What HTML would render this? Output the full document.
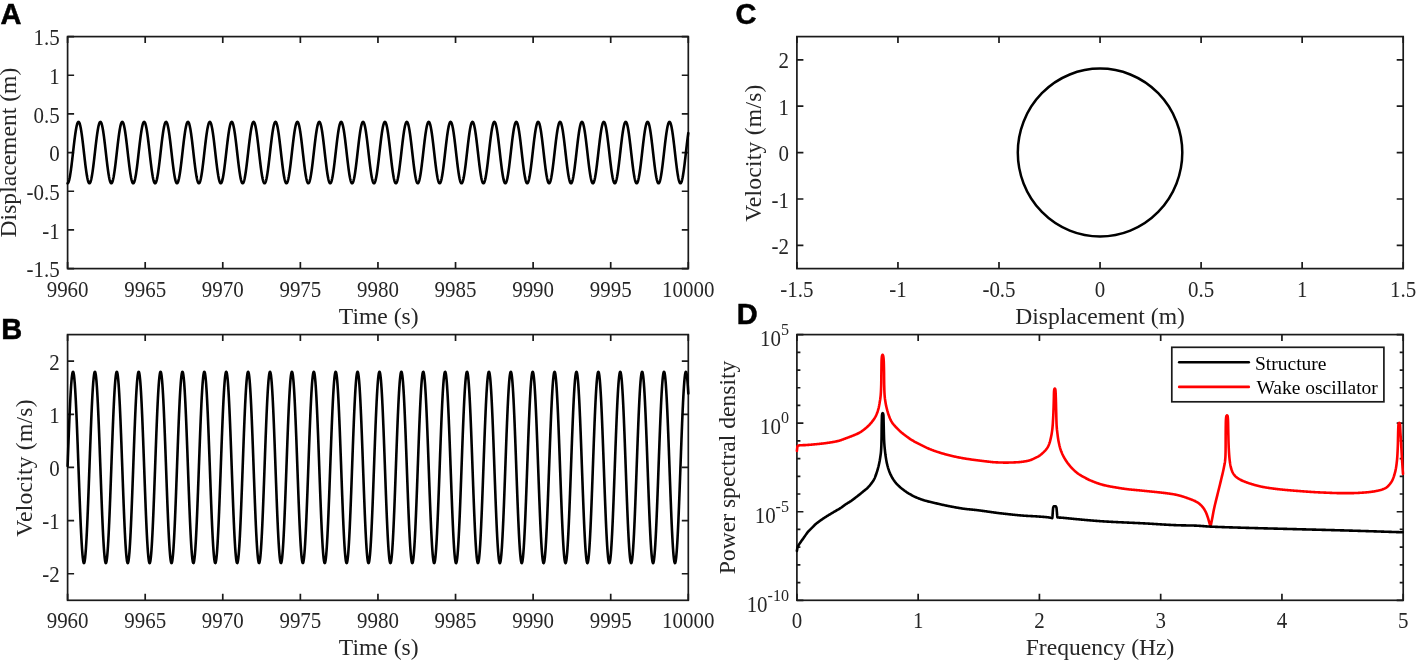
<!DOCTYPE html>
<html><head><meta charset="utf-8"><style>html,body{margin:0;padding:0;background:#fff;}svg{display:block;will-change:transform}text{font-kerning:normal;text-rendering:optimizeLegibility}</style></head>
<body><svg width="1417" height="662" viewBox="0 0 1417 662">
<style>.t{font-family:"Liberation Serif", serif;font-size:21.5px;fill:#262626} .l{font-family:"Liberation Serif", serif;font-size:23.6px;fill:#262626} .p{font-family:"Liberation Sans", sans-serif;font-size:29px;font-weight:bold;fill:#000;stroke:#000;stroke-width:0.5px} .g{font-family:"Liberation Serif", serif;font-size:19.5px;fill:#000} .s{font-family:"Liberation Serif", serif;font-size:16.5px;fill:#262626}</style>
<rect width="1417" height="662" fill="#fff"/>
<rect x="67.6" y="36.6" width="620.7" height="232" fill="none" stroke="#1a1a1a" stroke-width="1.7"/>
<path d="M67.6 268.6v-6.5M67.6 36.6v6.5M145.19 268.6v-6.5M145.19 36.6v6.5M222.77 268.6v-6.5M222.77 36.6v6.5M300.36 268.6v-6.5M300.36 36.6v6.5M377.95 268.6v-6.5M377.95 36.6v6.5M455.54 268.6v-6.5M455.54 36.6v6.5M533.12 268.6v-6.5M533.12 36.6v6.5M610.71 268.6v-6.5M610.71 36.6v6.5M688.3 268.6v-6.5M688.3 36.6v6.5M67.6 268.6h6.5M688.3 268.6h-6.5M67.6 229.93h6.5M688.3 229.93h-6.5M67.6 191.27h6.5M688.3 191.27h-6.5M67.6 152.6h6.5M688.3 152.6h-6.5M67.6 113.93h6.5M688.3 113.93h-6.5M67.6 75.27h6.5M688.3 75.27h-6.5M67.6 36.6h6.5M688.3 36.6h-6.5" stroke="#1a1a1a" stroke-width="1.7" fill="none"/>
<text transform="translate(67.6 296.6) scale(0.975 1.05)" text-anchor="middle" class="t">9960</text>
<text transform="translate(145.19 296.6) scale(0.975 1.05)" text-anchor="middle" class="t">9965</text>
<text transform="translate(222.77 296.6) scale(0.975 1.05)" text-anchor="middle" class="t">9970</text>
<text transform="translate(300.36 296.6) scale(0.975 1.05)" text-anchor="middle" class="t">9975</text>
<text transform="translate(377.95 296.6) scale(0.975 1.05)" text-anchor="middle" class="t">9980</text>
<text transform="translate(455.54 296.6) scale(0.975 1.05)" text-anchor="middle" class="t">9985</text>
<text transform="translate(533.12 296.6) scale(0.975 1.05)" text-anchor="middle" class="t">9990</text>
<text transform="translate(610.71 296.6) scale(0.975 1.05)" text-anchor="middle" class="t">9995</text>
<text transform="translate(688.3 296.6) scale(0.975 1.05)" text-anchor="middle" class="t">10000</text>
<text transform="translate(59.7 277.2) scale(0.975 1.05)" text-anchor="end" class="t">-1.5</text>
<text transform="translate(59.7 238.53) scale(0.975 1.05)" text-anchor="end" class="t">-1</text>
<text transform="translate(59.7 199.87) scale(0.975 1.05)" text-anchor="end" class="t">-0.5</text>
<text transform="translate(59.7 161.2) scale(0.975 1.05)" text-anchor="end" class="t">0</text>
<text transform="translate(59.7 122.53) scale(0.975 1.05)" text-anchor="end" class="t">0.5</text>
<text transform="translate(59.7 83.87) scale(0.975 1.05)" text-anchor="end" class="t">1</text>
<text transform="translate(59.7 45.2) scale(0.975 1.05)" text-anchor="end" class="t">1.5</text>
<text transform="translate(16.1 152.6) rotate(-90)" text-anchor="middle" class="l">Displacement (m)</text>
<text x="378.75" y="323.6" text-anchor="middle" class="l">Time (s)</text>
<rect x="67.6" y="334.6" width="620.7" height="265.7" fill="none" stroke="#1a1a1a" stroke-width="1.7"/>
<path d="M67.6 600.3v-6.5M67.6 334.6v6.5M145.19 600.3v-6.5M145.19 334.6v6.5M222.77 600.3v-6.5M222.77 334.6v6.5M300.36 600.3v-6.5M300.36 334.6v6.5M377.95 600.3v-6.5M377.95 334.6v6.5M455.54 600.3v-6.5M455.54 334.6v6.5M533.12 600.3v-6.5M533.12 334.6v6.5M610.71 600.3v-6.5M610.71 334.6v6.5M688.3 600.3v-6.5M688.3 334.6v6.5M67.6 573.73h6.5M688.3 573.73h-6.5M67.6 520.59h6.5M688.3 520.59h-6.5M67.6 467.45h6.5M688.3 467.45h-6.5M67.6 414.31h6.5M688.3 414.31h-6.5M67.6 361.17h6.5M688.3 361.17h-6.5" stroke="#1a1a1a" stroke-width="1.7" fill="none"/>
<text transform="translate(67.6 628.3) scale(0.975 1.05)" text-anchor="middle" class="t">9960</text>
<text transform="translate(145.19 628.3) scale(0.975 1.05)" text-anchor="middle" class="t">9965</text>
<text transform="translate(222.77 628.3) scale(0.975 1.05)" text-anchor="middle" class="t">9970</text>
<text transform="translate(300.36 628.3) scale(0.975 1.05)" text-anchor="middle" class="t">9975</text>
<text transform="translate(377.95 628.3) scale(0.975 1.05)" text-anchor="middle" class="t">9980</text>
<text transform="translate(455.54 628.3) scale(0.975 1.05)" text-anchor="middle" class="t">9985</text>
<text transform="translate(533.12 628.3) scale(0.975 1.05)" text-anchor="middle" class="t">9990</text>
<text transform="translate(610.71 628.3) scale(0.975 1.05)" text-anchor="middle" class="t">9995</text>
<text transform="translate(688.3 628.3) scale(0.975 1.05)" text-anchor="middle" class="t">10000</text>
<text transform="translate(59.7 582.33) scale(0.975 1.05)" text-anchor="end" class="t">-2</text>
<text transform="translate(59.7 529.19) scale(0.975 1.05)" text-anchor="end" class="t">-1</text>
<text transform="translate(59.7 476.05) scale(0.975 1.05)" text-anchor="end" class="t">0</text>
<text transform="translate(59.7 422.91) scale(0.975 1.05)" text-anchor="end" class="t">1</text>
<text transform="translate(59.7 369.77) scale(0.975 1.05)" text-anchor="end" class="t">2</text>
<text transform="translate(31.9 468.05) rotate(-90)" text-anchor="middle" class="l" textLength="137.3" lengthAdjust="spacing">Velocity (m/s)</text>
<text x="378.75" y="655.3" text-anchor="middle" class="l">Time (s)</text>
<rect x="796.9" y="36.6" width="606.3" height="232" fill="none" stroke="#1a1a1a" stroke-width="1.7"/>
<path d="M796.9 268.6v-6.5M796.9 36.6v6.5M897.95 268.6v-6.5M897.95 36.6v6.5M999 268.6v-6.5M999 36.6v6.5M1100.05 268.6v-6.5M1100.05 36.6v6.5M1201.1 268.6v-6.5M1201.1 36.6v6.5M1302.15 268.6v-6.5M1302.15 36.6v6.5M1403.2 268.6v-6.5M1403.2 36.6v6.5M796.9 245.4h6.5M1403.2 245.4h-6.5M796.9 199h6.5M1403.2 199h-6.5M796.9 152.6h6.5M1403.2 152.6h-6.5M796.9 106.2h6.5M1403.2 106.2h-6.5M796.9 59.8h6.5M1403.2 59.8h-6.5" stroke="#1a1a1a" stroke-width="1.7" fill="none"/>
<text transform="translate(796.9 296.6) scale(0.975 1.05)" text-anchor="middle" class="t">-1.5</text>
<text transform="translate(897.95 296.6) scale(0.975 1.05)" text-anchor="middle" class="t">-1</text>
<text transform="translate(999 296.6) scale(0.975 1.05)" text-anchor="middle" class="t">-0.5</text>
<text transform="translate(1100.05 296.6) scale(0.975 1.05)" text-anchor="middle" class="t">0</text>
<text transform="translate(1201.1 296.6) scale(0.975 1.05)" text-anchor="middle" class="t">0.5</text>
<text transform="translate(1302.15 296.6) scale(0.975 1.05)" text-anchor="middle" class="t">1</text>
<text transform="translate(1403.2 296.6) scale(0.975 1.05)" text-anchor="middle" class="t">1.5</text>
<text transform="translate(789 254) scale(0.975 1.05)" text-anchor="end" class="t">-2</text>
<text transform="translate(789 207.6) scale(0.975 1.05)" text-anchor="end" class="t">-1</text>
<text transform="translate(789 161.2) scale(0.975 1.05)" text-anchor="end" class="t">0</text>
<text transform="translate(789 114.8) scale(0.975 1.05)" text-anchor="end" class="t">1</text>
<text transform="translate(789 68.4) scale(0.975 1.05)" text-anchor="end" class="t">2</text>
<text transform="translate(761.2 153.2) rotate(-90)" text-anchor="middle" class="l" textLength="137.3" lengthAdjust="spacing">Velocity (m/s)</text>
<text x="1100.05" y="323.6" text-anchor="middle" class="l">Displacement (m)</text>
<rect x="796.9" y="334.6" width="606.3" height="265.7" fill="none" stroke="#1a1a1a" stroke-width="1.7"/>
<path d="M796.9 600.3v-6.5M796.9 334.6v6.5M918.16 600.3v-6.5M918.16 334.6v6.5M1039.42 600.3v-6.5M1039.42 334.6v6.5M1160.68 600.3v-6.5M1160.68 334.6v6.5M1281.94 600.3v-6.5M1281.94 334.6v6.5M1403.2 600.3v-6.5M1403.2 334.6v6.5M796.9 600.3h6.5M1403.2 600.3h-6.5M796.9 511.73h6.5M1403.2 511.73h-6.5M796.9 423.17h6.5M1403.2 423.17h-6.5M796.9 334.6h6.5M1403.2 334.6h-6.5M796.9 582.59h3.5M1403.2 582.59h-3.5M796.9 564.87h3.5M1403.2 564.87h-3.5M796.9 547.16h3.5M1403.2 547.16h-3.5M796.9 529.45h3.5M1403.2 529.45h-3.5M796.9 494.02h3.5M1403.2 494.02h-3.5M796.9 476.31h3.5M1403.2 476.31h-3.5M796.9 458.59h3.5M1403.2 458.59h-3.5M796.9 440.88h3.5M1403.2 440.88h-3.5M796.9 405.45h3.5M1403.2 405.45h-3.5M796.9 387.74h3.5M1403.2 387.74h-3.5M796.9 370.03h3.5M1403.2 370.03h-3.5M796.9 352.31h3.5M1403.2 352.31h-3.5" stroke="#1a1a1a" stroke-width="1.7" fill="none"/>
<text transform="translate(796.9 628.3) scale(0.975 1.05)" text-anchor="middle" class="t">0</text>
<text transform="translate(918.16 628.3) scale(0.975 1.05)" text-anchor="middle" class="t">1</text>
<text transform="translate(1039.42 628.3) scale(0.975 1.05)" text-anchor="middle" class="t">2</text>
<text transform="translate(1160.68 628.3) scale(0.975 1.05)" text-anchor="middle" class="t">3</text>
<text transform="translate(1281.94 628.3) scale(0.975 1.05)" text-anchor="middle" class="t">4</text>
<text transform="translate(1403.2 628.3) scale(0.975 1.05)" text-anchor="middle" class="t">5</text>
<text transform="translate(789 611.6) scale(0.975 1.05)" text-anchor="end" class="t">10<tspan class="s" dy="-10.5">-10</tspan></text>
<text transform="translate(789 523.03) scale(0.975 1.05)" text-anchor="end" class="t">10<tspan class="s" dy="-10.5">-5</tspan></text>
<text transform="translate(789 434.47) scale(0.975 1.05)" text-anchor="end" class="t">10<tspan class="s" dy="-10.5">0</tspan></text>
<text transform="translate(789 345.9) scale(0.975 1.05)" text-anchor="end" class="t">10<tspan class="s" dy="-10.5">5</tspan></text>
<text transform="translate(735.1 467.45) rotate(-90)" text-anchor="middle" class="l">Power spectral density</text>
<text x="1100.05" y="655.3" text-anchor="middle" class="l">Frequency (Hz)</text>
<polyline points="67.60,183.30 67.76,183.25 67.91,183.14 68.07,182.96 68.22,182.73 68.38,182.44 68.53,182.09 68.69,181.68 68.84,181.21 69.00,180.69 69.15,180.11 69.31,179.47 69.46,178.78 69.62,178.04 69.77,177.25 69.93,176.41 70.08,175.53 70.24,174.60 70.39,173.62 70.55,172.60 70.70,171.55 70.86,170.45 71.01,169.32 71.17,168.16 71.33,166.96 71.48,165.74 71.64,164.49 71.79,163.22 71.95,161.92 72.10,160.61 72.26,159.28 72.41,157.94 72.57,156.59 72.72,155.23 72.88,153.87 73.03,152.50 73.19,151.13 73.34,149.77 73.50,148.41 73.65,147.06 73.81,145.72 73.96,144.39 74.12,143.08 74.27,141.79 74.43,140.52 74.58,139.28 74.74,138.06 74.90,136.87 75.05,135.71 75.21,134.59 75.36,133.50 75.52,132.45 75.67,131.43 75.83,130.46 75.98,129.54 76.14,128.66 76.29,127.83 76.45,127.04 76.60,126.31 76.76,125.63 76.91,125.00 77.07,124.43 77.22,123.92 77.38,123.46 77.53,123.06 77.69,122.71 77.84,122.43 78.00,122.21 78.15,122.04 78.31,121.94 78.46,121.90 78.62,121.92 78.78,122.00 78.93,122.14 79.09,122.34 79.24,122.60 79.40,122.92 79.55,123.30 79.71,123.74 79.86,124.24 80.02,124.79 80.17,125.40 80.33,126.06 80.48,126.77 80.64,127.54 80.79,128.35 80.95,129.21 81.10,130.12 81.26,131.07 81.41,132.07 81.57,133.11 81.72,134.18 81.88,135.30 82.03,136.44 82.19,137.62 82.35,138.83 82.50,140.07 82.66,141.33 82.81,142.61 82.97,143.91 83.12,145.23 83.28,146.57 83.43,147.91 83.59,149.27 83.74,150.63 83.90,152.00 84.05,153.37 84.21,154.73 84.36,156.10 84.52,157.45 84.67,158.80 84.83,160.13 84.98,161.45 85.14,162.75 85.29,164.03 85.45,165.29 85.60,166.52 85.76,167.72 85.92,168.90 86.07,170.04 86.23,171.15 86.38,172.22 86.54,173.25 86.69,174.24 86.85,175.19 87.00,176.10 87.16,176.95 87.31,177.76 87.47,178.52 87.62,179.23 87.78,179.88 87.93,180.48 88.09,181.03 88.24,181.51 88.40,181.95 88.55,182.32 88.71,182.63 88.86,182.89 89.02,183.08 89.17,183.21 89.33,183.29 89.49,183.30 89.64,183.25 89.80,183.14 89.95,182.97 90.11,182.74 90.26,182.45 90.42,182.10 90.57,181.69 90.73,181.22 90.88,180.70 91.04,180.12 91.19,179.49 91.35,178.80 91.50,178.06 91.66,177.27 91.81,176.44 91.97,175.55 92.12,174.62 92.28,173.64 92.43,172.63 92.59,171.57 92.74,170.48 92.90,169.35 93.06,168.19 93.21,166.99 93.37,165.77 93.52,164.52 93.68,163.25 93.83,161.96 93.99,160.65 94.14,159.32 94.30,157.98 94.45,156.62 94.61,155.27 94.76,153.90 94.92,152.53 95.07,151.17 95.23,149.80 95.38,148.44 95.54,147.09 95.69,145.75 95.85,144.43 96.00,143.12 96.16,141.82 96.31,140.55 96.47,139.31 96.62,138.09 96.78,136.90 96.94,135.74 97.09,134.61 97.25,133.52 97.40,132.47 97.56,131.46 97.71,130.49 97.87,129.56 98.02,128.68 98.18,127.85 98.33,127.06 98.49,126.33 98.64,125.65 98.80,125.02 98.95,124.45 99.11,123.93 99.26,123.47 99.42,123.07 99.57,122.72 99.73,122.44 99.88,122.21 100.04,122.05 100.19,121.94 100.35,121.90 100.51,121.92 100.66,122.00 100.82,122.14 100.97,122.34 101.13,122.60 101.28,122.92 101.44,123.29 101.59,123.73 101.75,124.22 101.90,124.77 102.06,125.38 102.21,126.04 102.37,126.75 102.52,127.52 102.68,128.33 102.83,129.19 102.99,130.10 103.14,131.05 103.30,132.05 103.45,133.08 103.61,134.16 103.76,135.27 103.92,136.41 104.08,137.59 104.23,138.80 104.39,140.04 104.54,141.30 104.70,142.58 104.85,143.88 105.01,145.20 105.16,146.53 105.32,147.88 105.47,149.24 105.63,150.60 105.78,151.97 105.94,153.33 106.09,154.70 106.25,156.06 106.40,157.42 106.56,158.76 106.71,160.10 106.87,161.42 107.02,162.72 107.18,164.00 107.33,165.26 107.49,166.49 107.65,167.69 107.80,168.87 107.96,170.01 108.11,171.12 108.27,172.19 108.42,173.23 108.58,174.22 108.73,175.17 108.89,176.07 109.04,176.93 109.20,177.74 109.35,178.50 109.51,179.21 109.66,179.87 109.82,180.47 109.97,181.01 110.13,181.50 110.28,181.94 110.44,182.31 110.59,182.63 110.75,182.88 110.90,183.08 111.06,183.21 111.22,183.29 111.37,183.30 111.53,183.25 111.68,183.14 111.84,182.97 111.99,182.74 112.15,182.46 112.30,182.11 112.46,181.70 112.61,181.24 112.77,180.71 112.92,180.14 113.08,179.50 113.23,178.82 113.39,178.08 113.54,177.29 113.70,176.46 113.85,175.57 114.01,174.64 114.16,173.67 114.32,172.65 114.47,171.60 114.63,170.51 114.78,169.38 114.94,168.21 115.10,167.02 115.25,165.80 115.41,164.55 115.56,163.28 115.72,161.99 115.87,160.68 116.03,159.35 116.18,158.01 116.34,156.66 116.49,155.30 116.65,153.93 116.80,152.57 116.96,151.20 117.11,149.83 117.27,148.48 117.42,147.12 117.58,145.78 117.73,144.46 117.89,143.15 118.04,141.86 118.20,140.59 118.35,139.34 118.51,138.12 118.67,136.93 118.82,135.77 118.98,134.64 119.13,133.55 119.29,132.50 119.44,131.48 119.60,130.51 119.75,129.58 119.91,128.70 120.06,127.87 120.22,127.08 120.37,126.35 120.53,125.66 120.68,125.03 120.84,124.46 120.99,123.94 121.15,123.48 121.30,123.07 121.46,122.73 121.61,122.44 121.77,122.22 121.92,122.05 122.08,121.94 122.24,121.90 122.39,121.92 122.55,121.99 122.70,122.13 122.86,122.33 123.01,122.59 123.17,122.91 123.32,123.28 123.48,123.72 123.63,124.21 123.79,124.76 123.94,125.36 124.10,126.02 124.25,126.73 124.41,127.50 124.56,128.31 124.72,129.17 124.87,130.08 125.03,131.03 125.18,132.02 125.34,133.06 125.49,134.13 125.65,135.24 125.81,136.39 125.96,137.56 126.12,138.77 126.27,140.00 126.43,141.26 126.58,142.55 126.74,143.85 126.89,145.17 127.05,146.50 127.20,147.85 127.36,149.20 127.51,150.57 127.67,151.93 127.82,153.30 127.98,154.67 128.13,156.03 128.29,157.38 128.44,158.73 128.60,160.06 128.75,161.38 128.91,162.68 129.06,163.97 129.22,165.22 129.38,166.46 129.53,167.67 129.69,168.84 129.84,169.99 130.00,171.10 130.15,172.17 130.31,173.20 130.46,174.20 130.62,175.15 130.77,176.05 130.93,176.91 131.08,177.72 131.24,178.48 131.39,179.19 131.55,179.85 131.70,180.45 131.86,181.00 132.01,181.49 132.17,181.93 132.32,182.30 132.48,182.62 132.63,182.88 132.79,183.07 132.95,183.21 133.10,183.28 133.26,183.30 133.41,183.25 133.57,183.15 133.72,182.98 133.88,182.75 134.03,182.46 134.19,182.12 134.34,181.71 134.50,181.25 134.65,180.73 134.81,180.15 134.96,179.52 135.12,178.84 135.27,178.10 135.43,177.31 135.58,176.48 135.74,175.60 135.89,174.67 136.05,173.69 136.20,172.68 136.36,171.62 136.51,170.53 136.67,169.41 136.83,168.24 136.98,167.05 137.14,165.83 137.29,164.58 137.45,163.31 137.60,162.02 137.76,160.71 137.91,159.38 138.07,158.04 138.22,156.69 138.38,155.33 138.53,153.97 138.69,152.60 138.84,151.23 139.00,149.87 139.15,148.51 139.31,147.16 139.46,145.82 139.62,144.49 139.77,143.18 139.93,141.89 140.08,140.62 140.24,139.37 140.40,138.15 140.55,136.96 140.71,135.80 140.86,134.67 141.02,133.58 141.17,132.52 141.33,131.51 141.48,130.53 141.64,129.61 141.79,128.72 141.95,127.89 142.10,127.10 142.26,126.36 142.41,125.68 142.57,125.05 142.72,124.47 142.88,123.95 143.03,123.49 143.19,123.08 143.34,122.74 143.50,122.45 143.65,122.22 143.81,122.05 143.97,121.95 144.12,121.90 144.28,121.92 144.43,121.99 144.59,122.13 144.74,122.32 144.90,122.58 145.05,122.90 145.21,123.27 145.36,123.71 145.52,124.20 145.67,124.75 145.83,125.35 145.98,126.01 146.14,126.72 146.29,127.48 146.45,128.29 146.60,129.15 146.76,130.05 146.91,131.00 147.07,132.00 147.22,133.03 147.38,134.10 147.54,135.21 147.69,136.36 147.85,137.53 148.00,138.74 148.16,139.97 148.31,141.23 148.47,142.51 148.62,143.82 148.78,145.13 148.93,146.47 149.09,147.81 149.24,149.17 149.40,150.53 149.55,151.90 149.71,153.27 149.86,154.63 150.02,156.00 150.17,157.35 150.33,158.70 150.48,160.03 150.64,161.35 150.79,162.65 150.95,163.93 151.11,165.19 151.26,166.43 151.42,167.64 151.57,168.81 151.73,169.96 151.88,171.07 152.04,172.14 152.19,173.18 152.35,174.17 152.50,175.12 152.66,176.03 152.81,176.89 152.97,177.70 153.12,178.47 153.28,179.18 153.43,179.83 153.59,180.44 153.74,180.99 153.90,181.48 154.05,181.92 154.21,182.29 154.36,182.61 154.52,182.87 154.67,183.07 154.83,183.21 154.99,183.28 155.14,183.30 155.30,183.26 155.45,183.15 155.61,182.98 155.76,182.76 155.92,182.47 156.07,182.13 156.23,181.72 156.38,181.26 156.54,180.74 156.69,180.17 156.85,179.54 157.00,178.85 157.16,178.12 157.31,177.33 157.47,176.50 157.62,175.62 157.78,174.69 157.93,173.72 158.09,172.70 158.24,171.65 158.40,170.56 158.56,169.43 158.71,168.27 158.87,167.08 159.02,165.86 159.18,164.62 159.33,163.34 159.49,162.05 159.64,160.74 159.80,159.42 159.95,158.08 160.11,156.73 160.26,155.37 160.42,154.00 160.57,152.63 160.73,151.27 160.88,149.90 161.04,148.54 161.19,147.19 161.35,145.85 161.50,144.52 161.66,143.21 161.81,141.92 161.97,140.65 162.13,139.40 162.28,138.18 162.44,136.99 162.59,135.82 162.75,134.70 162.90,133.60 163.06,132.55 163.21,131.53 163.37,130.56 163.52,129.63 163.68,128.74 163.83,127.91 163.99,127.12 164.14,126.38 164.30,125.70 164.45,125.06 164.61,124.49 164.76,123.96 164.92,123.50 165.07,123.09 165.23,122.74 165.38,122.46 165.54,122.23 165.70,122.06 165.85,121.95 166.01,121.90 166.16,121.91 166.32,121.99 166.47,122.12 166.63,122.32 166.78,122.57 166.94,122.89 167.09,123.26 167.25,123.70 167.40,124.19 167.56,124.73 167.71,125.33 167.87,125.99 168.02,126.70 168.18,127.46 168.33,128.27 168.49,129.12 168.64,130.03 168.80,130.98 168.95,131.97 169.11,133.00 169.27,134.08 169.42,135.18 169.58,136.33 169.73,137.50 169.89,138.71 170.04,139.94 170.20,141.20 170.35,142.48 170.51,143.78 170.66,145.10 170.82,146.44 170.97,147.78 171.13,149.14 171.28,150.50 171.44,151.86 171.59,153.23 171.75,154.60 171.90,155.96 172.06,157.32 172.21,158.66 172.37,160.00 172.52,161.32 172.68,162.62 172.83,163.90 172.99,165.16 173.15,166.40 173.30,167.61 173.46,168.78 173.61,169.93 173.77,171.04 173.92,172.12 174.08,173.15 174.23,174.15 174.39,175.10 174.54,176.01 174.70,176.87 174.85,177.68 175.01,178.45 175.16,179.16 175.32,179.82 175.47,180.42 175.63,180.97 175.78,181.47 175.94,181.91 176.09,182.28 176.25,182.60 176.40,182.86 176.56,183.06 176.72,183.20 176.87,183.28 177.03,183.30 177.18,183.26 177.34,183.15 177.49,182.99 177.65,182.76 177.80,182.48 177.96,182.14 178.11,181.73 178.27,181.27 178.42,180.75 178.58,180.18 178.73,179.55 178.89,178.87 179.04,178.14 179.20,177.35 179.35,176.52 179.51,175.64 179.66,174.71 179.82,173.74 179.97,172.73 180.13,171.68 180.29,170.59 180.44,169.46 180.60,168.30 180.75,167.11 180.91,165.89 181.06,164.65 181.22,163.38 181.37,162.09 181.53,160.78 181.68,159.45 181.84,158.11 181.99,156.76 182.15,155.40 182.30,154.04 182.46,152.67 182.61,151.30 182.77,149.94 182.92,148.58 183.08,147.22 183.23,145.88 183.39,144.56 183.54,143.24 183.70,141.95 183.86,140.68 184.01,139.43 184.17,138.21 184.32,137.02 184.48,135.85 184.63,134.72 184.79,133.63 184.94,132.57 185.10,131.56 185.25,130.58 185.41,129.65 185.56,128.77 185.72,127.93 185.87,127.14 186.03,126.40 186.18,125.71 186.34,125.08 186.49,124.50 186.65,123.98 186.80,123.51 186.96,123.10 187.11,122.75 187.27,122.46 187.43,122.23 187.58,122.06 187.74,121.95 187.89,121.90 188.05,121.91 188.20,121.99 188.36,122.12 188.51,122.31 188.67,122.57 188.82,122.88 188.98,123.25 189.13,123.68 189.29,124.17 189.44,124.72 189.60,125.32 189.75,125.97 189.91,126.68 190.06,127.44 190.22,128.25 190.37,129.10 190.53,130.01 190.68,130.95 190.84,131.95 190.99,132.98 191.15,134.05 191.31,135.16 191.46,136.30 191.62,137.47 191.77,138.68 191.93,139.91 192.08,141.17 192.24,142.45 192.39,143.75 192.55,145.07 192.70,146.40 192.86,147.75 193.01,149.10 193.17,150.46 193.32,151.83 193.48,153.20 193.63,154.57 193.79,155.93 193.94,157.28 194.10,158.63 194.25,159.97 194.41,161.29 194.56,162.59 194.72,163.87 194.88,165.13 195.03,166.37 195.19,167.58 195.34,168.76 195.50,169.90 195.65,171.01 195.81,172.09 195.96,173.13 196.12,174.12 196.27,175.08 196.43,175.99 196.58,176.85 196.74,177.66 196.89,178.43 197.05,179.14 197.20,179.80 197.36,180.41 197.51,180.96 197.67,181.46 197.82,181.90 197.98,182.28 198.13,182.60 198.29,182.86 198.45,183.06 198.60,183.20 198.76,183.28 198.91,183.30 199.07,183.26 199.22,183.16 199.38,182.99 199.53,182.77 199.69,182.49 199.84,182.14 200.00,181.74 200.15,181.28 200.31,180.77 200.46,180.20 200.62,179.57 200.77,178.89 200.93,178.16 201.08,177.37 201.24,176.54 201.39,175.66 201.55,174.74 201.70,173.77 201.86,172.76 202.02,171.70 202.17,170.62 202.33,169.49 202.48,168.33 202.64,167.14 202.79,165.92 202.95,164.68 203.10,163.41 203.26,162.12 203.41,160.81 203.57,159.48 203.72,158.14 203.88,156.79 204.03,155.43 204.19,154.07 204.34,152.70 204.50,151.33 204.65,149.97 204.81,148.61 204.96,147.26 205.12,145.92 205.27,144.59 205.43,143.28 205.59,141.98 205.74,140.71 205.90,139.46 206.05,138.24 206.21,137.04 206.36,135.88 206.52,134.75 206.67,133.66 206.83,132.60 206.98,131.58 207.14,130.61 207.29,129.67 207.45,128.79 207.60,127.95 207.76,127.16 207.91,126.42 208.07,125.73 208.22,125.09 208.38,124.51 208.53,123.99 208.69,123.52 208.84,123.11 209.00,122.76 209.15,122.47 209.31,122.24 209.47,122.06 209.62,121.95 209.78,121.90 209.93,121.91 210.09,121.98 210.24,122.12 210.40,122.31 210.55,122.56 210.71,122.87 210.86,123.24 211.02,123.67 211.17,124.16 211.33,124.70 211.48,125.30 211.64,125.96 211.79,126.66 211.95,127.42 212.10,128.23 212.26,129.08 212.41,129.98 212.57,130.93 212.72,131.92 212.88,132.95 213.04,134.02 213.19,135.13 213.35,136.27 213.50,137.45 213.66,138.65 213.81,139.88 213.97,141.14 214.12,142.42 214.28,143.72 214.43,145.04 214.59,146.37 214.74,147.71 214.90,149.07 215.05,150.43 215.21,151.80 215.36,153.16 215.52,154.53 215.67,155.89 215.83,157.25 215.98,158.60 216.14,159.93 216.29,161.25 216.45,162.56 216.61,163.84 216.76,165.10 216.92,166.34 217.07,167.55 217.23,168.73 217.38,169.87 217.54,170.99 217.69,172.06 217.85,173.10 218.00,174.10 218.16,175.05 218.31,175.97 218.47,176.83 218.62,177.64 218.78,178.41 218.93,179.13 219.09,179.79 219.24,180.40 219.40,180.95 219.55,181.45 219.71,181.89 219.86,182.27 220.02,182.59 220.18,182.85 220.33,183.06 220.49,183.20 220.64,183.28 220.80,183.30 220.95,183.26 221.11,183.16 221.26,183.00 221.42,182.78 221.57,182.49 221.73,182.15 221.88,181.75 222.04,181.30 222.19,180.78 222.35,180.21 222.50,179.59 222.66,178.91 222.81,178.18 222.97,177.39 223.12,176.56 223.28,175.68 223.43,174.76 223.59,173.79 223.75,172.78 223.90,171.73 224.06,170.64 224.21,169.52 224.37,168.36 224.52,167.17 224.68,165.95 224.83,164.71 224.99,163.44 225.14,162.15 225.30,160.84 225.45,159.52 225.61,158.18 225.76,156.83 225.92,155.47 226.07,154.10 226.23,152.74 226.38,151.37 226.54,150.00 226.69,148.64 226.85,147.29 227.00,145.95 227.16,144.62 227.32,143.31 227.47,142.01 227.63,140.74 227.78,139.49 227.94,138.27 228.09,137.07 228.25,135.91 228.40,134.78 228.56,133.68 228.71,132.62 228.87,131.61 229.02,130.63 229.18,129.70 229.33,128.81 229.49,127.97 229.64,127.18 229.80,126.43 229.95,125.74 230.11,125.11 230.26,124.53 230.42,124.00 230.57,123.53 230.73,123.12 230.88,122.77 231.04,122.47 231.20,122.24 231.35,122.07 231.51,121.95 231.66,121.90 231.82,121.91 231.97,121.98 232.13,122.11 232.28,122.30 232.44,122.55 232.59,122.86 232.75,123.23 232.90,123.66 233.06,124.15 233.21,124.69 233.37,125.29 233.52,125.94 233.68,126.64 233.83,127.40 233.99,128.21 234.14,129.06 234.30,129.96 234.45,130.91 234.61,131.90 234.77,132.93 234.92,134.00 235.08,135.10 235.23,136.24 235.39,137.42 235.54,138.62 235.70,139.85 235.85,141.11 236.01,142.39 236.16,143.69 236.32,145.00 236.47,146.34 236.63,147.68 236.78,149.04 236.94,150.40 237.09,151.76 237.25,153.13 237.40,154.50 237.56,155.86 237.71,157.22 237.87,158.56 238.02,159.90 238.18,161.22 238.34,162.52 238.49,163.81 238.65,165.07 238.80,166.31 238.96,167.52 239.11,168.70 239.27,169.85 239.42,170.96 239.58,172.04 239.73,173.08 239.89,174.08 240.04,175.03 240.20,175.94 240.35,176.81 240.51,177.63 240.66,178.39 240.82,179.11 240.97,179.77 241.13,180.38 241.28,180.94 241.44,181.43 241.59,181.88 241.75,182.26 241.91,182.58 242.06,182.85 242.22,183.05 242.37,183.20 242.53,183.28 242.68,183.30 242.84,183.26 242.99,183.16 243.15,183.00 243.30,182.78 243.46,182.50 243.61,182.16 243.77,181.76 243.92,181.31 244.08,180.80 244.23,180.23 244.39,179.60 244.54,178.92 244.70,178.19 244.85,177.41 245.01,176.58 245.16,175.71 245.32,174.78 245.48,173.82 245.63,172.81 245.79,171.76 245.94,170.67 246.10,169.55 246.25,168.39 246.41,167.20 246.56,165.98 246.72,164.74 246.87,163.47 247.03,162.18 247.18,160.87 247.34,159.55 247.49,158.21 247.65,156.86 247.80,155.50 247.96,154.14 248.11,152.77 248.27,151.40 248.42,150.04 248.58,148.68 248.73,147.32 248.89,145.98 249.04,144.65 249.20,143.34 249.36,142.05 249.51,140.77 249.67,139.52 249.82,138.30 249.98,137.10 250.13,135.94 250.29,134.81 250.44,133.71 250.60,132.65 250.75,131.63 250.91,130.65 251.06,129.72 251.22,128.83 251.37,127.99 251.53,127.19 251.68,126.45 251.84,125.76 251.99,125.12 252.15,124.54 252.30,124.01 252.46,123.54 252.61,123.13 252.77,122.78 252.93,122.48 253.08,122.25 253.24,122.07 253.39,121.96 253.55,121.90 253.70,121.91 253.86,121.98 254.01,122.11 254.17,122.30 254.32,122.55 254.48,122.86 254.63,123.22 254.79,123.65 254.94,124.13 255.10,124.68 255.25,125.27 255.41,125.92 255.56,126.62 255.72,127.38 255.87,128.18 256.03,129.04 256.18,129.94 256.34,130.88 256.50,131.87 256.65,132.90 256.81,133.97 256.96,135.07 257.12,136.21 257.27,137.39 257.43,138.59 257.58,139.82 257.74,141.08 257.89,142.35 258.05,143.65 258.20,144.97 258.36,146.30 258.51,147.65 258.67,149.00 258.82,150.36 258.98,151.73 259.13,153.10 259.29,154.46 259.44,155.83 259.60,157.18 259.75,158.53 259.91,159.87 260.07,161.19 260.22,162.49 260.38,163.78 260.53,165.04 260.69,166.28 260.84,167.49 261.00,168.67 261.15,169.82 261.31,170.93 261.46,172.01 261.62,173.05 261.77,174.05 261.93,175.01 262.08,175.92 262.24,176.79 262.39,177.61 262.55,178.37 262.70,179.09 262.86,179.76 263.01,180.37 263.17,180.92 263.32,181.42 263.48,181.86 263.64,182.25 263.79,182.57 263.95,182.84 264.10,183.05 264.26,183.19 264.41,183.28 264.57,183.30 264.72,183.26 264.88,183.17 265.03,183.01 265.19,182.79 265.34,182.51 265.50,182.17 265.65,181.77 265.81,181.32 265.96,180.81 266.12,180.24 266.27,179.62 266.43,178.94 266.58,178.21 266.74,177.43 266.89,176.61 267.05,175.73 267.20,174.81 267.36,173.84 267.52,172.83 267.67,171.78 267.83,170.70 267.98,169.57 268.14,168.42 268.29,167.23 268.45,166.01 268.60,164.77 268.76,163.50 268.91,162.21 269.07,160.91 269.22,159.58 269.38,158.24 269.53,156.89 269.69,155.53 269.84,154.17 270.00,152.80 270.15,151.44 270.31,150.07 270.46,148.71 270.62,147.36 270.77,146.02 270.93,144.69 271.09,143.37 271.24,142.08 271.40,140.80 271.55,139.55 271.71,138.33 271.86,137.13 272.02,135.97 272.17,134.83 272.33,133.74 272.48,132.68 272.64,131.66 272.79,130.68 272.95,129.74 273.10,128.85 273.26,128.01 273.41,127.21 273.57,126.47 273.72,125.78 273.88,125.14 274.03,124.55 274.19,124.03 274.34,123.55 274.50,123.14 274.66,122.78 274.81,122.49 274.97,122.25 275.12,122.07 275.28,121.96 275.43,121.90 275.59,121.91 275.74,121.98 275.90,122.10 276.05,122.29 276.21,122.54 276.36,122.85 276.52,123.21 276.67,123.64 276.83,124.12 276.98,124.66 277.14,125.26 277.29,125.91 277.45,126.61 277.60,127.36 277.76,128.16 277.91,129.02 278.07,129.91 278.23,130.86 278.38,131.85 278.54,132.87 278.69,133.94 278.85,135.05 279.00,136.19 279.16,137.36 279.31,138.56 279.47,139.79 279.62,141.04 279.78,142.32 279.93,143.62 280.09,144.94 280.24,146.27 280.40,147.61 280.55,148.97 280.71,150.33 280.86,151.70 281.02,153.06 281.17,154.43 281.33,155.79 281.48,157.15 281.64,158.50 281.80,159.83 281.95,161.16 282.11,162.46 282.26,163.75 282.42,165.01 282.57,166.25 282.73,167.46 282.88,168.64 283.04,169.79 283.19,170.91 283.35,171.99 283.50,173.03 283.66,174.03 283.81,174.99 283.97,175.90 284.12,176.77 284.28,177.59 284.43,178.36 284.59,179.07 284.74,179.74 284.90,180.35 285.05,180.91 285.21,181.41 285.36,181.85 285.52,182.24 285.68,182.57 285.83,182.83 285.99,183.04 286.14,183.19 286.30,183.28 286.45,183.30 286.61,183.27 286.76,183.17 286.92,183.01 287.07,182.79 287.23,182.52 287.38,182.18 287.54,181.79 287.69,181.33 287.85,180.82 288.00,180.26 288.16,179.63 288.31,178.96 288.47,178.23 288.62,177.45 288.78,176.63 288.93,175.75 289.09,174.83 289.25,173.87 289.40,172.86 289.56,171.81 289.71,170.72 289.87,169.60 290.02,168.45 290.18,167.26 290.33,166.04 290.49,164.80 290.64,163.53 290.80,162.25 290.95,160.94 291.11,159.61 291.26,158.28 291.42,156.93 291.57,155.57 291.73,154.20 291.88,152.84 292.04,151.47 292.19,150.10 292.35,148.74 292.50,147.39 292.66,146.05 292.82,144.72 292.97,143.41 293.13,142.11 293.28,140.84 293.44,139.58 293.59,138.36 293.75,137.16 293.90,135.99 294.06,134.86 294.21,133.76 294.37,132.70 294.52,131.68 294.68,130.70 294.83,129.76 294.99,128.87 295.14,128.03 295.30,127.23 295.45,126.49 295.61,125.79 295.76,125.15 295.92,124.57 296.07,124.04 296.23,123.57 296.39,123.15 296.54,122.79 296.70,122.49 296.85,122.26 297.01,122.08 297.16,121.96 297.32,121.90 297.47,121.91 297.63,121.97 297.78,122.10 297.94,122.29 298.09,122.53 298.25,122.84 298.40,123.20 298.56,123.63 298.71,124.11 298.87,124.65 299.02,125.24 299.18,125.89 299.33,126.59 299.49,127.34 299.64,128.14 299.80,128.99 299.96,129.89 300.11,130.83 300.27,131.82 300.42,132.85 300.58,133.91 300.73,135.02 300.89,136.16 301.04,137.33 301.20,138.53 301.35,139.76 301.51,141.01 301.66,142.29 301.82,143.59 301.97,144.91 302.13,146.24 302.28,147.58 302.44,148.93 302.59,150.30 302.75,151.66 302.90,153.03 303.06,154.40 303.21,155.76 303.37,157.12 303.52,158.46 303.68,159.80 303.84,161.12 303.99,162.43 304.15,163.71 304.30,164.98 304.46,166.22 304.61,167.43 304.77,168.61 304.92,169.76 305.08,170.88 305.23,171.96 305.39,173.00 305.54,174.00 305.70,174.96 305.85,175.88 306.01,176.75 306.16,177.57 306.32,178.34 306.47,179.06 306.63,179.72 306.78,180.34 306.94,180.90 307.09,181.40 307.25,181.84 307.41,182.23 307.56,182.56 307.72,182.83 307.87,183.04 308.03,183.19 308.18,183.27 308.34,183.30 308.49,183.27 308.65,183.17 308.80,183.02 308.96,182.80 309.11,182.53 309.27,182.19 309.42,181.80 309.58,181.34 309.73,180.84 309.89,180.27 310.04,179.65 310.20,178.98 310.35,178.25 310.51,177.47 310.66,176.65 310.82,175.77 310.98,174.85 311.13,173.89 311.29,172.88 311.44,171.84 311.60,170.75 311.75,169.63 311.91,168.48 312.06,167.29 312.22,166.07 312.37,164.83 312.53,163.57 312.68,162.28 312.84,160.97 312.99,159.65 313.15,158.31 313.30,156.96 313.46,155.60 313.61,154.24 313.77,152.87 313.92,151.50 314.08,150.14 314.23,148.78 314.39,147.42 314.55,146.08 314.70,144.75 314.86,143.44 315.01,142.14 315.17,140.87 315.32,139.61 315.48,138.39 315.63,137.19 315.79,136.02 315.94,134.89 316.10,133.79 316.25,132.73 316.41,131.70 316.56,130.72 316.72,129.79 316.87,128.89 317.03,128.05 317.18,127.25 317.34,126.51 317.49,125.81 317.65,125.17 317.80,124.58 317.96,124.05 318.12,123.58 318.27,123.16 318.43,122.80 318.58,122.50 318.74,122.26 318.89,122.08 319.05,121.96 319.20,121.90 319.36,121.91 319.51,121.97 319.67,122.10 319.82,122.28 319.98,122.53 320.13,122.83 320.29,123.19 320.44,123.62 320.60,124.10 320.75,124.63 320.91,125.23 321.06,125.87 321.22,126.57 321.37,127.32 321.53,128.12 321.68,128.97 321.84,129.87 322.00,130.81 322.15,131.80 322.31,132.82 322.46,133.89 322.62,134.99 322.77,136.13 322.93,137.30 323.08,138.50 323.24,139.73 323.39,140.98 323.55,142.26 323.70,143.56 323.86,144.87 324.01,146.20 324.17,147.55 324.32,148.90 324.48,150.26 324.63,151.63 324.79,153.00 324.94,154.36 325.10,155.73 325.25,157.08 325.41,158.43 325.57,159.77 325.72,161.09 325.88,162.40 326.03,163.68 326.19,164.95 326.34,166.19 326.50,167.40 326.65,168.58 326.81,169.73 326.96,170.85 327.12,171.93 327.27,172.98 327.43,173.98 327.58,174.94 327.74,175.85 327.89,176.72 328.05,177.55 328.20,178.32 328.36,179.04 328.51,179.71 328.67,180.32 328.82,180.88 328.98,181.39 329.14,181.83 329.29,182.22 329.45,182.55 329.60,182.82 329.76,183.03 329.91,183.18 330.07,183.27 330.22,183.30 330.38,183.27 330.53,183.18 330.69,183.02 330.84,182.81 331.00,182.53 331.15,182.20 331.31,181.81 331.46,181.36 331.62,180.85 331.77,180.28 331.93,179.67 332.08,178.99 332.24,178.27 332.39,177.49 332.55,176.67 332.71,175.80 332.86,174.88 333.02,173.91 333.17,172.91 333.33,171.86 333.48,170.78 333.64,169.66 333.79,168.51 333.95,167.32 334.10,166.11 334.26,164.86 334.41,163.60 334.57,162.31 334.72,161.00 334.88,159.68 335.03,158.34 335.19,156.99 335.34,155.64 335.50,154.27 335.65,152.91 335.81,151.54 335.96,150.17 336.12,148.81 336.28,147.46 336.43,146.12 336.59,144.78 336.74,143.47 336.90,142.17 337.05,140.90 337.21,139.65 337.36,138.42 337.52,137.22 337.67,136.05 337.83,134.92 337.98,133.82 338.14,132.75 338.29,131.73 338.45,130.75 338.60,129.81 338.76,128.92 338.91,128.07 339.07,127.27 339.22,126.52 339.38,125.83 339.53,125.18 339.69,124.60 339.85,124.06 340.00,123.59 340.16,123.17 340.31,122.81 340.47,122.51 340.62,122.27 340.78,122.09 340.93,121.97 341.09,121.91 341.24,121.91 341.40,121.97 341.55,122.09 341.71,122.28 341.86,122.52 342.02,122.82 342.17,123.19 342.33,123.61 342.48,124.08 342.64,124.62 342.79,125.21 342.95,125.86 343.10,126.55 343.26,127.30 343.41,128.10 343.57,128.95 343.73,129.85 343.88,130.79 344.04,131.77 344.19,132.80 344.35,133.86 344.50,134.96 344.66,136.10 344.81,137.27 344.97,138.47 345.12,139.70 345.28,140.95 345.43,142.23 345.59,143.52 345.74,144.84 345.90,146.17 346.05,147.51 346.21,148.87 346.36,150.23 346.52,151.59 346.67,152.96 346.83,154.33 346.98,155.69 347.14,157.05 347.30,158.40 347.45,159.74 347.61,161.06 347.76,162.36 347.92,163.65 348.07,164.92 348.23,166.16 348.38,167.37 348.54,168.55 348.69,169.71 348.85,170.82 349.00,171.91 349.16,172.95 349.31,173.95 349.47,174.92 349.62,175.83 349.78,176.70 349.93,177.53 350.09,178.30 350.24,179.02 350.40,179.69 350.55,180.31 350.71,180.87 350.87,181.38 351.02,181.82 351.18,182.21 351.33,182.55 351.49,182.82 351.64,183.03 351.80,183.18 351.95,183.27 352.11,183.30 352.26,183.27 352.42,183.18 352.57,183.03 352.73,182.81 352.88,182.54 353.04,182.21 353.19,181.82 353.35,181.37 353.50,180.86 353.66,180.30 353.81,179.68 353.97,179.01 354.12,178.29 354.28,177.51 354.44,176.69 354.59,175.82 354.75,174.90 354.90,173.94 355.06,172.93 355.21,171.89 355.37,170.81 355.52,169.69 355.68,168.53 355.83,167.35 355.99,166.14 356.14,164.89 356.30,163.63 356.45,162.34 356.61,161.04 356.76,159.71 356.92,158.38 357.07,157.03 357.23,155.67 357.38,154.31 357.54,152.94 357.69,151.57 357.85,150.21 358.01,148.84 358.16,147.49 358.32,146.15 358.47,144.82 358.63,143.50 358.78,142.21 358.94,140.93 359.09,139.68 359.25,138.45 359.40,137.25 359.56,136.08 359.71,134.94 359.87,133.84 360.02,132.78 360.18,131.75 360.33,130.77 360.49,129.83 360.64,128.94 360.80,128.09 360.95,127.29 361.11,126.54 361.26,125.84 361.42,125.20 361.57,124.61 361.73,124.08 361.89,123.60 362.04,123.18 362.20,122.82 362.35,122.51 362.51,122.27 362.66,122.09 362.82,121.97 362.97,121.91 363.13,121.91 363.28,121.97 363.44,122.09 363.59,122.27 363.75,122.51 363.90,122.81 364.06,123.18 364.21,123.60 364.37,124.07 364.52,124.61 364.68,125.19 364.83,125.84 364.99,126.54 365.14,127.28 365.30,128.08 365.46,128.93 365.61,129.82 365.77,130.76 365.92,131.75 366.08,132.77 366.23,133.83 366.39,134.94 366.54,136.07 366.70,137.24 366.85,138.44 367.01,139.67 367.16,140.92 367.32,142.20 367.47,143.49 367.63,144.81 367.78,146.14 367.94,147.48 368.09,148.83 368.25,150.19 368.40,151.56 368.56,152.93 368.71,154.30 368.87,155.66 369.03,157.02 369.18,158.37 369.34,159.70 369.49,161.03 369.65,162.33 369.80,163.62 369.96,164.88 370.11,166.13 370.27,167.34 370.42,168.52 370.58,169.68 370.73,170.80 370.89,171.88 371.04,172.93 371.20,173.93 371.35,174.89 371.51,175.81 371.66,176.68 371.82,177.51 371.97,178.28 372.13,179.01 372.28,179.68 372.44,180.29 372.60,180.86 372.75,181.36 372.91,181.81 373.06,182.20 373.22,182.54 373.37,182.81 373.53,183.02 373.68,183.18 373.84,183.27 373.99,183.30 374.15,183.27 374.30,183.18 374.46,183.03 374.61,182.82 374.77,182.55 374.92,182.22 375.08,181.83 375.23,181.38 375.39,180.87 375.54,180.31 375.70,179.70 375.85,179.03 376.01,178.31 376.17,177.53 376.32,176.71 376.48,175.84 376.63,174.92 376.79,173.96 376.94,172.96 377.10,171.92 377.25,170.83 377.41,169.72 377.56,168.56 377.72,167.38 377.87,166.17 378.03,164.93 378.18,163.66 378.34,162.37 378.49,161.07 378.65,159.75 378.80,158.41 378.96,157.06 379.11,155.70 379.27,154.34 379.42,152.97 379.58,151.61 379.73,150.24 379.89,148.88 380.05,147.52 380.20,146.18 380.36,144.85 380.51,143.53 380.67,142.24 380.82,140.96 380.98,139.71 381.13,138.48 381.29,137.28 381.44,136.11 381.60,134.97 381.75,133.87 381.91,132.80 382.06,131.78 382.22,130.79 382.37,129.85 382.53,128.96 382.68,128.11 382.84,127.31 382.99,126.56 383.15,125.86 383.30,125.22 383.46,124.62 383.62,124.09 383.77,123.61 383.93,123.19 384.08,122.83 384.24,122.52 384.39,122.28 384.55,122.09 384.70,121.97 384.86,121.91 385.01,121.91 385.17,121.96 385.32,122.08 385.48,122.27 385.63,122.51 385.79,122.81 385.94,123.17 386.10,123.58 386.25,124.06 386.41,124.59 386.56,125.18 386.72,125.82 386.87,126.52 387.03,127.26 387.19,128.06 387.34,128.91 387.50,129.80 387.65,130.74 387.81,131.72 387.96,132.74 388.12,133.81 388.27,134.91 388.43,136.04 388.58,137.21 388.74,138.41 388.89,139.64 389.05,140.89 389.20,142.16 389.36,143.46 389.51,144.77 389.67,146.10 389.82,147.45 389.98,148.80 390.13,150.16 390.29,151.53 390.44,152.89 390.60,154.26 390.76,155.62 390.91,156.98 391.07,158.33 391.22,159.67 391.38,160.99 391.53,162.30 391.69,163.59 391.84,164.85 392.00,166.10 392.15,167.31 392.31,168.50 392.46,169.65 392.62,170.77 392.77,171.85 392.93,172.90 393.08,173.91 393.24,174.87 393.39,175.79 393.55,176.66 393.70,177.49 393.86,178.26 394.01,178.99 394.17,179.66 394.33,180.28 394.48,180.84 394.64,181.35 394.79,181.80 394.95,182.20 395.10,182.53 395.26,182.81 395.41,183.02 395.57,183.17 395.72,183.27 395.88,183.30 396.03,183.27 396.19,183.18 396.34,183.03 396.50,182.82 396.65,182.56 396.81,182.23 396.96,181.84 397.12,181.39 397.27,180.89 397.43,180.33 397.58,179.71 397.74,179.05 397.89,178.32 398.05,177.55 398.21,176.73 398.36,175.86 398.52,174.95 398.67,173.99 398.83,172.98 398.98,171.94 399.14,170.86 399.29,169.74 399.45,168.59 399.60,167.41 399.76,166.20 399.91,164.96 400.07,163.69 400.22,162.41 400.38,161.10 400.53,159.78 400.69,158.44 400.84,157.09 401.00,155.74 401.15,154.37 401.31,153.01 401.46,151.64 401.62,150.27 401.78,148.91 401.93,147.56 402.09,146.21 402.24,144.88 402.40,143.57 402.55,142.27 402.71,140.99 402.86,139.74 403.02,138.51 403.17,137.31 403.33,136.14 403.48,135.00 403.64,133.90 403.79,132.83 403.95,131.80 404.10,130.82 404.26,129.88 404.41,128.98 404.57,128.13 404.72,127.33 404.88,126.58 405.03,125.88 405.19,125.23 405.35,124.64 405.50,124.10 405.66,123.62 405.81,123.20 405.97,122.83 406.12,122.53 406.28,122.28 406.43,122.10 406.59,121.97 406.74,121.91 406.90,121.90 407.05,121.96 407.21,122.08 407.36,122.26 407.52,122.50 407.67,122.80 407.83,123.16 407.98,123.57 408.14,124.05 408.29,124.58 408.45,125.16 408.60,125.81 408.76,126.50 408.92,127.25 409.07,128.04 409.23,128.89 409.38,129.78 409.54,130.72 409.69,131.70 409.85,132.72 410.00,133.78 410.16,134.88 410.31,136.01 410.47,137.18 410.62,138.38 410.78,139.60 410.93,140.86 411.09,142.13 411.24,143.43 411.40,144.74 411.55,146.07 411.71,147.41 411.86,148.77 412.02,150.13 412.17,151.49 412.33,152.86 412.49,154.23 412.64,155.59 412.80,156.95 412.95,158.30 413.11,159.64 413.26,160.96 413.42,162.27 413.57,163.56 413.73,164.82 413.88,166.06 414.04,167.28 414.19,168.47 414.35,169.62 414.50,170.74 414.66,171.83 414.81,172.87 414.97,173.88 415.12,174.85 415.28,175.77 415.43,176.64 415.59,177.47 415.74,178.24 415.90,178.97 416.05,179.64 416.21,180.27 416.37,180.83 416.52,181.34 416.68,181.79 416.83,182.19 416.99,182.52 417.14,182.80 417.30,183.02 417.45,183.17 417.61,183.27 417.76,183.30 417.92,183.27 418.07,183.19 418.23,183.04 418.38,182.83 418.54,182.56 418.69,182.23 418.85,181.85 419.00,181.40 419.16,180.90 419.31,180.34 419.47,179.73 419.62,179.06 419.78,178.34 419.94,177.57 420.09,176.75 420.25,175.88 420.40,174.97 420.56,174.01 420.71,173.01 420.87,171.97 421.02,170.89 421.18,169.77 421.33,168.62 421.49,167.44 421.64,166.23 421.80,164.99 421.95,163.72 422.11,162.44 422.26,161.13 422.42,159.81 422.57,158.48 422.73,157.13 422.88,155.77 423.04,154.41 423.19,153.04 423.35,151.67 423.51,150.31 423.66,148.95 423.82,147.59 423.97,146.25 424.13,144.92 424.28,143.60 424.44,142.30 424.59,141.02 424.75,139.77 424.90,138.54 425.06,137.34 425.21,136.17 425.37,135.03 425.52,133.92 425.68,132.86 425.83,131.83 425.99,130.84 426.14,129.90 426.30,129.00 426.45,128.15 426.61,127.35 426.76,126.59 426.92,125.89 427.08,125.25 427.23,124.65 427.39,124.11 427.54,123.63 427.70,123.21 427.85,122.84 428.01,122.54 428.16,122.29 428.32,122.10 428.47,121.97 428.63,121.91 428.78,121.90 428.94,121.96 429.09,122.08 429.25,122.25 429.40,122.49 429.56,122.79 429.71,123.15 429.87,123.56 430.02,124.03 430.18,124.56 430.33,125.15 430.49,125.79 430.65,126.48 430.80,127.23 430.96,128.02 431.11,128.87 431.27,129.76 431.42,130.69 431.58,131.67 431.73,132.69 431.89,133.75 432.04,134.85 432.20,135.99 432.35,137.15 432.51,138.35 432.66,139.57 432.82,140.83 432.97,142.10 433.13,143.40 433.28,144.71 433.44,146.04 433.59,147.38 433.75,148.73 433.90,150.09 434.06,151.46 434.22,152.83 434.37,154.19 434.53,155.56 434.68,156.92 434.84,158.27 434.99,159.60 435.15,160.93 435.30,162.24 435.46,163.52 435.61,164.79 435.77,166.03 435.92,167.25 436.08,168.44 436.23,169.59 436.39,170.72 436.54,171.80 436.70,172.85 436.85,173.86 437.01,174.82 437.16,175.74 437.32,176.62 437.47,177.45 437.63,178.23 437.78,178.95 437.94,179.63 438.10,180.25 438.25,180.82 438.41,181.33 438.56,181.78 438.72,182.18 438.87,182.52 439.03,182.79 439.18,183.01 439.34,183.17 439.49,183.27 439.65,183.30 439.80,183.28 439.96,183.19 440.11,183.04 440.27,182.84 440.42,182.57 440.58,182.24 440.73,181.86 440.89,181.41 441.04,180.91 441.20,180.36 441.35,179.75 441.51,179.08 441.67,178.36 441.82,177.59 441.98,176.77 442.13,175.91 442.29,174.99 442.44,174.04 442.60,173.04 442.75,171.99 442.91,170.92 443.06,169.80 443.22,168.65 443.37,167.47 443.53,166.26 443.68,165.02 443.84,163.76 443.99,162.47 444.15,161.17 444.30,159.84 444.46,158.51 444.61,157.16 444.77,155.80 444.92,154.44 445.08,153.07 445.24,151.71 445.39,150.34 445.55,148.98 445.70,147.62 445.86,146.28 446.01,144.95 446.17,143.63 446.32,142.33 446.48,141.05 446.63,139.80 446.79,138.57 446.94,137.37 447.10,136.19 447.25,135.05 447.41,133.95 447.56,132.88 447.72,131.85 447.87,130.87 448.03,129.92 448.18,129.02 448.34,128.17 448.49,127.37 448.65,126.61 448.81,125.91 448.96,125.26 449.12,124.67 449.27,124.13 449.43,123.64 449.58,123.22 449.74,122.85 449.89,122.54 450.05,122.29 450.20,122.10 450.36,121.98 450.51,121.91 450.67,121.90 450.82,121.96 450.98,122.07 451.13,122.25 451.29,122.49 451.44,122.78 451.60,123.14 451.75,123.55 451.91,124.02 452.06,124.55 452.22,125.13 452.38,125.77 452.53,126.46 452.69,127.21 452.84,128.00 453.00,128.84 453.15,129.73 453.31,130.67 453.46,131.65 453.62,132.67 453.77,133.73 453.93,134.82 454.08,135.96 454.24,137.12 454.39,138.32 454.55,139.54 454.70,140.79 454.86,142.07 455.01,143.36 455.17,144.68 455.32,146.01 455.48,147.35 455.63,148.70 455.79,150.06 455.94,151.43 456.10,152.79 456.26,154.16 456.41,155.52 456.57,156.88 456.72,158.23 456.88,159.57 457.03,160.90 457.19,162.20 457.34,163.49 457.50,164.76 457.65,166.00 457.81,167.22 457.96,168.41 458.12,169.57 458.27,170.69 458.43,171.78 458.58,172.82 458.74,173.83 458.89,174.80 459.05,175.72 459.20,176.60 459.36,177.43 459.51,178.21 459.67,178.94 459.83,179.61 459.98,180.24 460.14,180.80 460.29,181.32 460.45,181.77 460.60,182.17 460.76,182.51 460.91,182.79 461.07,183.01 461.22,183.17 461.38,183.26 461.53,183.30 461.69,183.28 461.84,183.19 462.00,183.05 462.15,182.84 462.31,182.58 462.46,182.25 462.62,181.87 462.77,181.43 462.93,180.93 463.08,180.37 463.24,179.76 463.40,179.10 463.55,178.38 463.71,177.61 463.86,176.79 464.02,175.93 464.17,175.02 464.33,174.06 464.48,173.06 464.64,172.02 464.79,170.94 464.95,169.83 465.10,168.68 465.26,167.50 465.41,166.29 465.57,165.05 465.72,163.79 465.88,162.50 466.03,161.20 466.19,159.88 466.34,158.54 466.50,157.19 466.65,155.84 466.81,154.47 466.97,153.11 467.12,151.74 467.28,150.37 467.43,149.01 467.59,147.66 467.74,146.31 467.90,144.98 468.05,143.66 468.21,142.37 468.36,141.09 468.52,139.83 468.67,138.60 468.83,137.40 468.98,136.22 469.14,135.08 469.29,133.98 469.45,132.91 469.60,131.88 469.76,130.89 469.91,129.95 470.07,129.04 470.22,128.19 470.38,127.39 470.54,126.63 470.69,125.93 470.85,125.28 471.00,124.68 471.16,124.14 471.31,123.65 471.47,123.23 471.62,122.86 471.78,122.55 471.93,122.30 472.09,122.11 472.24,121.98 472.40,121.91 472.55,121.90 472.71,121.96 472.86,122.07 473.02,122.24 473.17,122.48 473.33,122.77 473.48,123.13 473.64,123.54 473.79,124.01 473.95,124.54 474.10,125.12 474.26,125.76 474.42,126.45 474.57,127.19 474.73,127.98 474.88,128.82 475.04,129.71 475.19,130.64 475.35,131.62 475.50,132.64 475.66,133.70 475.81,134.80 475.97,135.93 476.12,137.09 476.28,138.29 476.43,139.51 476.59,140.76 476.74,142.04 476.90,143.33 477.05,144.64 477.21,145.97 477.36,147.31 477.52,148.67 477.67,150.03 477.83,151.39 477.99,152.76 478.14,154.13 478.30,155.49 478.45,156.85 478.61,158.20 478.76,159.54 478.92,160.86 479.07,162.17 479.23,163.46 479.38,164.73 479.54,165.97 479.69,167.19 479.85,168.38 480.00,169.54 480.16,170.66 480.31,171.75 480.47,172.80 480.62,173.81 480.78,174.78 480.93,175.70 481.09,176.58 481.24,177.41 481.40,178.19 481.56,178.92 481.71,179.60 481.87,180.22 482.02,180.79 482.18,181.30 482.33,181.76 482.49,182.16 482.64,182.50 482.80,182.78 482.95,183.00 483.11,183.16 483.26,183.26 483.42,183.30 483.57,183.28 483.73,183.20 483.88,183.05 484.04,182.85 484.19,182.58 484.35,182.26 484.50,181.88 484.66,181.44 484.81,180.94 484.97,180.39 485.13,179.78 485.28,179.11 485.44,178.40 485.59,177.63 485.75,176.81 485.90,175.95 486.06,175.04 486.21,174.08 486.37,173.09 486.52,172.05 486.68,170.97 486.83,169.86 486.99,168.71 487.14,167.53 487.30,166.32 487.45,165.08 487.61,163.82 487.76,162.53 487.92,161.23 488.07,159.91 488.23,158.58 488.38,157.23 488.54,155.87 488.70,154.51 488.85,153.14 489.01,151.77 489.16,150.41 489.32,149.05 489.47,147.69 489.63,146.35 489.78,145.01 489.94,143.70 490.09,142.40 490.25,141.12 490.40,139.86 490.56,138.63 490.71,137.43 490.87,136.25 491.02,135.11 491.18,134.00 491.33,132.93 491.49,131.90 491.64,130.91 491.80,129.97 491.95,129.07 492.11,128.21 492.26,127.41 492.42,126.65 492.58,125.94 492.73,125.29 492.89,124.69 493.04,124.15 493.20,123.67 493.35,123.24 493.51,122.87 493.66,122.56 493.82,122.30 493.97,122.11 494.13,121.98 494.28,121.91 494.44,121.90 494.59,121.95 494.75,122.07 494.90,122.24 495.06,122.47 495.21,122.77 495.37,123.12 495.52,123.53 495.68,124.00 495.83,124.52 495.99,125.10 496.15,125.74 496.30,126.43 496.46,127.17 496.61,127.96 496.77,128.80 496.92,129.69 497.08,130.62 497.23,131.60 497.39,132.62 497.54,133.67 497.70,134.77 497.85,135.90 498.01,137.06 498.16,138.26 498.32,139.48 498.47,140.73 498.63,142.00 498.78,143.30 498.94,144.61 499.09,145.94 499.25,147.28 499.40,148.63 499.56,149.99 499.72,151.36 499.87,152.73 500.03,154.09 500.18,155.46 500.34,156.82 500.49,158.17 500.65,159.50 500.80,160.83 500.96,162.14 501.11,163.43 501.27,164.70 501.42,165.94 501.58,167.16 501.73,168.35 501.89,169.51 502.04,170.63 502.20,171.72 502.35,172.77 502.51,173.78 502.66,174.75 502.82,175.68 502.97,176.56 503.13,177.39 503.29,178.17 503.44,178.90 503.60,179.58 503.75,180.21 503.91,180.78 504.06,181.29 504.22,181.75 504.37,182.15 504.53,182.49 504.68,182.77 504.84,183.00 504.99,183.16 505.15,183.26 505.30,183.30 505.46,183.28 505.61,183.20 505.77,183.06 505.92,182.85 506.08,182.59 506.23,182.27 506.39,181.89 506.54,181.45 506.70,180.95 506.86,180.40 507.01,179.79 507.17,179.13 507.32,178.42 507.48,177.65 507.63,176.84 507.79,175.97 507.94,175.06 508.10,174.11 508.25,173.11 508.41,172.07 508.56,171.00 508.72,169.88 508.87,168.74 509.03,167.56 509.18,166.35 509.34,165.11 509.49,163.85 509.65,162.57 509.80,161.26 509.96,159.94 510.11,158.61 510.27,157.26 510.42,155.91 510.58,154.54 510.74,153.18 510.89,151.81 511.05,150.44 511.20,149.08 511.36,147.73 511.51,146.38 511.67,145.05 511.82,143.73 511.98,142.43 512.13,141.15 512.29,139.89 512.44,138.66 512.60,137.45 512.75,136.28 512.91,135.14 513.06,134.03 513.22,132.96 513.37,131.93 513.53,130.94 513.68,129.99 513.84,129.09 513.99,128.23 514.15,127.42 514.31,126.67 514.46,125.96 514.62,125.31 514.77,124.71 514.93,124.16 515.08,123.68 515.24,123.25 515.39,122.88 515.55,122.56 515.70,122.31 515.86,122.12 516.01,121.98 516.17,121.91 516.32,121.90 516.48,121.95 516.63,122.06 516.79,122.23 516.94,122.47 517.10,122.76 517.25,123.11 517.41,123.52 517.56,123.99 517.72,124.51 517.88,125.09 518.03,125.72 518.19,126.41 518.34,127.15 518.50,127.94 518.65,128.78 518.81,129.67 518.96,130.60 519.12,131.57 519.27,132.59 519.43,133.65 519.58,134.74 519.74,135.87 519.89,137.04 520.05,138.23 520.20,139.45 520.36,140.70 520.51,141.97 520.67,143.27 520.82,144.58 520.98,145.91 521.13,147.25 521.29,148.60 521.45,149.96 521.60,151.32 521.76,152.69 521.91,154.06 522.07,155.42 522.22,156.78 522.38,158.13 522.53,159.47 522.69,160.80 522.84,162.11 523.00,163.40 523.15,164.67 523.31,165.91 523.46,167.13 523.62,168.32 523.77,169.48 523.93,170.61 524.08,171.70 524.24,172.75 524.39,173.76 524.55,174.73 524.70,175.66 524.86,176.54 525.02,177.37 525.17,178.15 525.33,178.88 525.48,179.56 525.64,180.19 525.79,180.76 525.95,181.28 526.10,181.74 526.26,182.14 526.41,182.48 526.57,182.77 526.72,182.99 526.88,183.16 527.03,183.26 527.19,183.30 527.34,183.28 527.50,183.20 527.65,183.06 527.81,182.86 527.96,182.60 528.12,182.28 528.27,181.90 528.43,181.46 528.58,180.97 528.74,180.41 528.90,179.81 529.05,179.15 529.21,178.43 529.36,177.67 529.52,176.86 529.67,175.99 529.83,175.09 529.98,174.13 530.14,173.14 530.29,172.10 530.45,171.02 530.60,169.91 530.76,168.76 530.91,167.59 531.07,166.38 531.22,165.14 531.38,163.88 531.53,162.60 531.69,161.30 531.84,159.98 532.00,158.64 532.15,157.29 532.31,155.94 532.47,154.58 532.62,153.21 532.78,151.84 532.93,150.48 533.09,149.11 533.24,147.76 533.40,146.41 533.55,145.08 533.71,143.76 533.86,142.46 534.02,141.18 534.17,139.92 534.33,138.69 534.48,137.48 534.64,136.31 534.79,135.17 534.95,134.06 535.10,132.99 535.26,131.95 535.41,130.96 535.57,130.01 535.72,129.11 535.88,128.25 536.04,127.44 536.19,126.69 536.35,125.98 536.50,125.32 536.66,124.72 536.81,124.18 536.97,123.69 537.12,123.26 537.28,122.88 537.43,122.57 537.59,122.32 537.74,122.12 537.90,121.99 538.05,121.91 538.21,121.90 538.36,121.95 538.52,122.06 538.67,122.23 538.83,122.46 538.98,122.75 539.14,123.10 539.29,123.51 539.45,123.97 539.61,124.50 539.76,125.07 539.92,125.71 540.07,126.39 540.23,127.13 540.38,127.92 540.54,128.76 540.69,129.64 540.85,130.57 541.00,131.55 541.16,132.56 541.31,133.62 541.47,134.71 541.62,135.84 541.78,137.01 541.93,138.20 542.09,139.42 542.24,140.67 542.40,141.94 542.55,143.23 542.71,144.55 542.86,145.87 543.02,147.21 543.18,148.57 543.33,149.93 543.49,151.29 543.64,152.66 543.80,154.02 543.95,155.39 544.11,156.75 544.26,158.10 544.42,159.44 544.57,160.77 544.73,162.08 544.88,163.37 545.04,164.64 545.19,165.88 545.35,167.10 545.50,168.29 545.66,169.45 545.81,170.58 545.97,171.67 546.12,172.72 546.28,173.73 546.43,174.71 546.59,175.63 546.75,176.51 546.90,177.35 547.06,178.13 547.21,178.87 547.37,179.55 547.52,180.18 547.68,180.75 547.83,181.27 547.99,181.73 548.14,182.13 548.30,182.48 548.45,182.76 548.61,182.99 548.76,183.15 548.92,183.26 549.07,183.30 549.23,183.28 549.38,183.20 549.54,183.07 549.69,182.87 549.85,182.61 550.00,182.29 550.16,181.91 550.31,181.47 550.47,180.98 550.63,180.43 550.78,179.82 550.94,179.17 551.09,178.45 551.25,177.69 551.40,176.88 551.56,176.02 551.71,175.11 551.87,174.16 552.02,173.16 552.18,172.13 552.33,171.05 552.49,169.94 552.64,168.79 552.80,167.62 552.95,166.41 553.11,165.17 553.26,163.91 553.42,162.63 553.57,161.33 553.73,160.01 553.88,158.67 554.04,157.33 554.20,155.97 554.35,154.61 554.51,153.24 554.66,151.88 554.82,150.51 554.97,149.15 555.13,147.79 555.28,146.45 555.44,145.11 555.59,143.79 555.75,142.49 555.90,141.21 556.06,139.95 556.21,138.72 556.37,137.51 556.52,136.34 556.68,135.19 556.83,134.08 556.99,133.01 557.14,131.98 557.30,130.99 557.45,130.04 557.61,129.13 557.77,128.27 557.92,127.46 558.08,126.70 558.23,125.99 558.39,125.34 558.54,124.74 558.70,124.19 558.85,123.70 559.01,123.27 559.16,122.89 559.32,122.58 559.47,122.32 559.63,122.12 559.78,121.99 559.94,121.91 560.09,121.90 560.25,121.95 560.40,122.06 560.56,122.22 560.71,122.45 560.87,122.74 561.02,123.09 561.18,123.50 561.34,123.96 561.49,124.48 561.65,125.06 561.80,125.69 561.96,126.38 562.11,127.11 562.27,127.90 562.42,128.74 562.58,129.62 562.73,130.55 562.89,131.52 563.04,132.54 563.20,133.59 563.35,134.69 563.51,135.82 563.66,136.98 563.82,138.17 563.97,139.39 564.13,140.64 564.28,141.91 564.44,143.20 564.59,144.51 564.75,145.84 564.91,147.18 565.06,148.53 565.22,149.89 565.37,151.26 565.53,152.62 565.68,153.99 565.84,155.36 565.99,156.71 566.15,158.07 566.30,159.41 566.46,160.73 566.61,162.04 566.77,163.33 566.92,164.61 567.08,165.85 567.23,167.07 567.39,168.26 567.54,169.42 567.70,170.55 567.85,171.64 568.01,172.70 568.16,173.71 568.32,174.68 568.47,175.61 568.63,176.49 568.79,177.33 568.94,178.11 569.10,178.85 569.25,179.53 569.41,180.16 569.56,180.74 569.72,181.26 569.87,181.72 570.03,182.12 570.18,182.47 570.34,182.76 570.49,182.98 570.65,183.15 570.80,183.25 570.96,183.30 571.11,183.28 571.27,183.21 571.42,183.07 571.58,182.87 571.73,182.61 571.89,182.30 572.04,181.92 572.20,181.48 572.36,180.99 572.51,180.44 572.67,179.84 572.82,179.18 572.98,178.47 573.13,177.71 573.29,176.90 573.44,176.04 573.60,175.13 573.75,174.18 573.91,173.19 574.06,172.15 574.22,171.08 574.37,169.97 574.53,168.82 574.68,167.65 574.84,166.44 574.99,165.20 575.15,163.94 575.30,162.66 575.46,161.36 575.61,160.04 575.77,158.71 575.93,157.36 576.08,156.01 576.24,154.64 576.39,153.28 576.55,151.91 576.70,150.54 576.86,149.18 577.01,147.83 577.17,146.48 577.32,145.15 577.48,143.83 577.63,142.52 577.79,141.24 577.94,139.98 578.10,138.75 578.25,137.54 578.41,136.37 578.56,135.22 578.72,134.11 578.87,133.04 579.03,132.00 579.18,131.01 579.34,130.06 579.50,129.15 579.65,128.29 579.81,127.48 579.96,126.72 580.12,126.01 580.27,125.35 580.43,124.75 580.58,124.20 580.74,123.71 580.89,123.28 581.05,122.90 581.20,122.58 581.36,122.33 581.51,122.13 581.67,121.99 581.82,121.92 581.98,121.90 582.13,121.95 582.29,122.05 582.44,122.22 582.60,122.45 582.75,122.73 582.91,123.08 583.07,123.49 583.22,123.95 583.38,124.47 583.53,125.04 583.69,125.67 583.84,126.36 584.00,127.09 584.15,127.88 584.31,128.72 584.46,129.60 584.62,130.53 584.77,131.50 584.93,132.51 585.08,133.57 585.24,134.66 585.39,135.79 585.55,136.95 585.70,138.14 585.86,139.36 586.01,140.61 586.17,141.88 586.32,143.17 586.48,144.48 586.63,145.81 586.79,147.15 586.95,148.50 587.10,149.86 587.26,151.22 587.41,152.59 587.57,153.96 587.72,155.32 587.88,156.68 588.03,158.03 588.19,159.37 588.34,160.70 588.50,162.01 588.65,163.30 588.81,164.57 588.96,165.82 589.12,167.04 589.27,168.23 589.43,169.40 589.58,170.52 589.74,171.62 589.89,172.67 590.05,173.69 590.20,174.66 590.36,175.59 590.52,176.47 590.67,177.31 590.83,178.09 590.98,178.83 591.14,179.52 591.29,180.15 591.45,180.72 591.60,181.24 591.76,181.71 591.91,182.11 592.07,182.46 592.22,182.75 592.38,182.98 592.53,183.15 592.69,183.25 592.84,183.30 593.00,183.28 593.15,183.21 593.31,183.07 593.46,182.88 593.62,182.62 593.77,182.30 593.93,181.93 594.09,181.50 594.24,181.00 594.40,180.46 594.55,179.86 594.71,179.20 594.86,178.49 595.02,177.73 595.17,176.92 595.33,176.06 595.48,175.15 595.64,174.20 595.79,173.21 595.95,172.18 596.10,171.10 596.26,170.00 596.41,168.85 596.57,167.67 596.72,166.47 596.88,165.23 597.03,163.98 597.19,162.69 597.34,161.39 597.50,160.07 597.66,158.74 597.81,157.40 597.97,156.04 598.12,154.68 598.28,153.31 598.43,151.94 598.59,150.58 598.74,149.21 598.90,147.86 599.05,146.51 599.21,145.18 599.36,143.86 599.52,142.56 599.67,141.27 599.83,140.01 599.98,138.78 600.14,137.57 600.29,136.40 600.45,135.25 600.60,134.14 600.76,133.06 600.91,132.03 601.07,131.03 601.23,130.08 601.38,129.18 601.54,128.31 601.69,127.50 601.85,126.74 602.00,126.03 602.16,125.37 602.31,124.77 602.47,124.22 602.62,123.72 602.78,123.29 602.93,122.91 603.09,122.59 603.24,122.33 603.40,122.13 603.55,121.99 603.71,121.92 603.86,121.90 604.02,121.94 604.17,122.05 604.33,122.21 604.48,122.44 604.64,122.73 604.79,123.07 604.95,123.48 605.11,123.94 605.26,124.45 605.42,125.03 605.57,125.66 605.73,126.34 605.88,127.07 606.04,127.86 606.19,128.69 606.35,129.58 606.50,130.50 606.66,131.47 606.81,132.49 606.97,133.54 607.12,134.63 607.28,135.76 607.43,136.92 607.59,138.11 607.74,139.33 607.90,140.58 608.05,141.85 608.21,143.14 608.36,144.45 608.52,145.77 608.68,147.11 608.83,148.46 608.99,149.82 609.14,151.19 609.30,152.56 609.45,153.92 609.61,155.29 609.76,156.65 609.92,158.00 610.07,159.34 610.23,160.67 610.38,161.98 610.54,163.27 610.69,164.54 610.85,165.79 611.00,167.01 611.16,168.21 611.31,169.37 611.47,170.50 611.62,171.59 611.78,172.65 611.93,173.66 612.09,174.64 612.25,175.57 612.40,176.45 612.56,177.29 612.71,178.08 612.87,178.81 613.02,179.50 613.18,180.13 613.33,180.71 613.49,181.23 613.64,181.70 613.80,182.10 613.95,182.45 614.11,182.74 614.26,182.97 614.42,183.14 614.57,183.25 614.73,183.30 614.88,183.29 615.04,183.21 615.19,183.08 615.35,182.88 615.50,182.63 615.66,182.31 615.82,181.94 615.97,181.51 616.13,181.02 616.28,180.47 616.44,179.87 616.59,179.22 616.75,178.51 616.90,177.75 617.06,176.94 617.21,176.08 617.37,175.18 617.52,174.23 617.68,173.24 617.83,172.20 617.99,171.13 618.14,170.02 618.30,168.88 618.45,167.70 618.61,166.50 618.76,165.27 618.92,164.01 619.07,162.73 619.23,161.43 619.39,160.11 619.54,158.77 619.70,157.43 619.85,156.07 620.01,154.71 620.16,153.34 620.32,151.98 620.47,150.61 620.63,149.25 620.78,147.89 620.94,146.55 621.09,145.21 621.25,143.89 621.40,142.59 621.56,141.31 621.71,140.05 621.87,138.81 622.02,137.60 622.18,136.42 622.33,135.28 622.49,134.17 622.64,133.09 622.80,132.05 622.95,131.06 623.11,130.11 623.27,129.20 623.42,128.34 623.58,127.52 623.73,126.76 623.89,126.05 624.04,125.39 624.20,124.78 624.35,124.23 624.51,123.73 624.66,123.30 624.82,122.92 624.97,122.60 625.13,122.34 625.28,122.14 625.44,122.00 625.59,121.92 625.75,121.90 625.90,121.94 626.06,122.05 626.21,122.21 626.37,122.43 626.52,122.72 626.68,123.06 626.84,123.46 626.99,123.92 627.15,124.44 627.30,125.01 627.46,125.64 627.61,126.32 627.77,127.06 627.92,127.84 628.08,128.67 628.23,129.55 628.39,130.48 628.54,131.45 628.70,132.46 628.85,133.51 629.01,134.60 629.16,135.73 629.32,136.89 629.47,138.08 629.63,139.30 629.78,140.54 629.94,141.81 630.09,143.11 630.25,144.42 630.41,145.74 630.56,147.08 630.72,148.43 630.87,149.79 631.03,151.15 631.18,152.52 631.34,153.89 631.49,155.25 631.65,156.61 631.80,157.97 631.96,159.31 632.11,160.63 632.27,161.95 632.42,163.24 632.58,164.51 632.73,165.76 632.89,166.98 633.04,168.18 633.20,169.34 633.35,170.47 633.51,171.56 633.66,172.62 633.82,173.64 633.98,174.61 634.13,175.54 634.29,176.43 634.44,177.27 634.60,178.06 634.75,178.80 634.91,179.48 635.06,180.12 635.22,180.70 635.37,181.22 635.53,181.69 635.68,182.09 635.84,182.45 635.99,182.74 636.15,182.97 636.30,183.14 636.46,183.25 636.61,183.30 636.77,183.29 636.92,183.21 637.08,183.08 637.23,182.89 637.39,182.63 637.55,182.32 637.70,181.95 637.86,181.52 638.01,181.03 638.17,180.49 638.32,179.89 638.48,179.23 638.63,178.53 638.79,177.77 638.94,176.96 639.10,176.10 639.25,175.20 639.41,174.25 639.56,173.26 639.72,172.23 639.87,171.16 640.03,170.05 640.18,168.91 640.34,167.73 640.49,166.53 640.65,165.30 640.80,164.04 640.96,162.76 641.12,161.46 641.27,160.14 641.43,158.81 641.58,157.46 641.74,156.11 641.89,154.74 642.05,153.38 642.20,152.01 642.36,150.64 642.51,149.28 642.67,147.93 642.82,146.58 642.98,145.24 643.13,143.92 643.29,142.62 643.44,141.34 643.60,140.08 643.75,138.84 643.91,137.63 644.06,136.45 644.22,135.31 644.37,134.19 644.53,133.12 644.68,132.08 644.84,131.08 645.00,130.13 645.15,129.22 645.31,128.36 645.46,127.54 645.62,126.78 645.77,126.06 645.93,125.40 646.08,124.79 646.24,124.24 646.39,123.75 646.55,123.31 646.70,122.93 646.86,122.61 647.01,122.34 647.17,122.14 647.32,122.00 647.48,121.92 647.63,121.90 647.79,121.94 647.94,122.04 648.10,122.21 648.25,122.43 648.41,122.71 648.57,123.05 648.72,123.45 648.88,123.91 649.03,124.43 649.19,125.00 649.34,125.63 649.50,126.31 649.65,127.04 649.81,127.82 649.96,128.65 650.12,129.53 650.27,130.46 650.43,131.43 650.58,132.44 650.74,133.49 650.89,134.58 651.05,135.70 651.20,136.86 651.36,138.05 651.51,139.27 651.67,140.51 651.82,141.78 651.98,143.07 652.14,144.38 652.29,145.71 652.45,147.05 652.60,148.40 652.76,149.76 652.91,151.12 653.07,152.49 653.22,153.86 653.38,155.22 653.53,156.58 653.69,157.93 653.84,159.27 654.00,160.60 654.15,161.91 654.31,163.21 654.46,164.48 654.62,165.73 654.77,166.95 654.93,168.15 655.08,169.31 655.24,170.44 655.39,171.54 655.55,172.59 655.71,173.61 655.86,174.59 656.02,175.52 656.17,176.41 656.33,177.25 656.48,178.04 656.64,178.78 656.79,179.47 656.95,180.10 657.10,180.68 657.26,181.21 657.41,181.68 657.57,182.09 657.72,182.44 657.88,182.73 658.03,182.96 658.19,183.13 658.34,183.25 658.50,183.30 658.65,183.29 658.81,183.22 658.96,183.09 659.12,182.89 659.28,182.64 659.43,182.33 659.59,181.96 659.74,181.53 659.90,181.04 660.05,180.50 660.21,179.90 660.36,179.25 660.52,178.54 660.67,177.79 660.83,176.98 660.98,176.13 661.14,175.22 661.29,174.28 661.45,173.29 661.60,172.26 661.76,171.19 661.91,170.08 662.07,168.94 662.22,167.76 662.38,166.56 662.53,165.33 662.69,164.07 662.84,162.79 663.00,161.49 663.16,160.17 663.31,158.84 663.47,157.50 663.62,156.14 663.78,154.78 663.93,153.41 664.09,152.04 664.24,150.68 664.40,149.32 664.55,147.96 664.71,146.61 664.86,145.28 665.02,143.96 665.17,142.65 665.33,141.37 665.48,140.11 665.64,138.87 665.79,137.66 665.95,136.48 666.10,135.33 666.26,134.22 666.41,133.14 666.57,132.10 666.73,131.11 666.88,130.15 667.04,129.24 667.19,128.38 667.35,127.56 667.50,126.79 667.66,126.08 667.81,125.42 667.97,124.81 668.12,124.25 668.28,123.76 668.43,123.32 668.59,122.94 668.74,122.61 668.90,122.35 669.05,122.15 669.21,122.00 669.36,121.92 669.52,121.90 669.67,121.94 669.83,122.04 669.98,122.20 670.14,122.42 670.30,122.70 670.45,123.04 670.61,123.44 670.76,123.90 670.92,124.41 671.07,124.98 671.23,125.61 671.38,126.29 671.54,127.02 671.69,127.80 671.85,128.63 672.00,129.51 672.16,130.43 672.31,131.40 672.47,132.41 672.62,133.46 672.78,134.55 672.93,135.67 673.09,136.83 673.24,138.02 673.40,139.24 673.55,140.48 673.71,141.75 673.87,143.04 674.02,144.35 674.18,145.68 674.33,147.01 674.49,148.36 674.64,149.72 674.80,151.09 674.95,152.45 675.11,153.82 675.26,155.19 675.42,156.55 675.57,157.90 675.73,159.24 675.88,160.57 676.04,161.88 676.19,163.18 676.35,164.45 676.50,165.70 676.66,166.92 676.81,168.12 676.97,169.28 677.12,170.41 677.28,171.51 677.44,172.57 677.59,173.59 677.75,174.56 677.90,175.50 678.06,176.39 678.21,177.23 678.37,178.02 678.52,178.76 678.68,179.45 678.83,180.09 678.99,180.67 679.14,181.19 679.30,181.66 679.45,182.08 679.61,182.43 679.76,182.72 679.92,182.96 680.07,183.13 680.23,183.24 680.38,183.30 680.54,183.29 680.69,183.22 680.85,183.09 681.00,182.90 681.16,182.65 681.32,182.34 681.47,181.97 681.63,181.54 681.78,181.06 681.94,180.51 682.09,179.92 682.25,179.27 682.40,178.56 682.56,177.81 682.71,177.00 682.87,176.15 683.02,175.25 683.18,174.30 683.33,173.31 683.49,172.28 683.64,171.21 683.80,170.11 683.95,168.97 684.11,167.79 684.26,166.59 684.42,165.36 684.57,164.10 684.73,162.82 684.89,161.52 685.04,160.21 685.20,158.87 685.35,157.53 685.51,156.17 685.66,154.81 685.82,153.45 685.97,152.08 686.13,150.71 686.28,149.35 686.44,147.99 686.59,146.65 686.75,145.31 686.90,143.99 687.06,142.68 687.21,141.40 687.37,140.14 687.52,138.90 687.68,137.69 687.83,136.51 687.99,135.36 688.14,134.25 688.30,133.17" fill="none" stroke="#000" stroke-width="2.6" stroke-linejoin="round" stroke-linecap="round"/>
<polyline points="67.60,466.04 67.76,461.79 67.91,457.54 68.07,453.31 68.22,449.11 68.38,444.95 68.53,440.83 68.69,436.76 68.84,432.76 69.00,428.82 69.15,424.97 69.31,421.19 69.46,417.51 69.62,413.92 69.77,410.45 69.93,407.08 70.08,403.84 70.24,400.72 70.39,397.73 70.55,394.88 70.70,392.18 70.86,389.63 71.01,387.23 71.17,384.99 71.33,382.91 71.48,381.00 71.64,379.26 71.79,377.70 71.95,376.32 72.10,375.11 72.26,374.09 72.41,373.26 72.57,372.61 72.72,372.15 72.88,371.88 73.03,371.80 73.19,371.91 73.34,372.21 73.50,372.69 73.65,373.37 73.81,374.23 73.96,375.28 74.12,376.51 74.27,377.92 74.43,379.51 74.58,381.27 74.74,383.21 74.90,385.31 75.05,387.57 75.21,389.99 75.36,392.57 75.52,395.30 75.67,398.16 75.83,401.17 75.98,404.31 76.14,407.57 76.29,410.95 76.45,414.45 76.60,418.04 76.76,421.74 76.91,425.53 77.07,429.40 77.22,433.35 77.38,437.36 77.53,441.43 77.69,445.56 77.84,449.73 78.00,453.93 78.15,458.16 78.31,462.41 78.46,466.67 78.62,470.93 78.78,475.19 78.93,479.43 79.09,483.64 79.24,487.82 79.40,491.97 79.55,496.06 79.71,500.10 79.86,504.07 80.02,507.97 80.17,511.79 80.33,515.52 80.48,519.15 80.64,522.69 80.79,526.11 80.95,529.42 81.10,532.60 81.26,535.65 81.41,538.57 81.57,541.35 81.72,543.98 81.88,546.46 82.03,548.79 82.19,550.95 82.35,552.94 82.50,554.77 82.66,556.42 82.81,557.90 82.97,559.19 83.12,560.31 83.28,561.24 83.43,561.98 83.59,562.54 83.74,562.91 83.90,563.08 84.05,563.07 84.21,562.87 84.36,562.48 84.52,561.90 84.67,561.13 84.83,560.18 84.98,559.04 85.14,557.73 85.29,556.23 85.45,554.55 85.60,552.71 85.76,550.69 85.92,548.51 86.07,546.17 86.23,543.67 86.38,541.02 86.54,538.22 86.69,535.29 86.85,532.22 87.00,529.02 87.16,525.70 87.31,522.26 87.47,518.71 87.62,515.06 87.78,511.32 87.93,507.49 88.09,503.58 88.24,499.60 88.40,495.56 88.55,491.46 88.71,487.31 88.86,483.13 89.02,478.91 89.17,474.67 89.33,470.41 89.49,466.15 89.64,461.89 89.80,457.64 89.95,453.42 90.11,449.22 90.26,445.05 90.42,440.93 90.57,436.86 90.73,432.86 90.88,428.92 91.04,425.06 91.19,421.28 91.35,417.60 91.50,414.01 91.66,410.53 91.81,407.16 91.97,403.92 92.12,400.79 92.28,397.80 92.43,394.95 92.59,392.25 92.74,389.69 92.90,387.28 93.06,385.04 93.21,382.96 93.37,381.05 93.52,379.30 93.68,377.74 93.83,376.35 93.99,375.14 94.14,374.12 94.30,373.28 94.45,372.62 94.61,372.16 94.76,371.88 94.92,371.80 95.07,371.90 95.23,372.20 95.38,372.68 95.54,373.35 95.69,374.21 95.85,375.25 96.00,376.48 96.16,377.88 96.31,379.47 96.47,381.23 96.62,383.16 96.78,385.25 96.94,387.51 97.09,389.93 97.25,392.50 97.40,395.23 97.56,398.09 97.71,401.09 97.87,404.23 98.02,407.49 98.18,410.87 98.33,414.36 98.49,417.95 98.64,421.65 98.80,425.43 98.95,429.30 99.11,433.25 99.26,437.26 99.42,441.33 99.57,445.46 99.73,449.63 99.88,453.83 100.04,458.06 100.19,462.31 100.35,466.57 100.51,470.83 100.66,475.08 100.82,479.32 100.97,483.54 101.13,487.72 101.28,491.86 101.44,495.96 101.59,500.00 101.75,503.97 101.90,507.87 102.06,511.69 102.21,515.43 102.37,519.06 102.52,522.60 102.68,526.03 102.83,529.34 102.99,532.52 103.14,535.58 103.30,538.50 103.45,541.29 103.61,543.92 103.76,546.40 103.92,548.73 104.08,550.90 104.23,552.90 104.39,554.73 104.54,556.38 104.70,557.86 104.85,559.16 105.01,560.28 105.16,561.22 105.32,561.97 105.47,562.53 105.63,562.90 105.78,563.08 105.94,563.07 106.09,562.88 106.25,562.49 106.40,561.92 106.56,561.15 106.71,560.21 106.87,559.07 107.02,557.76 107.18,556.27 107.33,554.60 107.49,552.75 107.65,550.74 107.80,548.57 107.96,546.23 108.11,543.73 108.27,541.09 108.42,538.29 108.58,535.36 108.73,532.29 108.89,529.10 109.04,525.78 109.20,522.34 109.35,518.80 109.51,515.16 109.66,511.42 109.82,507.59 109.97,503.68 110.13,499.70 110.28,495.66 110.44,491.56 110.59,487.42 110.75,483.23 110.90,479.01 111.06,474.77 111.22,470.52 111.37,466.25 111.53,462.00 111.68,457.75 111.84,453.52 111.99,449.32 112.15,445.15 112.30,441.03 112.46,436.96 112.61,432.96 112.77,429.02 112.92,425.15 113.08,421.38 113.23,417.69 113.39,414.10 113.54,410.62 113.70,407.25 113.85,403.99 114.01,400.87 114.16,397.88 114.32,395.02 114.47,392.31 114.63,389.75 114.78,387.34 114.94,385.09 115.10,383.01 115.25,381.09 115.41,379.35 115.56,377.77 115.72,376.38 115.87,375.17 116.03,374.14 116.18,373.29 116.34,372.64 116.49,372.17 116.65,371.89 116.80,371.80 116.96,371.90 117.11,372.19 117.27,372.66 117.42,373.33 117.58,374.18 117.73,375.22 117.89,376.44 118.04,377.85 118.20,379.43 118.35,381.18 118.51,383.11 118.67,385.20 118.82,387.46 118.98,389.87 119.13,392.44 119.29,395.16 119.44,398.02 119.60,401.02 119.75,404.15 119.91,407.41 120.06,410.78 120.22,414.27 120.37,417.86 120.53,421.56 120.68,425.34 120.84,429.21 120.99,433.15 121.15,437.16 121.30,441.23 121.46,445.35 121.61,449.52 121.77,453.72 121.92,457.95 122.08,462.20 122.24,466.46 122.39,470.72 122.55,474.98 122.70,479.22 122.86,483.43 123.01,487.62 123.17,491.76 123.32,495.86 123.48,499.90 123.63,503.87 123.79,507.78 123.94,511.60 124.10,515.34 124.25,518.98 124.41,522.51 124.56,525.94 124.72,529.26 124.87,532.45 125.03,535.51 125.18,538.43 125.34,541.22 125.49,543.86 125.65,546.34 125.81,548.67 125.96,550.84 126.12,552.85 126.27,554.68 126.43,556.34 126.58,557.83 126.74,559.13 126.89,560.26 127.05,561.20 127.20,561.95 127.36,562.51 127.51,562.89 127.67,563.08 127.82,563.08 127.98,562.89 128.13,562.50 128.29,561.93 128.44,561.18 128.60,560.23 128.75,559.10 128.91,557.79 129.06,556.31 129.22,554.64 129.38,552.80 129.53,550.79 129.69,548.62 129.84,546.29 130.00,543.80 130.15,541.15 130.31,538.36 130.46,535.44 130.62,532.37 130.77,529.18 130.93,525.86 131.08,522.43 131.24,518.89 131.39,515.25 131.55,511.51 131.70,507.68 131.86,503.78 132.01,499.80 132.17,495.76 132.32,491.66 132.48,487.52 132.63,483.33 132.79,479.12 132.95,474.88 133.10,470.62 133.26,466.36 133.41,462.10 133.57,457.85 133.72,453.62 133.88,449.42 134.03,445.26 134.19,441.13 134.34,437.06 134.50,433.05 134.65,429.11 134.81,425.25 134.96,421.47 135.12,417.78 135.27,414.19 135.43,410.70 135.58,407.33 135.74,404.07 135.89,400.95 136.05,397.95 136.20,395.09 136.36,392.38 136.51,389.81 136.67,387.40 136.83,385.15 136.98,383.06 137.14,381.14 137.29,379.39 137.45,377.81 137.60,376.41 137.76,375.20 137.91,374.16 138.07,373.31 138.22,372.65 138.38,372.18 138.53,371.89 138.69,371.80 138.84,371.89 139.00,372.18 139.15,372.65 139.31,373.31 139.46,374.16 139.62,375.19 139.77,376.41 139.93,377.81 140.08,379.38 140.24,381.13 140.40,383.06 140.55,385.15 140.71,387.40 140.86,389.81 141.02,392.37 141.17,395.09 141.33,397.95 141.48,400.94 141.64,404.07 141.79,407.32 141.95,410.70 142.10,414.18 142.26,417.77 142.41,421.46 142.57,425.25 142.72,429.11 142.88,433.05 143.03,437.06 143.19,441.13 143.34,445.25 143.50,449.42 143.65,453.62 143.81,457.85 143.97,462.10 144.12,466.36 144.28,470.62 144.43,474.87 144.59,479.11 144.74,483.33 144.90,487.51 145.05,491.66 145.21,495.76 145.36,499.80 145.52,503.78 145.67,507.68 145.83,511.51 145.98,515.24 146.14,518.89 146.29,522.43 146.45,525.86 146.60,529.17 146.76,532.37 146.91,535.43 147.07,538.36 147.22,541.15 147.38,543.79 147.54,546.28 147.69,548.62 147.85,550.79 148.00,552.80 148.16,554.64 148.31,556.30 148.47,557.79 148.62,559.10 148.78,560.23 148.93,561.18 149.09,561.93 149.24,562.50 149.40,562.88 149.55,563.08 149.71,563.08 149.86,562.89 150.02,562.52 150.17,561.95 150.33,561.20 150.48,560.26 150.64,559.13 150.79,557.83 150.95,556.34 151.11,554.68 151.26,552.85 151.42,550.85 151.57,548.68 151.73,546.35 151.88,543.86 152.04,541.22 152.19,538.44 152.35,535.51 152.50,532.45 152.66,529.26 152.81,525.95 152.97,522.52 153.12,518.98 153.28,515.34 153.43,511.60 153.59,507.78 153.74,503.88 153.90,499.90 154.05,495.86 154.21,491.77 154.36,487.62 154.52,483.44 154.67,479.22 154.83,474.98 154.99,470.73 155.14,466.47 155.30,462.21 155.45,457.96 155.61,453.73 155.76,449.53 155.92,445.36 156.07,441.24 156.23,437.16 156.38,433.15 156.54,429.21 156.69,425.34 156.85,421.56 157.00,417.87 157.16,414.27 157.31,410.79 157.47,407.41 157.62,404.15 157.78,401.02 157.93,398.02 158.09,395.16 158.24,392.44 158.40,389.87 158.56,387.46 158.71,385.20 158.87,383.11 159.02,381.18 159.18,379.43 159.33,377.85 159.49,376.45 159.64,375.22 159.80,374.19 159.95,373.33 160.11,372.67 160.26,372.19 160.42,371.90 160.57,371.80 160.73,371.89 160.88,372.17 161.04,372.64 161.19,373.29 161.35,374.14 161.50,375.17 161.66,376.38 161.81,377.77 161.97,379.34 162.13,381.09 162.28,383.01 162.44,385.09 162.59,387.34 162.75,389.75 162.90,392.31 163.06,395.02 163.21,397.87 163.37,400.87 163.52,403.99 163.68,407.24 163.83,410.61 163.99,414.10 164.14,417.68 164.30,421.37 164.45,425.15 164.61,429.01 164.76,432.95 164.92,436.96 165.07,441.03 165.23,445.15 165.38,449.31 165.54,453.52 165.70,457.74 165.85,461.99 166.01,466.25 166.16,470.51 166.32,474.77 166.47,479.01 166.63,483.23 166.78,487.41 166.94,491.56 167.09,495.66 167.25,499.70 167.40,503.68 167.56,507.59 167.71,511.41 167.87,515.15 168.02,518.80 168.18,522.34 168.33,525.78 168.49,529.09 168.64,532.29 168.80,535.36 168.95,538.29 169.11,541.08 169.27,543.73 169.42,546.22 169.58,548.56 169.73,550.74 169.89,552.75 170.04,554.60 170.20,556.27 170.35,557.76 170.51,559.07 170.66,560.21 170.82,561.15 170.97,561.92 171.13,562.49 171.28,562.88 171.44,563.07 171.59,563.08 171.75,562.90 171.90,562.53 172.06,561.97 172.21,561.22 172.37,560.28 172.52,559.16 172.68,557.86 172.83,556.38 172.99,554.73 173.15,552.90 173.30,550.90 173.46,548.73 173.61,546.41 173.77,543.92 173.92,541.29 174.08,538.51 174.23,535.58 174.39,532.53 174.54,529.34 174.70,526.03 174.85,522.60 175.01,519.07 175.16,515.43 175.32,511.70 175.47,507.88 175.63,503.97 175.78,500.00 175.94,495.96 176.09,491.87 176.25,487.72 176.40,483.54 176.56,479.33 176.72,475.09 176.87,470.83 177.03,466.57 177.18,462.31 177.34,458.06 177.49,453.83 177.65,449.63 177.80,445.46 177.96,441.34 178.11,437.26 178.27,433.25 178.42,429.31 178.58,425.44 178.73,421.65 178.89,417.96 179.04,414.36 179.20,410.87 179.35,407.49 179.51,404.23 179.66,401.10 179.82,398.09 179.97,395.23 180.13,392.51 180.29,389.93 180.44,387.52 180.60,385.25 180.75,383.16 180.91,381.23 181.06,379.47 181.22,377.88 181.37,376.48 181.53,375.25 181.68,374.21 181.84,373.35 181.99,372.68 182.15,372.20 182.30,371.90 182.46,371.80 182.61,371.88 182.77,372.16 182.92,372.62 183.08,373.28 183.23,374.11 183.39,375.14 183.54,376.35 183.70,377.74 183.86,379.30 184.01,381.04 184.17,382.96 184.32,385.04 184.48,387.28 184.63,389.69 184.79,392.24 184.94,394.95 185.10,397.80 185.25,400.79 185.41,403.91 185.56,407.16 185.72,410.53 185.87,414.01 186.03,417.59 186.18,421.28 186.34,425.06 186.49,428.92 186.65,432.85 186.80,436.86 186.96,440.93 187.11,445.05 187.27,449.21 187.43,453.41 187.58,457.64 187.74,461.89 187.89,466.15 188.05,470.41 188.20,474.66 188.36,478.90 188.51,483.12 188.67,487.31 188.82,491.46 188.98,495.56 189.13,499.60 189.29,503.58 189.44,507.49 189.60,511.32 189.75,515.06 189.91,518.71 190.06,522.25 190.22,525.69 190.37,529.01 190.53,532.21 190.68,535.28 190.84,538.22 190.99,541.02 191.15,543.67 191.31,546.16 191.46,548.51 191.62,550.69 191.77,552.70 191.93,554.55 192.08,556.23 192.24,557.72 192.39,559.04 192.55,560.18 192.70,561.13 192.86,561.90 193.01,562.48 193.17,562.87 193.32,563.07 193.48,563.08 193.63,562.91 193.79,562.54 193.94,561.98 194.10,561.24 194.25,560.31 194.41,559.19 194.56,557.90 194.72,556.42 194.88,554.77 195.03,552.94 195.19,550.95 195.34,548.79 195.50,546.47 195.65,543.99 195.81,541.35 195.96,538.58 196.12,535.66 196.27,532.60 196.43,529.42 196.58,526.11 196.74,522.69 196.89,519.16 197.05,515.52 197.20,511.79 197.36,507.97 197.51,504.07 197.67,500.10 197.82,496.06 197.98,491.97 198.13,487.83 198.29,483.64 198.45,479.43 198.60,475.19 198.76,470.94 198.91,466.68 199.07,462.42 199.22,458.17 199.38,453.94 199.53,449.73 199.69,445.56 199.84,441.44 200.00,437.36 200.15,433.35 200.31,429.40 200.46,425.53 200.62,421.74 200.77,418.05 200.93,414.45 201.08,410.96 201.24,407.57 201.39,404.31 201.55,401.17 201.70,398.17 201.86,395.30 202.02,392.57 202.17,390.00 202.33,387.57 202.48,385.31 202.64,383.21 202.79,381.27 202.95,379.51 203.10,377.92 203.26,376.51 203.41,375.28 203.57,374.23 203.72,373.37 203.88,372.69 204.03,372.21 204.19,371.91 204.34,371.80 204.50,371.88 204.65,372.15 204.81,372.61 204.96,373.26 205.12,374.09 205.27,375.11 205.43,376.32 205.59,377.70 205.74,379.26 205.90,381.00 206.05,382.91 206.21,384.98 206.36,387.22 206.52,389.62 206.67,392.18 206.83,394.88 206.98,397.73 207.14,400.72 207.29,403.83 207.45,407.08 207.60,410.44 207.76,413.92 207.91,417.50 208.07,421.19 208.22,424.96 208.38,428.82 208.53,432.76 208.69,436.76 208.84,440.83 209.00,444.94 209.15,449.11 209.31,453.31 209.47,457.53 209.62,461.78 209.78,466.04 209.93,470.30 210.09,474.56 210.24,478.80 210.40,483.02 210.55,487.21 210.71,491.35 210.86,495.46 211.02,499.50 211.17,503.48 211.33,507.39 211.48,511.23 211.64,514.97 211.79,518.62 211.95,522.17 212.10,525.61 212.26,528.93 212.41,532.14 212.57,535.21 212.72,538.15 212.88,540.95 213.04,543.60 213.19,546.10 213.35,548.45 213.50,550.64 213.66,552.66 213.81,554.51 213.97,556.19 214.12,557.69 214.28,559.01 214.43,560.15 214.59,561.11 214.74,561.88 214.90,562.47 215.05,562.86 215.21,563.07 215.36,563.09 215.52,562.91 215.67,562.55 215.83,562.00 215.98,561.26 216.14,560.33 216.29,559.22 216.45,557.93 216.61,556.46 216.76,554.81 216.92,552.99 217.07,551.00 217.23,548.84 217.38,546.52 217.54,544.05 217.69,541.42 217.85,538.65 218.00,535.73 218.16,532.68 218.31,529.50 218.47,526.20 218.62,522.78 218.78,519.25 218.93,515.61 219.09,511.88 219.24,508.07 219.40,504.17 219.55,500.20 219.71,496.16 219.86,492.07 220.02,487.93 220.18,483.75 220.33,479.53 220.49,475.30 220.64,471.04 220.80,466.78 220.95,462.52 221.11,458.27 221.26,454.04 221.42,449.84 221.57,445.67 221.73,441.54 221.88,437.46 222.04,433.45 222.19,429.50 222.35,425.63 222.50,421.84 222.66,418.14 222.81,414.54 222.97,411.04 223.12,407.66 223.28,404.39 223.43,401.25 223.59,398.24 223.75,395.37 223.90,392.64 224.06,390.06 224.21,387.63 224.37,385.36 224.52,383.26 224.68,381.32 224.83,379.55 224.99,377.96 225.14,376.54 225.30,375.31 225.45,374.26 225.61,373.39 225.76,372.71 225.92,372.22 226.07,371.91 226.23,371.80 226.38,371.87 226.54,372.14 226.69,372.60 226.85,373.24 227.00,374.07 227.16,375.08 227.32,376.28 227.47,377.66 227.63,379.22 227.78,380.95 227.94,382.86 228.09,384.93 228.25,387.17 228.40,389.56 228.56,392.11 228.71,394.81 228.87,397.66 229.02,400.64 229.18,403.76 229.33,407.00 229.49,410.36 229.64,413.83 229.80,417.41 229.95,421.09 230.11,424.87 230.26,428.72 230.42,432.66 230.57,436.66 230.73,440.73 230.88,444.84 231.04,449.00 231.20,453.20 231.35,457.43 231.51,461.68 231.66,465.93 231.82,470.20 231.97,474.45 232.13,478.69 232.28,482.91 232.44,487.10 232.59,491.25 232.75,495.35 232.90,499.40 233.06,503.39 233.21,507.30 233.37,511.13 233.52,514.88 233.68,518.53 233.83,522.08 233.99,525.52 234.14,528.85 234.30,532.06 234.45,535.14 234.61,538.08 234.77,540.88 234.92,543.54 235.08,546.04 235.23,548.39 235.39,550.58 235.54,552.61 235.70,554.46 235.85,556.15 236.01,557.65 236.16,558.98 236.32,560.13 236.47,561.09 236.63,561.87 236.78,562.46 236.94,562.86 237.09,563.07 237.25,563.09 237.40,562.92 237.56,562.56 237.71,562.01 237.87,561.28 238.02,560.36 238.18,559.25 238.34,557.97 238.49,556.50 238.65,554.86 238.80,553.04 238.96,551.05 239.11,548.90 239.27,546.58 239.42,544.11 239.58,541.49 239.73,538.72 239.89,535.81 240.04,532.76 240.20,529.58 240.35,526.28 240.51,522.86 240.66,519.33 240.82,515.70 240.97,511.98 241.13,508.16 241.28,504.27 241.44,500.30 241.59,496.26 241.75,492.17 241.91,488.03 242.06,483.85 242.22,479.64 242.37,475.40 242.53,471.15 242.68,466.89 242.84,462.63 242.99,458.38 243.15,454.15 243.30,449.94 243.46,445.77 243.61,441.64 243.77,437.56 243.92,433.55 244.08,429.60 244.23,425.72 244.39,421.93 244.54,418.23 244.70,414.62 244.85,411.13 245.01,407.74 245.16,404.47 245.32,401.33 245.48,398.31 245.63,395.44 245.79,392.70 245.94,390.12 246.10,387.69 246.25,385.42 246.41,383.31 246.56,381.36 246.72,379.59 246.87,378.00 247.03,376.58 247.18,375.34 247.34,374.28 247.49,373.41 247.65,372.72 247.80,372.23 247.96,371.92 248.11,371.80 248.27,371.87 248.42,372.13 248.58,372.58 248.73,373.22 248.89,374.05 249.04,375.06 249.20,376.25 249.36,377.63 249.51,379.18 249.67,380.91 249.82,382.81 249.98,384.88 250.13,387.11 250.29,389.50 250.44,392.05 250.60,394.74 250.75,397.59 250.91,400.56 251.06,403.68 251.22,406.91 251.37,410.27 251.53,413.75 251.68,417.32 251.84,421.00 251.99,424.77 252.15,428.63 252.30,432.56 252.46,436.56 252.61,440.62 252.77,444.74 252.93,448.90 253.08,453.10 253.24,457.32 253.39,461.57 253.55,465.83 253.70,470.09 253.86,474.35 254.01,478.59 254.17,482.81 254.32,487.00 254.48,491.15 254.63,495.25 254.79,499.30 254.94,503.29 255.10,507.20 255.25,511.04 255.41,514.79 255.56,518.44 255.72,522.00 255.87,525.44 256.03,528.77 256.18,531.98 256.34,535.06 256.50,538.01 256.65,540.81 256.81,543.47 256.96,545.98 257.12,548.34 257.27,550.53 257.43,552.56 257.58,554.42 257.74,556.11 257.89,557.62 258.05,558.95 258.20,560.10 258.36,561.07 258.51,561.85 258.67,562.44 258.82,562.85 258.98,563.06 259.13,563.09 259.29,562.93 259.44,562.57 259.60,562.03 259.75,561.30 259.91,560.38 260.07,559.28 260.22,558.00 260.38,556.54 260.53,554.90 260.69,553.09 260.84,551.10 261.00,548.95 261.15,546.64 261.31,544.18 261.46,541.55 261.62,538.79 261.77,535.88 261.93,532.83 262.08,529.66 262.24,526.36 262.39,522.95 262.55,519.42 262.70,515.79 262.86,512.07 263.01,508.26 263.17,504.36 263.32,500.40 263.48,496.36 263.64,492.28 263.79,488.14 263.95,483.96 264.10,479.74 264.26,475.51 264.41,471.25 264.57,466.99 264.72,462.73 264.88,458.48 265.03,454.25 265.19,450.04 265.34,445.87 265.50,441.74 265.65,437.66 265.81,433.65 265.96,429.69 266.12,425.82 266.27,422.02 266.43,418.32 266.58,414.71 266.74,411.21 266.89,407.82 267.05,404.55 267.20,401.40 267.36,398.39 267.52,395.51 267.67,392.77 267.83,390.18 267.98,387.75 268.14,385.47 268.29,383.36 268.45,381.41 268.60,379.63 268.76,378.03 268.91,376.61 269.07,375.37 269.22,374.30 269.38,373.43 269.53,372.74 269.69,372.24 269.84,371.92 270.00,371.80 270.15,371.87 270.31,372.12 270.46,372.57 270.62,373.20 270.77,374.02 270.93,375.03 271.09,376.22 271.24,377.59 271.40,379.14 271.55,380.86 271.71,382.76 271.86,384.82 272.02,387.05 272.17,389.44 272.33,391.98 272.48,394.68 272.64,397.51 272.79,400.49 272.95,403.60 273.10,406.83 273.26,410.19 273.41,413.66 273.57,417.23 273.72,420.91 273.88,424.68 274.03,428.53 274.19,432.46 274.34,436.46 274.50,440.52 274.66,444.64 274.81,448.80 274.97,452.99 275.12,457.22 275.28,461.47 275.43,465.72 275.59,469.99 275.74,474.24 275.90,478.48 276.05,482.70 276.21,486.90 276.36,491.05 276.52,495.15 276.67,499.20 276.83,503.19 276.98,507.11 277.14,510.94 277.29,514.69 277.45,518.35 277.60,521.91 277.76,525.36 277.91,528.69 278.07,531.90 278.23,534.99 278.38,537.94 278.54,540.75 278.69,543.41 278.85,545.92 279.00,548.28 279.16,550.48 279.31,552.51 279.47,554.38 279.62,556.07 279.78,557.58 279.93,558.92 280.09,560.08 280.24,561.05 280.40,561.83 280.55,562.43 280.71,562.84 280.86,563.06 281.02,563.09 281.17,562.93 281.33,562.58 281.48,562.05 281.64,561.32 281.80,560.41 281.95,559.31 282.11,558.03 282.26,556.58 282.42,554.94 282.57,553.13 282.73,551.15 282.88,549.01 283.04,546.70 283.19,544.24 283.35,541.62 283.50,538.86 283.66,535.95 283.81,532.91 283.97,529.74 284.12,526.44 284.28,523.03 284.43,519.51 284.59,515.89 284.74,512.16 284.90,508.35 285.05,504.46 285.21,500.50 285.36,496.47 285.52,492.38 285.68,488.24 285.83,484.06 285.99,479.85 286.14,475.61 286.30,471.36 286.45,467.10 286.61,462.84 286.76,458.59 286.92,454.35 287.07,450.15 287.23,445.97 287.38,441.84 287.54,437.76 287.69,433.74 287.85,429.79 288.00,425.91 288.16,422.12 288.31,418.41 288.47,414.80 288.62,411.30 288.78,407.90 288.93,404.63 289.09,401.48 289.25,398.46 289.40,395.58 289.56,392.84 289.71,390.24 289.87,387.81 290.02,385.53 290.18,383.41 290.33,381.46 290.49,379.68 290.64,378.07 290.80,376.64 290.95,375.39 291.11,374.33 291.26,373.45 291.42,372.75 291.57,372.25 291.73,371.93 291.88,371.80 292.04,371.86 292.19,372.11 292.35,372.56 292.50,373.18 292.66,374.00 292.82,375.00 292.97,376.19 293.13,377.55 293.28,379.10 293.44,380.82 293.59,382.71 293.75,384.77 293.90,387.00 294.06,389.38 294.21,391.92 294.37,394.61 294.52,397.44 294.68,400.41 294.83,403.52 294.99,406.75 295.14,410.10 295.30,413.57 295.45,417.14 295.61,420.82 295.76,424.58 295.92,428.44 296.07,432.36 296.23,436.36 296.39,440.42 296.54,444.54 296.70,448.69 296.85,452.89 297.01,457.12 297.16,461.36 297.32,465.62 297.47,469.88 297.63,474.14 297.78,478.38 297.94,482.60 298.09,486.79 298.25,490.95 298.40,495.05 298.56,499.10 298.71,503.09 298.87,507.01 299.02,510.85 299.18,514.60 299.33,518.26 299.49,521.82 299.64,525.27 299.80,528.61 299.96,531.82 300.11,534.91 300.27,537.86 300.42,540.68 300.58,543.35 300.73,545.86 300.89,548.23 301.04,550.43 301.20,552.46 301.35,554.33 301.51,556.03 301.66,557.55 301.82,558.89 301.97,560.05 302.13,561.02 302.28,561.82 302.44,562.42 302.59,562.83 302.75,563.06 302.90,563.09 303.06,562.94 303.21,562.59 303.37,562.06 303.52,561.34 303.68,560.43 303.84,559.34 303.99,558.07 304.15,556.61 304.30,554.98 304.46,553.18 304.61,551.20 304.77,549.06 304.92,546.76 305.08,544.30 305.23,541.69 305.39,538.93 305.54,536.03 305.70,532.99 305.85,529.82 306.01,526.53 306.16,523.12 306.32,519.60 306.47,515.98 306.63,512.26 306.78,508.45 306.94,504.56 307.09,500.59 307.25,496.57 307.41,492.48 307.56,488.34 307.72,484.16 307.87,479.95 308.03,475.72 308.18,471.46 308.34,467.20 308.49,462.94 308.65,458.69 308.80,454.46 308.96,450.25 309.11,446.08 309.27,441.95 309.42,437.87 309.58,433.84 309.73,429.89 309.89,426.01 310.04,422.21 310.20,418.50 310.35,414.89 310.51,411.38 310.66,407.99 310.82,404.71 310.98,401.55 311.13,398.53 311.29,395.65 311.44,392.90 311.60,390.31 311.75,387.86 311.91,385.58 312.06,383.46 312.22,381.50 312.37,379.72 312.53,378.11 312.68,376.68 312.84,375.42 312.99,374.35 313.15,373.47 313.30,372.77 313.46,372.26 313.61,371.93 313.77,371.80 313.92,371.86 314.08,372.11 314.23,372.54 314.39,373.17 314.55,373.98 314.70,374.98 314.86,376.16 315.01,377.52 315.17,379.06 315.32,380.77 315.48,382.66 315.63,384.72 315.79,386.94 315.94,389.32 316.10,391.85 316.25,394.54 316.41,397.37 316.56,400.34 316.72,403.44 316.87,406.67 317.03,410.02 317.18,413.48 317.34,417.06 317.49,420.73 317.65,424.49 317.80,428.34 317.96,432.27 318.12,436.26 318.27,440.32 318.43,444.43 318.58,448.59 318.74,452.79 318.89,457.01 319.05,461.26 319.20,465.51 319.36,469.77 319.51,474.03 319.67,478.27 319.82,482.50 319.98,486.69 320.13,490.84 320.29,494.95 320.44,499.00 320.60,502.99 320.75,506.91 320.91,510.76 321.06,514.51 321.22,518.17 321.37,521.74 321.53,525.19 321.68,528.53 321.84,531.75 322.00,534.84 322.15,537.79 322.31,540.61 322.46,543.28 322.62,545.80 322.77,548.17 322.93,550.38 323.08,552.42 323.24,554.29 323.39,555.99 323.55,557.51 323.70,558.86 323.86,560.02 324.01,561.00 324.17,561.80 324.32,562.41 324.48,562.82 324.63,563.05 324.79,563.09 324.94,562.94 325.10,562.60 325.25,562.08 325.41,561.36 325.57,560.46 325.72,559.37 325.88,558.10 326.03,556.65 326.19,555.03 326.34,553.23 326.50,551.26 326.65,549.12 326.81,546.82 326.96,544.36 327.12,541.75 327.27,539.00 327.43,536.10 327.58,533.06 327.74,529.90 327.89,526.61 328.05,523.20 328.20,519.69 328.36,516.07 328.51,512.35 328.67,508.54 328.82,504.66 328.98,500.69 329.14,496.67 329.29,492.58 329.45,488.44 329.60,484.27 329.76,480.06 329.91,475.82 330.07,471.57 330.22,467.31 330.38,463.05 330.53,458.80 330.69,454.56 330.84,450.35 331.00,446.18 331.15,442.05 331.31,437.97 331.46,433.94 331.62,429.98 331.77,426.10 331.93,422.30 332.08,418.59 332.24,414.98 332.39,411.47 332.55,408.07 332.71,404.79 332.86,401.63 333.02,398.60 333.17,395.72 333.33,392.97 333.48,390.37 333.64,387.92 333.79,385.63 333.95,383.51 334.10,381.55 334.26,379.76 334.41,378.15 334.57,376.71 334.72,375.45 334.88,374.38 335.03,373.49 335.19,372.78 335.34,372.27 335.50,371.94 335.65,371.80 335.81,371.86 335.96,372.10 336.12,372.53 336.28,373.15 336.43,373.96 336.59,374.95 336.74,376.13 336.90,377.48 337.05,379.02 337.21,380.73 337.36,382.61 337.52,384.67 337.67,386.88 337.83,389.26 337.98,391.79 338.14,394.47 338.29,397.30 338.45,400.26 338.60,403.36 338.76,406.59 338.91,409.94 339.07,413.40 339.22,416.97 339.38,420.63 339.53,424.40 339.69,428.24 339.85,432.17 340.00,436.16 340.16,440.22 340.31,444.33 340.47,448.49 340.62,452.68 340.78,456.91 340.93,461.15 341.09,465.41 341.24,469.67 341.40,473.93 341.55,478.17 341.71,482.39 341.86,486.59 342.02,490.74 342.17,494.85 342.33,498.90 342.48,502.90 342.64,506.82 342.79,510.66 342.95,514.42 343.10,518.08 343.26,521.65 343.41,525.11 343.57,528.45 343.73,531.67 343.88,534.76 344.04,537.72 344.19,540.54 344.35,543.22 344.50,545.74 344.66,548.11 344.81,550.32 344.97,552.37 345.12,554.24 345.28,555.95 345.43,557.48 345.59,558.83 345.74,560.00 345.90,560.98 346.05,561.78 346.21,562.39 346.36,562.82 346.52,563.05 346.67,563.10 346.83,562.95 346.98,562.62 347.14,562.09 347.30,561.38 347.45,560.48 347.61,559.40 347.76,558.14 347.92,556.69 348.07,555.07 348.23,553.27 348.38,551.31 348.54,549.17 348.69,546.88 348.85,544.43 349.00,541.82 349.16,539.07 349.31,536.17 349.47,533.14 349.62,529.98 349.78,526.69 349.93,523.29 350.09,519.78 350.24,516.16 350.40,512.44 350.55,508.64 350.71,504.75 350.87,500.79 351.02,496.77 351.18,492.68 351.33,488.55 351.49,484.37 351.64,480.16 351.80,475.93 351.95,471.67 352.11,467.41 352.26,463.15 352.42,458.90 352.57,454.67 352.73,450.46 352.88,446.28 353.04,442.15 353.19,438.07 353.35,434.04 353.50,430.08 353.66,426.20 353.81,422.39 353.97,418.68 354.12,415.06 354.28,411.55 354.44,408.15 354.59,404.87 354.75,401.71 354.90,398.68 355.06,395.78 355.21,393.03 355.37,390.43 355.52,387.98 355.68,385.69 355.83,383.56 355.99,381.60 356.14,379.80 356.30,378.18 356.45,376.74 356.61,375.48 356.76,374.40 356.92,373.51 357.07,372.80 357.23,372.28 357.38,371.95 357.54,371.80 357.69,371.85 357.85,372.09 358.01,372.52 358.16,373.13 358.32,373.93 358.47,374.92 358.63,376.09 358.78,377.45 358.94,378.98 359.09,380.69 359.25,382.57 359.40,384.61 359.56,386.83 359.71,389.20 359.87,391.73 360.02,394.40 360.18,397.23 360.33,400.19 360.49,403.28 360.64,406.51 360.80,409.85 360.95,413.31 361.11,416.88 361.26,420.54 361.42,424.30 361.57,428.15 361.73,432.07 361.89,436.06 362.04,440.12 362.20,444.23 362.35,448.38 362.51,452.58 362.66,456.80 362.82,461.05 362.97,465.30 363.13,469.56 363.28,473.82 363.44,478.07 363.59,482.29 363.75,486.48 363.90,490.64 364.06,494.75 364.21,498.80 364.37,502.80 364.52,506.72 364.68,510.57 364.83,514.33 364.99,517.99 365.14,521.56 365.30,525.02 365.46,528.37 365.61,531.59 365.77,534.69 365.92,537.65 366.08,540.47 366.23,543.15 366.39,545.68 366.54,548.06 366.70,550.27 366.85,552.32 367.01,554.20 367.16,555.91 367.32,557.44 367.47,558.80 367.63,559.97 367.78,560.96 367.94,561.76 368.09,562.38 368.25,562.81 368.40,563.05 368.56,563.10 368.71,562.96 368.87,562.63 369.03,562.11 369.18,561.40 369.34,560.51 369.49,559.43 369.65,558.17 369.80,556.73 369.96,555.11 370.11,553.32 370.27,551.36 370.42,549.23 370.58,546.94 370.73,544.49 370.89,541.89 371.04,539.14 371.20,536.25 371.35,533.22 371.51,530.06 371.66,526.78 371.82,523.38 371.97,519.86 372.13,516.25 372.28,512.54 372.44,508.73 372.60,504.85 372.75,500.89 372.91,496.87 373.06,492.78 373.22,488.65 373.37,484.48 373.53,480.27 373.68,476.03 373.84,471.78 373.99,467.52 374.15,463.26 374.30,459.01 374.46,454.77 374.61,450.56 374.77,446.39 374.92,442.25 375.08,438.17 375.23,434.14 375.39,430.18 375.54,426.29 375.70,422.49 375.85,418.77 376.01,415.15 376.17,411.64 376.32,408.23 376.48,404.95 376.63,401.78 376.79,398.75 376.94,395.85 377.10,393.10 377.25,390.49 377.41,388.04 377.56,385.74 377.72,383.61 377.87,381.64 378.03,379.85 378.18,378.22 378.34,376.78 378.49,375.51 378.65,374.43 378.80,373.53 378.96,372.81 379.11,372.29 379.27,371.95 379.42,371.81 379.58,371.85 379.73,372.08 379.89,372.50 380.05,373.11 380.20,373.91 380.36,374.90 380.51,376.06 380.67,377.41 380.82,378.94 380.98,380.64 381.13,382.52 381.29,384.56 381.44,386.77 381.60,389.14 381.75,391.66 381.91,394.34 382.06,397.15 382.22,400.11 382.37,403.21 382.53,406.43 382.68,409.77 382.84,413.22 382.99,416.79 383.15,420.45 383.30,424.21 383.46,428.05 383.62,431.97 383.77,435.96 383.93,440.02 384.08,444.13 384.24,448.28 384.39,452.47 384.55,456.70 384.70,460.94 384.86,465.20 385.01,469.46 385.17,473.72 385.32,477.96 385.48,482.18 385.63,486.38 385.79,490.54 385.94,494.65 386.10,498.71 386.25,502.70 386.41,506.63 386.56,510.47 386.72,514.24 386.87,517.91 387.03,521.47 387.19,524.94 387.34,528.28 387.50,531.51 387.65,534.61 387.81,537.58 387.96,540.41 388.12,543.09 388.27,545.62 388.43,548.00 388.58,550.22 388.74,552.27 388.89,554.16 389.05,555.87 389.20,557.41 389.36,558.76 389.51,559.94 389.67,560.94 389.82,561.75 389.98,562.37 390.13,562.80 390.29,563.04 390.44,563.10 390.60,562.96 390.76,562.64 390.91,562.12 391.07,561.42 391.22,560.53 391.38,559.46 391.53,558.20 391.69,556.77 391.84,555.15 392.00,553.37 392.15,551.41 392.31,549.28 392.46,547.00 392.62,544.55 392.77,541.95 392.93,539.21 393.08,536.32 393.24,533.29 393.39,530.14 393.55,526.86 393.70,523.46 393.86,519.95 394.01,516.34 394.17,512.63 394.33,508.83 394.48,504.95 394.64,500.99 394.79,496.97 394.95,492.89 395.10,488.75 395.26,484.58 395.41,480.37 395.57,476.14 395.72,471.89 395.88,467.63 396.03,463.36 396.19,459.11 396.34,454.88 396.50,450.67 396.65,446.49 396.81,442.35 396.96,438.27 397.12,434.24 397.27,430.28 397.43,426.39 397.58,422.58 397.74,418.86 397.89,415.24 398.05,411.72 398.21,408.32 398.36,405.03 398.52,401.86 398.67,398.82 398.83,395.92 398.98,393.17 399.14,390.56 399.29,388.10 399.45,385.80 399.60,383.66 399.76,381.69 399.91,379.89 400.07,378.26 400.22,376.81 400.38,375.54 400.53,374.45 400.69,373.55 400.84,372.83 401.00,372.30 401.15,371.96 401.31,371.81 401.46,371.84 401.62,372.07 401.78,372.49 401.93,373.10 402.09,373.89 402.24,374.87 402.40,376.03 402.55,377.38 402.71,378.90 402.86,380.60 403.02,382.47 403.17,384.51 403.33,386.71 403.48,389.08 403.64,391.60 403.79,394.27 403.95,397.08 404.10,400.04 404.26,403.13 404.41,406.35 404.57,409.68 404.72,413.14 404.88,416.70 405.03,420.36 405.19,424.11 405.35,427.95 405.50,431.87 405.66,435.86 405.81,439.92 405.97,444.02 406.12,448.18 406.28,452.37 406.43,456.59 406.59,460.83 406.74,465.09 406.90,469.35 407.05,473.61 407.21,477.86 407.36,482.08 407.52,486.28 407.67,490.43 407.83,494.55 407.98,498.61 408.14,502.60 408.29,506.53 408.45,510.38 408.60,514.14 408.76,517.82 408.92,521.39 409.07,524.85 409.23,528.20 409.38,531.43 409.54,534.54 409.69,537.51 409.85,540.34 410.00,543.02 410.16,545.56 410.31,547.94 410.47,550.16 410.62,552.22 410.78,554.11 410.93,555.83 411.09,557.37 411.24,558.73 411.40,559.92 411.55,560.91 411.71,561.73 411.86,562.35 412.02,562.79 412.17,563.04 412.33,563.10 412.49,562.97 412.64,562.65 412.80,562.14 412.95,561.44 413.11,560.56 413.26,559.49 413.42,558.24 413.57,556.80 413.73,555.19 413.88,553.41 414.04,551.46 414.19,549.34 414.35,547.05 414.50,544.61 414.66,542.02 414.81,539.28 414.97,536.39 415.12,533.37 415.28,530.22 415.43,526.94 415.59,523.55 415.74,520.04 415.90,516.43 416.05,512.72 416.21,508.92 416.37,505.04 416.52,501.09 416.68,497.07 416.83,492.99 416.99,488.86 417.14,484.68 417.30,480.47 417.45,476.24 417.61,471.99 417.76,467.73 417.92,463.47 418.07,459.22 418.23,454.98 418.38,450.77 418.54,446.59 418.69,442.45 418.85,438.37 419.00,434.34 419.16,430.37 419.31,426.48 419.47,422.67 419.62,418.95 419.78,415.33 419.94,411.81 420.09,408.40 420.25,405.11 420.40,401.94 420.56,398.90 420.71,395.99 420.87,393.23 421.02,390.62 421.18,388.16 421.33,385.85 421.49,383.71 421.64,381.74 421.80,379.93 421.95,378.30 422.11,376.84 422.26,375.57 422.42,374.47 422.57,373.57 422.73,372.84 422.88,372.31 423.04,371.96 423.19,371.81 423.35,371.84 423.51,372.07 423.66,372.48 423.82,373.08 423.97,373.87 424.13,374.84 424.28,376.00 424.44,377.34 424.59,378.86 424.75,380.55 424.90,382.42 425.06,384.46 425.21,386.66 425.37,389.02 425.52,391.53 425.68,394.20 425.83,397.01 425.99,399.96 426.14,403.05 426.30,406.26 426.45,409.60 426.61,413.05 426.76,416.61 426.92,420.27 427.08,424.02 427.23,427.86 427.39,431.78 427.54,435.76 427.70,439.82 427.85,443.92 428.01,448.07 428.16,452.27 428.32,456.49 428.47,460.73 428.63,464.99 428.78,469.25 428.94,473.51 429.09,477.75 429.25,481.98 429.40,486.17 429.56,490.33 429.71,494.45 429.87,498.51 430.02,502.50 430.18,506.43 430.33,510.29 430.49,514.05 430.65,517.73 430.80,521.30 430.96,524.77 431.11,528.12 431.27,531.36 431.42,534.46 431.58,537.44 431.73,540.27 431.89,542.96 432.04,545.50 432.20,547.89 432.35,550.11 432.51,552.17 432.66,554.07 432.82,555.79 432.97,557.33 433.13,558.70 433.28,559.89 433.44,560.89 433.59,561.71 433.75,562.34 433.90,562.78 434.06,563.04 434.22,563.10 434.37,562.97 434.53,562.66 434.68,562.15 434.84,561.46 434.99,560.58 435.15,559.52 435.30,558.27 435.46,556.84 435.61,555.24 435.77,553.46 435.92,551.51 436.08,549.39 436.23,547.11 436.39,544.68 436.54,542.09 436.70,539.35 436.85,536.47 437.01,533.45 437.16,530.30 437.32,527.02 437.47,523.63 437.63,520.13 437.78,516.52 437.94,512.81 438.10,509.02 438.25,505.14 438.41,501.19 438.56,497.17 438.72,493.09 438.87,488.96 439.03,484.79 439.18,480.58 439.34,476.35 439.49,472.10 439.65,467.84 439.80,463.58 439.96,459.32 440.11,455.09 440.27,450.87 440.42,446.69 440.58,442.56 440.73,438.47 440.89,434.44 441.04,430.47 441.20,426.58 441.35,422.77 441.51,419.04 441.67,415.42 441.82,411.89 441.98,408.48 442.13,405.19 442.29,402.01 442.44,398.97 442.60,396.06 442.75,393.30 442.91,390.68 443.06,388.22 443.22,385.91 443.37,383.76 443.53,381.78 443.68,379.97 443.84,378.34 443.99,376.88 444.15,375.60 444.30,374.50 444.46,373.59 444.61,372.86 444.77,372.32 444.92,371.97 445.08,371.81 445.24,371.84 445.39,372.06 445.55,372.47 445.70,373.06 445.86,373.85 446.01,374.82 446.17,375.97 446.32,377.30 446.48,378.82 446.63,380.51 446.79,382.37 446.94,384.40 447.10,386.60 447.25,388.96 447.41,391.47 447.56,394.13 447.72,396.94 447.87,399.89 448.03,402.97 448.18,406.18 448.34,409.52 448.49,412.96 448.65,416.52 448.81,420.18 448.96,423.93 449.12,427.76 449.27,431.68 449.43,435.66 449.58,439.71 449.74,443.82 449.89,447.97 450.05,452.16 450.20,456.38 450.36,460.62 450.51,464.88 450.67,469.14 450.82,473.40 450.98,477.65 451.13,481.87 451.29,486.07 451.44,490.23 451.60,494.34 451.75,498.41 451.91,502.41 452.06,506.34 452.22,510.19 452.38,513.96 452.53,517.64 452.69,521.21 452.84,524.68 453.00,528.04 453.15,531.28 453.31,534.39 453.46,537.36 453.62,540.20 453.77,542.90 453.93,545.44 454.08,547.83 454.24,550.06 454.39,552.12 454.55,554.02 454.70,555.75 454.86,557.30 455.01,558.67 455.17,559.86 455.32,560.87 455.48,561.69 455.63,562.33 455.79,562.77 455.94,563.03 456.10,563.10 456.26,562.98 456.41,562.67 456.57,562.17 456.72,561.48 456.88,560.60 457.03,559.54 457.19,558.30 457.34,556.88 457.50,555.28 457.65,553.50 457.81,551.56 457.96,549.45 458.12,547.17 458.27,544.74 458.43,542.15 458.58,539.42 458.74,536.54 458.89,533.52 459.05,530.38 459.20,527.11 459.36,523.72 459.51,520.22 459.67,516.61 459.83,512.91 459.98,509.11 460.14,505.24 460.29,501.29 460.45,497.27 460.60,493.19 460.76,489.06 460.91,484.89 461.07,480.68 461.22,476.45 461.38,472.20 461.53,467.94 461.69,463.68 461.84,459.43 462.00,455.19 462.15,450.98 462.31,446.80 462.46,442.66 462.62,438.57 462.77,434.54 462.93,430.57 463.08,426.67 463.24,422.86 463.40,419.14 463.55,415.51 463.71,411.98 463.86,408.56 464.02,405.27 464.17,402.09 464.33,399.05 464.48,396.14 464.64,393.37 464.79,390.75 464.95,388.28 465.10,385.96 465.26,383.81 465.41,381.83 465.57,380.02 465.72,378.37 465.88,376.91 466.03,375.63 466.19,374.52 466.34,373.61 466.50,372.88 466.65,372.33 466.81,371.98 466.97,371.81 467.12,371.84 467.28,372.05 467.43,372.45 467.59,373.05 467.74,373.82 467.90,374.79 468.05,375.94 468.21,377.27 468.36,378.78 468.52,380.47 468.67,382.32 468.83,384.35 468.98,386.54 469.14,388.90 469.29,391.40 469.45,394.06 469.60,396.87 469.76,399.82 469.91,402.89 470.07,406.10 470.22,409.43 470.38,412.88 470.54,416.43 470.69,420.08 470.85,423.83 471.00,427.67 471.16,431.58 471.31,435.57 471.47,439.61 471.62,443.72 471.78,447.87 471.93,452.06 472.09,456.28 472.24,460.52 472.40,464.78 472.55,469.04 472.71,473.29 472.86,477.54 473.02,481.77 473.17,485.97 473.33,490.13 473.48,494.24 473.64,498.31 473.79,502.31 473.95,506.24 474.10,510.10 474.26,513.87 474.42,517.55 474.57,521.13 474.73,524.60 474.88,527.96 475.04,531.20 475.19,534.31 475.35,537.29 475.50,540.13 475.66,542.83 475.81,545.38 475.97,547.77 476.12,550.00 476.28,552.07 476.43,553.98 476.59,555.71 476.74,557.26 476.90,558.64 477.05,559.83 477.21,560.85 477.36,561.67 477.52,562.31 477.67,562.77 477.83,563.03 477.99,563.10 478.14,562.98 478.30,562.68 478.45,562.18 478.61,561.50 478.76,560.63 478.92,559.57 479.07,558.33 479.23,556.92 479.38,555.32 479.54,553.55 479.69,551.61 479.85,549.50 480.00,547.23 480.16,544.80 480.31,542.22 480.47,539.49 480.62,536.61 480.78,533.60 480.93,530.46 481.09,527.19 481.24,523.80 481.40,520.30 481.56,516.70 481.71,513.00 481.87,509.21 482.02,505.33 482.18,501.38 482.33,497.37 482.49,493.29 482.64,489.16 482.80,484.99 482.95,480.79 483.11,476.56 483.26,472.31 483.42,468.05 483.57,463.79 483.73,459.53 483.88,455.29 484.04,451.08 484.19,446.90 484.35,442.76 484.50,438.67 484.66,434.63 484.81,430.66 484.97,426.77 485.13,422.95 485.28,419.23 485.44,415.60 485.59,412.07 485.75,408.65 485.90,405.35 486.06,402.17 486.21,399.12 486.37,396.21 486.52,393.43 486.68,390.81 486.83,388.34 486.99,386.02 487.14,383.87 487.30,381.88 487.45,380.06 487.61,378.41 487.76,376.94 487.92,375.66 488.07,374.55 488.23,373.63 488.38,372.89 488.54,372.34 488.70,371.98 488.85,371.81 489.01,371.83 489.16,372.04 489.32,372.44 489.47,373.03 489.63,373.80 489.78,374.76 489.94,375.91 490.09,377.23 490.25,378.74 490.40,380.42 490.56,382.28 490.71,384.30 490.87,386.49 491.02,388.84 491.18,391.34 491.33,394.00 491.49,396.80 491.64,399.74 491.80,402.82 491.95,406.02 492.11,409.35 492.26,412.79 492.42,416.34 492.58,419.99 492.73,423.74 492.89,427.57 493.04,431.48 493.20,435.47 493.35,439.51 493.51,443.62 493.66,447.76 493.82,451.95 493.97,456.17 494.13,460.41 494.28,464.67 494.44,468.93 494.59,473.19 494.75,477.44 494.90,481.66 495.06,485.86 495.21,490.02 495.37,494.14 495.52,498.21 495.68,502.21 495.83,506.14 495.99,510.00 496.15,513.78 496.30,517.46 496.46,521.04 496.61,524.51 496.77,527.88 496.92,531.12 497.08,534.24 497.23,537.22 497.39,540.06 497.54,542.77 497.70,545.32 497.85,547.71 498.01,549.95 498.16,552.03 498.32,553.93 498.47,555.67 498.63,557.23 498.78,558.61 498.94,559.81 499.09,560.82 499.25,561.66 499.40,562.30 499.56,562.76 499.72,563.02 499.87,563.10 500.03,562.99 500.18,562.69 500.34,562.20 500.49,561.52 500.65,560.65 500.80,559.60 500.96,558.37 501.11,556.95 501.27,555.36 501.42,553.60 501.58,551.66 501.73,549.55 501.89,547.29 502.04,544.86 502.20,542.28 502.35,539.55 502.51,536.68 502.66,533.68 502.82,530.54 502.97,527.27 503.13,523.89 503.29,520.39 503.44,516.79 503.60,513.09 503.75,509.30 503.91,505.43 504.06,501.48 504.22,497.47 504.37,493.39 504.53,489.27 504.68,485.10 504.84,480.89 504.99,476.66 505.15,472.41 505.30,468.15 505.46,463.89 505.61,459.64 505.77,455.40 505.92,451.19 506.08,447.00 506.23,442.86 506.39,438.77 506.54,434.73 506.70,430.76 506.86,426.86 507.01,423.05 507.17,419.32 507.32,415.68 507.48,412.15 507.63,408.73 507.79,405.43 507.94,402.24 508.10,399.19 508.25,396.28 508.41,393.50 508.56,390.87 508.72,388.39 508.87,386.07 509.03,383.92 509.18,381.92 509.34,380.10 509.49,378.45 509.65,376.98 509.80,375.69 509.96,374.57 510.11,373.65 510.27,372.91 510.42,372.35 510.58,371.99 510.74,371.81 510.89,371.83 511.05,372.03 511.20,372.43 511.36,373.01 511.51,373.78 511.67,374.74 511.82,375.88 511.98,377.20 512.13,378.70 512.29,380.38 512.44,382.23 512.60,384.25 512.75,386.43 512.91,388.78 513.06,391.28 513.22,393.93 513.37,396.73 513.53,399.67 513.68,402.74 513.84,405.94 513.99,409.26 514.15,412.70 514.31,416.25 514.46,419.90 514.62,423.64 514.77,427.48 514.93,431.39 515.08,435.37 515.24,439.41 515.39,443.51 515.55,447.66 515.70,451.85 515.86,456.07 516.01,460.31 516.17,464.56 516.32,468.83 516.48,473.08 516.63,477.33 516.79,481.56 516.94,485.76 517.10,489.92 517.25,494.04 517.41,498.11 517.56,502.11 517.72,506.05 517.88,509.91 518.03,513.68 518.19,517.37 518.34,520.95 518.50,524.43 518.65,527.80 518.81,531.04 518.96,534.16 519.12,537.15 519.27,540.00 519.43,542.70 519.58,545.26 519.74,547.66 519.89,549.90 520.05,551.98 520.20,553.89 520.36,555.63 520.51,557.19 520.67,558.57 520.82,559.78 520.98,560.80 521.13,561.64 521.29,562.29 521.45,562.75 521.60,563.02 521.76,563.10 521.91,562.99 522.07,562.70 522.22,562.21 522.38,561.54 522.53,560.68 522.69,559.63 522.84,558.40 523.00,556.99 523.15,555.40 523.31,553.64 523.46,551.71 523.62,549.61 523.77,547.35 523.93,544.92 524.08,542.35 524.24,539.62 524.39,536.76 524.55,533.75 524.70,530.62 524.86,527.35 525.02,523.97 525.17,520.48 525.33,516.88 525.48,513.19 525.64,509.40 525.79,505.53 525.95,501.58 526.10,497.57 526.26,493.49 526.41,489.37 526.57,485.20 526.72,481.00 526.88,476.77 527.03,472.52 527.19,468.26 527.34,464.00 527.50,459.74 527.65,455.50 527.81,451.29 527.96,447.11 528.12,442.96 528.27,438.87 528.43,434.83 528.58,430.86 528.74,426.96 528.90,423.14 529.05,419.41 529.21,415.77 529.36,412.24 529.52,408.81 529.67,405.51 529.83,402.32 529.98,399.27 530.14,396.35 530.29,393.57 530.45,390.93 530.60,388.45 530.76,386.13 530.91,383.97 531.07,381.97 531.22,380.14 531.38,378.49 531.53,377.01 531.69,375.72 531.84,374.60 532.00,373.67 532.15,372.92 532.31,372.37 532.47,372.00 532.62,371.82 532.78,371.83 532.93,372.03 533.09,372.42 533.24,372.99 533.40,373.76 533.55,374.71 533.71,375.85 533.86,377.16 534.02,378.66 534.17,380.33 534.33,382.18 534.48,384.19 534.64,386.37 534.79,388.72 534.95,391.21 535.10,393.86 535.26,396.66 535.41,399.59 535.57,402.66 535.72,405.86 535.88,409.18 536.04,412.62 536.19,416.16 536.35,419.81 536.50,423.55 536.66,427.38 536.81,431.29 536.97,435.27 537.12,439.31 537.28,443.41 537.43,447.56 537.59,451.75 537.74,455.96 537.90,460.20 538.05,464.46 538.21,468.72 538.36,472.98 538.52,477.23 538.67,481.45 538.83,485.66 538.98,489.82 539.14,493.94 539.29,498.01 539.45,502.01 539.61,505.95 539.76,509.81 539.92,513.59 540.07,517.28 540.23,520.86 540.38,524.35 540.54,527.71 540.69,530.96 540.85,534.08 541.00,537.07 541.16,539.93 541.31,542.64 541.47,545.19 541.62,547.60 541.78,549.84 541.93,551.93 542.09,553.84 542.24,555.58 542.40,557.15 542.55,558.54 542.71,559.75 542.86,560.78 543.02,561.62 543.18,562.27 543.33,562.74 543.49,563.01 543.64,563.10 543.80,563.00 543.95,562.71 544.11,562.22 544.26,561.56 544.42,560.70 544.57,559.66 544.73,558.43 544.88,557.03 545.04,555.44 545.19,553.69 545.35,551.76 545.50,549.66 545.66,547.40 545.81,544.99 545.97,542.41 546.12,539.69 546.28,536.83 546.43,533.83 546.59,530.69 546.75,527.44 546.90,524.06 547.06,520.57 547.21,516.97 547.37,513.28 547.52,509.49 547.68,505.62 547.83,501.68 547.99,497.67 548.14,493.60 548.30,489.47 548.45,485.30 548.61,481.10 548.76,476.87 548.92,472.62 549.07,468.36 549.23,464.10 549.38,459.85 549.54,455.61 549.69,451.39 549.85,447.21 550.00,443.07 550.16,438.97 550.31,434.93 550.47,430.96 550.63,427.06 550.78,423.23 550.94,419.50 551.09,415.86 551.25,412.32 551.40,408.90 551.56,405.59 551.71,402.40 551.87,399.34 552.02,396.42 552.18,393.63 552.33,391.00 552.49,388.51 552.64,386.19 552.80,384.02 552.95,382.02 553.11,380.19 553.26,378.53 553.42,377.05 553.57,375.75 553.73,374.63 553.88,373.69 554.04,372.94 554.20,372.38 554.35,372.00 554.51,371.82 554.66,371.82 554.82,372.02 554.97,372.40 555.13,372.98 555.28,373.74 555.44,374.69 555.59,375.82 555.75,377.13 555.90,378.62 556.06,380.29 556.21,382.13 556.37,384.14 556.52,386.32 556.68,388.66 556.83,391.15 556.99,393.79 557.14,396.59 557.30,399.52 557.45,402.58 557.61,405.78 557.77,409.10 557.92,412.53 558.08,416.07 558.23,419.72 558.39,423.46 558.54,427.28 558.70,431.19 558.85,435.17 559.01,439.21 559.16,443.31 559.32,447.46 559.47,451.64 559.63,455.86 559.78,460.10 559.94,464.35 560.09,468.62 560.25,472.87 560.40,477.12 560.56,481.35 560.71,485.55 560.87,489.72 561.02,493.84 561.18,497.91 561.34,501.92 561.49,505.86 561.65,509.72 561.80,513.50 561.96,517.19 562.11,520.78 562.27,524.26 562.42,527.63 562.58,530.88 562.73,534.01 562.89,537.00 563.04,539.86 563.20,542.57 563.35,545.13 563.51,547.54 563.66,549.79 563.82,551.88 563.97,553.80 564.13,555.54 564.28,557.12 564.44,558.51 564.59,559.72 564.75,560.75 564.91,561.60 565.06,562.26 565.22,562.73 565.37,563.01 565.53,563.10 565.68,563.00 565.84,562.72 565.99,562.24 566.15,561.57 566.30,560.72 566.46,559.69 566.61,558.47 566.77,557.06 566.92,555.49 567.08,553.73 567.23,551.81 567.39,549.72 567.54,547.46 567.70,545.05 567.85,542.48 568.01,539.76 568.16,536.90 568.32,533.90 568.47,530.77 568.63,527.52 568.79,524.14 568.94,520.65 569.10,517.06 569.25,513.37 569.41,509.59 569.56,505.72 569.72,501.78 569.87,497.77 570.03,493.70 570.18,489.57 570.34,485.41 570.49,481.21 570.65,476.98 570.80,472.73 570.96,468.47 571.11,464.21 571.27,459.95 571.42,455.71 571.58,451.50 571.73,447.31 571.89,443.17 572.04,439.07 572.20,435.03 572.36,431.05 572.51,427.15 572.67,423.33 572.82,419.59 572.98,415.95 573.13,412.41 573.29,408.98 573.44,405.67 573.60,402.48 573.75,399.41 573.91,396.49 574.06,393.70 574.22,391.06 574.37,388.57 574.53,386.24 574.68,384.07 574.84,382.07 574.99,380.23 575.15,378.57 575.30,377.08 575.46,375.78 575.61,374.65 575.77,373.71 575.93,372.96 576.08,372.39 576.24,372.01 576.39,371.82 576.55,371.82 576.70,372.01 576.86,372.39 577.01,372.96 577.17,373.72 577.32,374.66 577.48,375.79 577.63,377.10 577.79,378.58 577.94,380.25 578.10,382.08 578.25,384.09 578.41,386.26 578.56,388.60 578.72,391.09 578.87,393.73 579.03,396.52 579.18,399.44 579.34,402.51 579.50,405.70 579.65,409.01 579.81,412.44 579.96,415.98 580.12,419.63 580.27,423.36 580.43,427.19 580.58,431.09 580.74,435.07 580.89,439.11 581.05,443.21 581.20,447.35 581.36,451.54 581.51,455.75 581.67,459.99 581.82,464.25 581.98,468.51 582.13,472.77 582.29,477.02 582.44,481.25 582.60,485.45 582.75,489.61 582.91,493.74 583.07,497.81 583.22,501.82 583.38,505.76 583.53,509.62 583.69,513.41 583.84,517.10 584.00,520.69 584.15,524.18 584.31,527.55 584.46,530.80 584.62,533.93 584.77,536.93 584.93,539.79 585.08,542.50 585.24,545.07 585.39,547.48 585.55,549.74 585.70,551.83 585.86,553.75 586.01,555.50 586.17,557.08 586.32,558.48 586.48,559.70 586.63,560.73 586.79,561.58 586.95,562.24 587.10,562.72 587.26,563.01 587.41,563.10 587.57,563.01 587.72,562.73 587.88,562.25 588.03,561.59 588.19,560.75 588.34,559.71 588.50,558.50 588.65,557.10 588.81,555.53 588.96,553.78 589.12,551.86 589.27,549.77 589.43,547.52 589.58,545.11 589.74,542.54 589.89,539.83 590.05,536.97 590.20,533.98 590.36,530.85 590.52,527.60 590.67,524.23 590.83,520.74 590.98,517.15 591.14,513.46 591.29,509.68 591.45,505.82 591.60,501.88 591.76,497.87 591.91,493.80 592.07,489.68 592.22,485.51 592.38,481.31 592.53,477.08 592.69,472.83 592.84,468.57 593.00,464.31 593.15,460.06 593.31,455.82 593.46,451.60 593.62,447.42 593.77,443.27 593.93,439.17 594.09,435.13 594.24,431.15 594.40,427.25 594.55,423.42 594.71,419.68 594.86,416.04 595.02,412.50 595.17,409.06 595.33,405.75 595.48,402.55 595.64,399.49 595.79,396.56 595.95,393.77 596.10,391.12 596.26,388.63 596.41,386.30 596.57,384.12 596.72,382.11 596.88,380.27 597.03,378.61 597.19,377.12 597.34,375.81 597.50,374.68 597.66,373.73 597.81,372.97 597.97,372.40 598.12,372.02 598.28,371.82 598.43,371.82 598.59,372.01 598.74,372.38 598.90,372.95 599.05,373.70 599.21,374.63 599.36,375.76 599.52,377.06 599.67,378.54 599.83,380.20 599.98,382.04 600.14,384.04 600.29,386.21 600.45,388.54 600.60,391.02 600.76,393.66 600.91,396.44 601.07,399.37 601.23,402.43 601.38,405.62 601.54,408.93 601.69,412.36 601.85,415.90 602.00,419.54 602.16,423.27 602.31,427.09 602.47,431.00 602.62,434.97 602.78,439.01 602.93,443.11 603.09,447.25 603.24,451.43 603.40,455.65 603.55,459.89 603.71,464.14 603.86,468.40 604.02,472.66 604.17,476.91 604.33,481.14 604.48,485.34 604.64,489.51 604.79,493.64 604.95,497.71 605.11,501.72 605.26,505.66 605.42,509.53 605.57,513.31 605.73,517.01 605.88,520.60 606.04,524.09 606.19,527.47 606.35,530.73 606.50,533.86 606.66,536.86 606.81,539.72 606.97,542.44 607.12,545.01 607.28,547.43 607.43,549.68 607.59,551.78 607.74,553.70 607.90,555.46 608.05,557.04 608.21,558.45 608.36,559.67 608.52,560.71 608.68,561.56 608.83,562.23 608.99,562.71 609.14,563.00 609.30,563.10 609.45,563.01 609.61,562.73 609.76,562.27 609.92,561.61 610.07,560.77 610.23,559.74 610.38,558.53 610.54,557.14 610.69,555.57 610.85,553.82 611.00,551.91 611.16,549.82 611.31,547.58 611.47,545.17 611.62,542.61 611.78,539.90 611.93,537.05 612.09,534.06 612.25,530.93 612.40,527.68 612.56,524.31 612.71,520.83 612.87,517.24 613.02,513.55 613.18,509.78 613.33,505.91 613.49,501.98 613.64,497.97 613.80,493.90 613.95,489.78 614.11,485.61 614.26,481.41 614.42,477.19 614.57,472.94 614.73,468.68 614.88,464.42 615.04,460.16 615.19,455.92 615.35,451.70 615.50,447.52 615.66,443.37 615.82,439.27 615.97,435.23 616.13,431.25 616.28,427.34 616.44,423.51 616.59,419.77 616.75,416.13 616.90,412.58 617.06,409.15 617.21,405.83 617.37,402.63 617.52,399.56 617.68,396.63 617.83,393.84 617.99,391.19 618.14,388.69 618.30,386.35 618.45,384.17 618.61,382.16 618.76,380.32 618.92,378.65 619.07,377.15 619.23,375.84 619.39,374.70 619.54,373.75 619.70,372.99 619.85,372.41 620.01,372.02 620.16,371.83 620.32,371.82 620.47,372.00 620.63,372.37 620.78,372.93 620.94,373.68 621.09,374.61 621.25,375.73 621.40,377.03 621.56,378.51 621.71,380.16 621.87,381.99 622.02,383.99 622.18,386.15 622.33,388.48 622.49,390.96 622.64,393.59 622.80,396.37 622.95,399.30 623.11,402.35 623.27,405.54 623.42,408.85 623.58,412.27 623.73,415.81 623.89,419.44 624.04,423.18 624.20,427.00 624.35,430.90 624.51,434.87 624.66,438.91 624.82,443.00 624.97,447.15 625.13,451.33 625.28,455.54 625.44,459.78 625.59,464.04 625.75,468.30 625.90,472.56 626.06,476.81 626.21,481.04 626.37,485.24 626.52,489.41 626.68,493.53 626.84,497.61 626.99,501.62 627.15,505.57 627.30,509.43 627.46,513.22 627.61,516.92 627.77,520.51 627.92,524.01 628.08,527.39 628.23,530.65 628.39,533.78 628.54,536.79 628.70,539.65 628.85,542.37 629.01,544.95 629.16,547.37 629.32,549.63 629.47,551.73 629.63,553.66 629.78,555.42 629.94,557.01 630.09,558.41 630.25,559.64 630.41,560.68 630.56,561.54 630.72,562.22 630.87,562.70 631.03,563.00 631.18,563.10 631.34,563.02 631.49,562.74 631.65,562.28 631.80,561.63 631.96,560.79 632.11,559.77 632.27,558.56 632.42,557.17 632.58,555.61 632.73,553.87 632.89,551.96 633.04,549.88 633.20,547.63 633.35,545.23 633.51,542.67 633.66,539.97 633.82,537.12 633.98,534.13 634.13,531.01 634.29,527.76 634.44,524.40 634.60,520.92 634.75,517.33 634.91,513.65 635.06,509.87 635.22,506.01 635.37,502.07 635.53,498.07 635.68,494.00 635.84,489.88 635.99,485.72 636.15,481.52 636.30,477.29 636.46,473.04 636.61,468.78 636.77,464.52 636.92,460.27 637.08,456.03 637.23,451.81 637.39,447.62 637.55,443.47 637.70,439.37 637.86,435.33 638.01,431.35 638.17,427.44 638.32,423.61 638.48,419.87 638.63,416.22 638.79,412.67 638.94,409.23 639.10,405.91 639.25,402.71 639.41,399.64 639.56,396.70 639.72,393.90 639.87,391.25 640.03,388.75 640.18,386.41 640.34,384.23 640.49,382.21 640.65,380.36 640.80,378.69 640.96,377.19 641.12,375.87 641.27,374.73 641.43,373.77 641.58,373.00 641.74,372.42 641.89,372.03 642.05,371.83 642.20,371.82 642.36,371.99 642.51,372.36 642.67,372.91 642.82,373.66 642.98,374.58 643.13,375.70 643.29,376.99 643.44,378.47 643.60,380.12 643.75,381.94 643.91,383.94 644.06,386.10 644.22,388.42 644.37,390.90 644.53,393.53 644.68,396.30 644.84,399.22 645.00,402.27 645.15,405.46 645.31,408.76 645.46,412.19 645.62,415.72 645.77,419.35 645.93,423.08 646.08,426.90 646.24,430.80 646.39,434.77 646.55,438.81 646.70,442.90 646.86,447.04 647.01,451.23 647.17,455.44 647.32,459.68 647.48,463.93 647.63,468.19 647.79,472.45 647.94,476.70 648.10,480.93 648.25,485.14 648.41,489.31 648.57,493.43 648.72,497.51 648.88,501.52 649.03,505.47 649.19,509.34 649.34,513.13 649.50,516.83 649.65,520.43 649.81,523.92 649.96,527.30 650.12,530.57 650.27,533.71 650.43,536.71 650.58,539.58 650.74,542.31 650.89,544.89 651.05,547.31 651.20,549.58 651.36,551.68 651.51,553.61 651.67,555.38 651.82,556.97 651.98,558.38 652.14,559.61 652.29,560.66 652.45,561.52 652.60,562.20 652.76,562.69 652.91,562.99 653.07,563.10 653.22,563.02 653.38,562.75 653.53,562.29 653.69,561.65 653.84,560.81 654.00,559.80 654.15,558.59 654.31,557.21 654.46,555.65 654.62,553.91 654.77,552.01 654.93,549.93 655.08,547.69 655.24,545.29 655.39,542.74 655.55,540.04 655.71,537.19 655.86,534.21 656.02,531.09 656.17,527.85 656.33,524.48 656.48,521.00 656.64,517.42 656.79,513.74 656.95,509.97 657.10,506.11 657.26,502.17 657.41,498.17 657.57,494.10 657.72,489.98 657.88,485.82 658.03,481.62 658.19,477.40 658.34,473.15 658.50,468.89 658.65,464.63 658.81,460.37 658.96,456.13 659.12,451.91 659.28,447.72 659.43,443.58 659.59,439.47 659.74,435.43 659.90,431.44 660.05,427.53 660.21,423.70 660.36,419.96 660.52,416.31 660.67,412.76 660.83,409.32 660.98,405.99 661.14,402.79 661.29,399.71 661.45,396.77 661.60,393.97 661.76,391.32 661.91,388.81 662.07,386.47 662.22,384.28 662.38,382.26 662.53,380.40 662.69,378.72 662.84,377.22 663.00,375.90 663.16,374.75 663.31,373.79 663.47,373.02 663.62,372.44 663.78,372.04 663.93,371.83 664.09,371.81 664.24,371.99 664.40,372.35 664.55,372.90 664.71,373.63 664.86,374.56 665.02,375.67 665.17,376.96 665.33,378.43 665.48,380.07 665.64,381.90 665.79,383.89 665.95,386.04 666.10,388.36 666.26,390.83 666.41,393.46 666.57,396.23 666.73,399.15 666.88,402.20 667.04,405.38 667.19,408.68 667.35,412.10 667.50,415.63 667.66,419.26 667.81,422.99 667.97,426.81 668.12,430.70 668.28,434.67 668.43,438.71 668.59,442.80 668.74,446.94 668.90,451.12 669.05,455.34 669.21,459.57 669.36,463.83 669.52,468.09 669.67,472.35 669.83,476.60 669.98,480.83 670.14,485.03 670.30,489.20 670.45,493.33 670.61,497.41 670.76,501.42 670.92,505.37 671.07,509.25 671.23,513.04 671.38,516.74 671.54,520.34 671.69,523.84 671.85,527.22 672.00,530.49 672.16,533.63 672.31,536.64 672.47,539.51 672.62,542.24 672.78,544.82 672.93,547.25 673.09,549.52 673.24,551.63 673.40,553.57 673.55,555.34 673.71,556.93 673.87,558.35 674.02,559.58 674.18,560.64 674.33,561.51 674.49,562.19 674.64,562.68 674.80,562.99 674.95,563.10 675.11,563.03 675.26,562.76 675.42,562.31 675.57,561.67 675.73,560.84 675.88,559.82 676.04,558.63 676.19,557.25 676.35,555.69 676.50,553.96 676.66,552.06 676.81,549.98 676.97,547.75 677.12,545.35 677.28,542.80 677.44,540.11 677.59,537.26 677.75,534.28 677.90,531.17 678.06,527.93 678.21,524.57 678.37,521.09 678.52,517.51 678.68,513.83 678.83,510.06 678.99,506.20 679.14,502.27 679.30,498.27 679.45,494.20 679.61,490.09 679.76,485.93 679.92,481.73 680.07,477.50 680.23,473.25 680.38,469.00 680.54,464.73 680.69,460.48 680.85,456.24 681.00,452.02 681.16,447.83 681.32,443.68 681.47,439.57 681.63,435.53 681.78,431.54 681.94,427.63 682.09,423.80 682.25,420.05 682.40,416.39 682.56,412.84 682.71,409.40 682.87,406.07 683.02,402.86 683.18,399.79 683.33,396.84 683.49,394.04 683.64,391.38 683.80,388.87 683.95,386.52 684.11,384.33 684.26,382.30 684.42,380.45 684.57,378.76 684.73,377.26 684.89,375.93 685.04,374.78 685.20,373.82 685.35,373.04 685.51,372.45 685.66,372.05 685.82,371.83 685.97,371.81 686.13,371.98 686.28,372.34 686.44,372.88 686.59,373.61 686.75,374.53 686.90,375.64 687.06,376.92 687.21,378.39 687.37,380.03 687.52,381.85 687.68,383.83 687.83,385.99 687.99,388.30 688.14,390.77 688.30,393.39" fill="none" stroke="#000" stroke-width="2.6" stroke-linejoin="round" stroke-linecap="round"/>
<ellipse cx="1100.05" cy="152.6" rx="82.25" ry="83.98" fill="none" stroke="#000" stroke-width="2.5"/>
<polyline points="796.90,451.00 797.00,450.09 797.10,449.15 797.20,448.23 797.30,447.40 797.40,446.71 797.50,446.22 797.60,446.00 797.90,445.82 798.40,445.59 798.90,445.45 799.40,445.36 799.90,445.31 800.00,445.30 800.40,445.27 800.90,445.24 801.40,445.22 801.90,445.20 802.40,445.19 802.90,445.17 803.40,445.16 803.90,445.14 804.40,445.13 804.90,445.11 805.00,445.10 805.40,445.08 805.90,445.05 806.40,445.02 806.90,444.99 807.40,444.95 807.90,444.92 808.40,444.88 808.90,444.84 809.40,444.80 809.90,444.76 810.40,444.72 810.90,444.68 811.40,444.63 811.90,444.59 812.40,444.54 812.90,444.50 813.40,444.45 813.90,444.41 814.00,444.40 814.40,444.36 814.90,444.32 815.40,444.27 815.90,444.22 816.40,444.18 816.90,444.13 817.40,444.08 817.90,444.03 818.40,443.98 818.90,443.93 819.40,443.87 819.90,443.82 820.40,443.77 820.90,443.71 821.40,443.66 821.90,443.60 822.40,443.54 822.90,443.48 823.40,443.42 823.90,443.36 824.40,443.30 824.90,443.24 825.40,443.17 825.90,443.11 826.40,443.04 826.70,443.00 826.90,442.97 827.40,442.90 827.90,442.83 828.40,442.76 828.90,442.69 829.40,442.61 829.90,442.54 830.40,442.46 830.90,442.38 831.40,442.30 831.90,442.22 832.40,442.13 832.90,442.05 833.40,441.96 833.90,441.86 834.40,441.77 834.90,441.67 835.40,441.57 835.90,441.47 836.40,441.36 836.90,441.25 837.40,441.14 837.90,441.02 838.00,441.00 838.40,440.90 838.90,440.77 839.40,440.63 839.90,440.48 840.40,440.32 840.90,440.16 841.40,439.99 841.90,439.82 842.40,439.64 842.90,439.45 843.40,439.26 843.90,439.07 844.40,438.88 844.90,438.69 845.40,438.49 845.90,438.30 846.40,438.10 846.90,437.91 847.40,437.72 847.90,437.54 848.00,437.50 848.40,437.35 848.90,437.17 849.40,436.99 849.90,436.80 850.40,436.62 850.90,436.43 851.40,436.24 851.90,436.05 852.40,435.86 852.90,435.66 853.40,435.46 853.90,435.26 854.40,435.05 854.90,434.84 855.00,434.80 855.40,434.63 855.90,434.41 856.40,434.19 856.90,433.97 857.40,433.74 857.90,433.50 858.40,433.25 858.90,433.00 859.40,432.73 859.90,432.46 860.00,432.40 860.40,432.16 860.90,431.85 861.40,431.51 861.90,431.16 862.40,430.80 862.90,430.43 863.20,430.20 863.40,430.05 863.90,429.67 864.40,429.28 864.90,428.88 865.40,428.47 865.90,428.06 866.40,427.63 866.90,427.19 867.40,426.74 867.90,426.27 868.40,425.80 868.60,425.60 868.90,425.30 869.40,424.79 869.90,424.27 870.40,423.72 870.90,423.15 871.40,422.56 871.90,421.94 872.40,421.30 872.70,420.90 872.90,420.63 873.40,419.94 873.90,419.22 874.40,418.47 874.90,417.65 875.40,416.77 875.90,415.81 876.10,415.40 876.40,414.75 876.90,413.57 877.40,412.23 877.90,410.71 878.40,408.97 878.50,408.60 878.69,407.85 878.87,407.01 878.90,406.87 879.06,406.09 879.24,405.10 879.40,404.21 879.43,404.05 879.61,402.94 879.80,401.80 879.90,401.19 879.93,401.01 880.06,400.23 880.19,399.42 880.31,398.53 880.40,397.87 880.44,397.52 880.57,396.36 880.70,395.00 880.77,394.15 880.84,393.19 880.90,392.31 880.91,392.07 880.99,390.74 881.06,389.16 881.13,387.26 881.20,385.00 881.23,383.66 881.26,381.72 881.29,379.39 881.31,376.86 881.34,374.32 881.37,371.97 881.40,370.00 881.43,368.25 881.46,366.48 881.49,364.76 881.51,363.18 881.54,361.81 881.57,360.72 881.60,360.00 881.66,359.05 881.71,358.24 881.77,357.56 881.83,357.01 881.89,356.58 881.90,356.48 881.94,356.24 882.00,356.00 882.09,355.71 882.17,355.46 882.26,355.23 882.34,355.05 882.40,354.96 882.43,354.92 882.51,354.83 882.60,354.80 882.69,354.83 882.77,354.92 882.86,355.07 882.90,355.16 882.94,355.25 883.03,355.48 883.11,355.73 883.20,356.00 883.27,356.27 883.34,356.63 883.40,356.99 883.41,357.09 883.49,357.65 883.56,358.31 883.63,359.09 883.70,360.00 883.74,360.73 883.79,361.75 883.83,363.02 883.87,364.50 883.90,365.60 883.91,366.18 883.96,368.03 884.00,370.00 884.03,371.69 884.06,373.89 884.09,376.40 884.11,378.98 884.14,381.42 884.17,383.50 884.20,385.00 884.26,387.13 884.31,388.98 884.37,390.60 884.40,391.31 884.43,391.98 884.49,393.16 884.54,394.16 884.60,395.00 884.71,396.41 884.83,397.62 884.90,398.28 884.94,398.65 885.06,399.54 885.17,400.34 885.29,401.08 885.40,401.80 885.60,403.01 885.80,404.11 885.90,404.63 886.00,405.12 886.20,406.06 886.40,406.94 886.60,407.78 886.80,408.60 886.90,409.00 887.40,410.92 887.90,412.67 888.40,414.26 888.80,415.40 888.90,415.67 889.40,416.97 889.90,418.20 890.40,419.35 890.90,420.40 891.40,421.35 891.90,422.20 892.40,422.96 892.90,423.65 893.40,424.29 893.90,424.89 894.40,425.46 894.90,426.00 895.40,426.54 895.90,427.07 896.30,427.50 896.40,427.61 896.90,428.15 897.40,428.67 897.90,429.18 898.40,429.68 898.90,430.17 899.40,430.65 899.90,431.11 900.00,431.20 900.40,431.56 900.90,431.99 901.40,432.42 901.90,432.83 902.40,433.24 902.90,433.64 903.40,434.03 903.90,434.42 904.00,434.50 904.40,434.81 904.90,435.19 905.40,435.57 905.90,435.94 906.40,436.31 906.90,436.68 907.40,437.04 907.90,437.40 908.40,437.76 908.60,437.90 908.90,438.12 909.40,438.48 909.90,438.83 910.40,439.17 910.60,439.30 910.90,439.49 911.40,439.80 911.90,440.10 912.40,440.40 912.90,440.70 913.40,440.99 913.90,441.27 914.40,441.56 914.90,441.83 915.40,442.11 915.90,442.38 916.40,442.65 916.90,442.91 917.40,443.18 917.90,443.44 918.40,443.69 918.90,443.95 919.40,444.20 919.90,444.45 920.40,444.70 920.90,444.95 921.20,445.10 921.40,445.20 921.90,445.45 922.40,445.69 922.90,445.94 923.40,446.18 923.90,446.42 924.40,446.66 924.90,446.90 925.40,447.14 925.90,447.37 926.40,447.60 926.90,447.83 927.40,448.06 927.90,448.28 928.40,448.50 928.90,448.72 929.40,448.93 929.90,449.14 930.40,449.35 930.90,449.55 931.40,449.75 931.80,449.90 931.90,449.94 932.40,450.13 932.90,450.32 933.40,450.50 933.90,450.68 934.40,450.86 934.90,451.04 935.40,451.21 935.90,451.38 936.40,451.55 936.90,451.72 937.40,451.88 937.90,452.04 938.40,452.21 938.90,452.36 939.40,452.52 939.90,452.68 940.40,452.83 940.90,452.98 941.40,453.13 941.90,453.28 942.30,453.40 942.40,453.43 942.90,453.58 943.40,453.72 943.90,453.87 944.40,454.01 944.90,454.15 945.40,454.29 945.90,454.43 946.40,454.57 946.90,454.70 947.40,454.84 947.90,454.97 948.40,455.10 948.90,455.23 949.40,455.36 949.90,455.48 950.40,455.61 950.90,455.73 951.40,455.85 951.90,455.97 952.40,456.09 952.90,456.20 953.40,456.31 953.90,456.42 954.40,456.53 954.90,456.64 955.40,456.75 955.90,456.85 956.40,456.96 956.90,457.06 957.40,457.16 957.90,457.26 958.40,457.36 958.90,457.46 959.40,457.56 959.90,457.65 960.40,457.75 960.90,457.84 961.40,457.93 961.90,458.02 962.40,458.11 962.90,458.20 963.40,458.28 963.50,458.30 963.90,458.37 964.40,458.45 964.90,458.54 965.40,458.62 965.90,458.70 966.40,458.78 966.90,458.86 967.40,458.93 967.90,459.01 968.40,459.09 968.90,459.16 969.40,459.24 969.90,459.31 970.40,459.38 970.90,459.46 971.40,459.53 971.90,459.60 972.40,459.67 972.90,459.74 973.40,459.80 973.90,459.87 974.10,459.90 974.40,459.94 974.90,460.01 975.40,460.07 975.90,460.14 976.40,460.20 976.90,460.27 977.40,460.33 977.90,460.39 978.40,460.46 978.90,460.52 979.40,460.58 979.90,460.64 980.40,460.70 980.90,460.76 981.40,460.82 981.90,460.88 982.40,460.94 982.90,461.00 983.40,461.05 983.90,461.11 984.40,461.17 984.70,461.20 984.90,461.22 985.40,461.28 985.90,461.34 986.40,461.40 986.90,461.46 987.40,461.52 987.90,461.59 988.40,461.65 988.90,461.71 989.40,461.77 989.90,461.83 990.40,461.89 990.90,461.94 991.40,462.00 991.90,462.05 992.40,462.09 992.90,462.14 993.40,462.18 993.90,462.22 994.40,462.25 994.90,462.28 995.30,462.30 995.40,462.30 995.90,462.33 996.40,462.35 996.90,462.37 997.40,462.39 997.90,462.41 998.40,462.43 998.90,462.45 999.40,462.47 999.90,462.49 1000.40,462.50 1000.90,462.52 1001.40,462.53 1001.90,462.55 1002.40,462.56 1002.90,462.57 1003.40,462.58 1003.90,462.59 1004.40,462.59 1004.90,462.60 1005.40,462.60 1005.90,462.60 1006.40,462.60 1006.90,462.60 1007.40,462.59 1007.90,462.59 1008.40,462.58 1008.90,462.57 1009.40,462.56 1009.90,462.55 1010.40,462.53 1010.90,462.52 1011.40,462.50 1011.90,462.49 1012.40,462.47 1012.90,462.45 1013.40,462.43 1013.90,462.41 1014.40,462.39 1014.90,462.37 1015.40,462.35 1015.90,462.32 1016.40,462.30 1016.90,462.27 1017.40,462.25 1017.90,462.21 1018.40,462.18 1018.90,462.13 1019.40,462.09 1019.90,462.04 1020.40,461.99 1020.90,461.93 1021.40,461.87 1021.90,461.81 1022.40,461.75 1022.90,461.68 1023.40,461.60 1023.90,461.53 1024.40,461.45 1024.90,461.37 1025.40,461.29 1025.90,461.20 1026.40,461.11 1026.90,461.02 1027.00,461.00 1027.40,460.92 1027.90,460.81 1028.40,460.69 1028.90,460.55 1029.40,460.41 1029.90,460.25 1030.40,460.09 1030.90,459.91 1031.40,459.72 1031.90,459.53 1032.40,459.32 1032.90,459.11 1033.40,458.89 1033.90,458.66 1034.40,458.43 1034.90,458.19 1035.40,457.94 1035.90,457.69 1036.40,457.43 1036.90,457.17 1037.40,456.91 1037.60,456.80 1037.90,456.63 1038.40,456.34 1038.90,456.03 1039.40,455.69 1039.90,455.34 1040.40,454.97 1040.90,454.58 1041.40,454.17 1041.90,453.75 1042.40,453.31 1042.90,452.86 1043.40,452.39 1043.50,452.30 1043.90,451.92 1044.40,451.42 1044.90,450.90 1045.40,450.35 1045.90,449.76 1046.40,449.11 1046.90,448.42 1047.40,447.66 1047.50,447.50 1047.90,446.81 1048.40,445.82 1048.90,444.68 1049.40,443.37 1049.60,442.80 1049.80,442.18 1049.90,441.84 1050.00,441.49 1050.20,440.74 1050.40,439.93 1050.40,439.93 1050.60,439.06 1050.80,438.15 1050.90,437.68 1051.00,437.20 1051.20,436.22 1051.40,435.22 1051.60,434.15 1051.80,432.98 1051.90,432.35 1052.00,431.68 1052.20,430.19 1052.40,428.50 1052.53,427.22 1052.66,425.72 1052.79,424.00 1052.90,422.28 1052.91,422.06 1053.04,419.91 1053.17,417.56 1053.30,415.00 1053.37,413.39 1053.40,412.68 1053.44,411.54 1053.51,409.49 1053.59,407.27 1053.66,404.92 1053.73,402.49 1053.80,400.00 1053.83,398.88 1053.86,397.57 1053.89,396.19 1053.90,395.51 1053.91,394.84 1053.94,393.63 1053.97,392.64 1054.00,392.00 1054.04,391.38 1054.09,390.84 1054.13,390.37 1054.17,389.99 1054.21,389.68 1054.26,389.45 1054.30,389.30 1054.37,389.13 1054.40,389.06 1054.44,388.97 1054.51,388.84 1054.59,388.74 1054.66,388.66 1054.73,388.62 1054.80,388.60 1054.87,388.62 1054.90,388.63 1054.94,388.66 1055.01,388.74 1055.09,388.84 1055.16,388.97 1055.23,389.13 1055.30,389.30 1055.34,389.46 1055.39,389.71 1055.40,389.82 1055.43,390.05 1055.47,390.45 1055.51,390.92 1055.56,391.44 1055.60,392.00 1055.64,392.70 1055.69,393.61 1055.73,394.71 1055.77,395.93 1055.81,397.25 1055.86,398.62 1055.90,400.00 1055.94,401.48 1055.99,403.15 1056.03,404.93 1056.07,406.77 1056.11,408.60 1056.16,410.37 1056.20,412.00 1056.26,414.12 1056.31,416.29 1056.37,418.43 1056.40,419.47 1056.43,420.46 1056.49,422.29 1056.54,423.83 1056.60,425.00 1056.71,426.74 1056.83,428.20 1056.90,428.99 1056.94,429.43 1057.06,430.49 1057.17,431.45 1057.29,432.37 1057.40,433.30 1057.57,434.71 1057.74,436.06 1057.90,437.23 1057.91,437.33 1058.09,438.53 1058.26,439.64 1058.40,440.50 1058.43,440.67 1058.60,441.60 1058.90,443.09 1059.40,445.32 1059.90,447.27 1060.40,448.98 1060.70,449.90 1060.90,450.48 1061.40,451.83 1061.90,453.06 1062.40,454.19 1062.90,455.23 1063.40,456.22 1063.60,456.60 1063.90,457.16 1064.40,458.05 1064.90,458.90 1065.40,459.71 1065.90,460.49 1066.40,461.24 1066.90,461.96 1067.40,462.65 1067.80,463.20 1067.90,463.34 1068.40,464.00 1068.90,464.65 1069.40,465.28 1069.90,465.90 1070.40,466.50 1070.90,467.08 1071.40,467.64 1071.90,468.18 1072.40,468.70 1072.80,469.10 1072.90,469.20 1073.40,469.68 1073.90,470.16 1074.40,470.62 1074.90,471.07 1075.40,471.50 1075.90,471.92 1076.40,472.34 1076.90,472.73 1077.40,473.12 1077.90,473.50 1078.40,473.86 1078.60,474.00 1078.90,474.21 1079.40,474.54 1079.90,474.86 1080.40,475.17 1080.90,475.47 1081.40,475.76 1081.90,476.04 1082.00,476.10 1082.40,476.33 1082.90,476.61 1083.40,476.88 1083.90,477.16 1084.40,477.43 1084.90,477.70 1085.40,477.97 1085.90,478.23 1086.40,478.50 1086.90,478.75 1087.40,479.00 1087.90,479.25 1088.40,479.50 1088.90,479.73 1089.40,479.97 1089.90,480.19 1090.40,480.42 1090.90,480.63 1091.30,480.80 1091.40,480.84 1091.90,481.05 1092.40,481.25 1092.90,481.45 1093.40,481.65 1093.90,481.85 1094.40,482.05 1094.90,482.24 1095.40,482.43 1095.90,482.62 1096.40,482.80 1096.90,482.98 1097.40,483.16 1097.90,483.34 1098.40,483.51 1098.90,483.68 1099.40,483.84 1099.90,484.00 1100.40,484.16 1100.90,484.31 1101.40,484.45 1101.90,484.60 1102.40,484.74 1102.90,484.87 1103.40,485.00 1103.90,485.13 1104.40,485.25 1104.90,485.37 1105.40,485.48 1105.90,485.60 1106.40,485.71 1106.90,485.82 1107.40,485.92 1107.90,486.03 1108.40,486.13 1108.90,486.23 1109.40,486.32 1109.90,486.42 1110.40,486.52 1110.90,486.61 1111.40,486.70 1111.90,486.79 1112.40,486.88 1112.90,486.97 1113.40,487.06 1113.90,487.14 1114.40,487.23 1114.90,487.31 1115.40,487.40 1115.90,487.49 1116.40,487.57 1116.90,487.65 1117.40,487.74 1117.90,487.82 1118.40,487.90 1118.90,487.98 1119.40,488.06 1119.90,488.14 1120.40,488.22 1120.90,488.29 1121.40,488.37 1121.90,488.45 1122.40,488.52 1122.90,488.59 1123.40,488.66 1123.90,488.73 1124.40,488.80 1124.90,488.87 1125.40,488.94 1125.90,489.00 1126.40,489.07 1126.90,489.13 1127.40,489.19 1127.50,489.20 1127.90,489.25 1128.40,489.30 1128.90,489.36 1129.40,489.42 1129.90,489.47 1130.40,489.52 1130.90,489.57 1131.40,489.62 1131.90,489.67 1132.40,489.72 1132.90,489.77 1133.40,489.82 1133.90,489.86 1134.40,489.91 1134.90,489.96 1135.40,490.00 1135.90,490.05 1136.40,490.09 1136.90,490.14 1137.40,490.19 1137.90,490.24 1138.40,490.28 1138.90,490.33 1139.40,490.38 1139.60,490.40 1139.90,490.43 1140.40,490.48 1140.90,490.53 1141.40,490.58 1141.90,490.63 1142.40,490.68 1142.90,490.72 1143.40,490.77 1143.90,490.82 1144.40,490.87 1144.90,490.92 1145.40,490.97 1145.90,491.02 1146.40,491.07 1146.90,491.12 1147.40,491.17 1147.90,491.22 1148.40,491.27 1148.90,491.32 1149.40,491.37 1149.90,491.42 1150.40,491.47 1150.90,491.52 1151.40,491.57 1151.70,491.60 1151.90,491.62 1152.40,491.67 1152.90,491.72 1153.40,491.77 1153.90,491.82 1154.40,491.87 1154.90,491.93 1155.40,491.98 1155.90,492.03 1156.40,492.08 1156.90,492.13 1157.40,492.18 1157.90,492.23 1158.40,492.29 1158.90,492.34 1159.40,492.39 1159.90,492.45 1160.40,492.50 1160.90,492.56 1161.40,492.61 1161.90,492.67 1162.40,492.73 1162.90,492.79 1163.40,492.85 1163.80,492.90 1163.90,492.91 1164.40,492.97 1164.90,493.04 1165.40,493.10 1165.90,493.16 1166.40,493.23 1166.90,493.29 1167.40,493.36 1167.90,493.42 1168.40,493.49 1168.90,493.56 1169.40,493.63 1169.90,493.70 1170.40,493.77 1170.90,493.84 1171.40,493.92 1171.90,493.99 1172.40,494.07 1172.90,494.16 1173.40,494.24 1173.90,494.33 1174.40,494.42 1174.90,494.51 1175.40,494.60 1175.90,494.70 1176.40,494.80 1176.90,494.91 1177.40,495.02 1177.90,495.14 1178.40,495.26 1178.90,495.39 1179.40,495.52 1179.90,495.66 1180.40,495.80 1180.90,495.95 1181.40,496.09 1181.90,496.24 1182.40,496.40 1182.90,496.56 1183.40,496.72 1183.90,496.88 1184.40,497.05 1184.90,497.22 1185.40,497.39 1185.90,497.56 1186.40,497.73 1186.90,497.91 1187.40,498.09 1187.90,498.26 1188.00,498.30 1188.40,498.44 1188.90,498.62 1189.40,498.80 1189.90,498.98 1190.40,499.16 1190.90,499.35 1191.40,499.54 1191.90,499.73 1192.40,499.93 1192.90,500.14 1193.40,500.35 1193.90,500.57 1194.40,500.80 1194.90,501.03 1195.40,501.28 1195.90,501.54 1196.40,501.80 1196.90,502.09 1197.40,502.38 1197.60,502.50 1197.90,502.69 1198.40,503.03 1198.90,503.40 1199.40,503.80 1199.90,504.23 1200.40,504.69 1200.90,505.17 1201.40,505.69 1201.90,506.22 1202.40,506.78 1202.50,506.90 1202.90,507.38 1203.40,508.04 1203.90,508.75 1204.40,509.54 1204.90,510.39 1205.40,511.31 1205.50,511.50 1205.90,512.33 1206.40,513.52 1206.90,514.83 1207.40,516.23 1207.90,517.70 1208.00,518.00 1208.23,518.72 1208.40,519.30 1208.46,519.50 1208.69,520.32 1208.90,521.10 1208.91,521.16 1209.14,521.98 1209.37,522.77 1209.40,522.86 1209.60,523.50 1209.73,523.93 1209.86,524.39 1209.90,524.55 1209.99,524.87 1210.11,525.30 1210.24,525.66 1210.37,525.91 1210.40,525.94 1210.50,526.00 1210.64,525.86 1210.79,525.47 1210.90,525.02 1210.93,524.89 1211.07,524.20 1211.21,523.44 1211.36,522.69 1211.40,522.47 1211.50,522.00 1211.90,520.10 1212.40,517.47 1212.90,514.71 1213.40,512.00 1213.90,509.50 1214.40,507.22 1214.90,505.04 1215.40,502.94 1215.90,500.89 1216.40,498.87 1216.90,496.85 1217.40,494.82 1217.60,494.00 1217.90,492.77 1218.40,490.74 1218.90,488.72 1219.40,486.72 1219.90,484.71 1220.40,482.67 1220.90,480.61 1221.40,478.50 1221.90,476.41 1222.40,474.37 1222.90,472.28 1223.40,470.05 1223.90,467.61 1224.20,466.00 1224.36,465.18 1224.40,464.97 1224.51,464.42 1224.67,463.63 1224.83,462.72 1224.90,462.25 1224.99,461.63 1225.14,460.24 1225.30,458.50 1225.34,457.94 1225.39,457.26 1225.40,457.00 1225.43,456.42 1225.47,455.34 1225.51,453.95 1225.56,452.19 1225.60,450.00 1225.61,448.45 1225.63,445.71 1225.64,442.23 1225.66,438.48 1225.67,434.88 1225.69,431.91 1225.70,430.00 1225.73,427.70 1225.76,425.70 1225.79,423.99 1225.81,422.57 1225.84,421.43 1225.87,420.58 1225.90,420.00 1225.97,418.99 1226.04,418.14 1226.11,417.44 1226.19,416.89 1226.26,416.48 1226.33,416.18 1226.40,416.00 1226.49,415.85 1226.57,415.72 1226.66,415.61 1226.74,415.52 1226.83,415.46 1226.90,415.42 1226.91,415.41 1227.00,415.40 1227.09,415.41 1227.17,415.45 1227.26,415.52 1227.34,415.60 1227.40,415.67 1227.43,415.71 1227.51,415.85 1227.60,416.00 1227.66,416.19 1227.71,416.51 1227.77,416.98 1227.83,417.57 1227.89,418.28 1227.90,418.47 1227.94,419.09 1228.00,420.00 1228.04,421.04 1228.09,422.61 1228.13,424.56 1228.17,426.73 1228.21,428.97 1228.26,431.11 1228.30,433.00 1228.34,434.73 1228.39,436.48 1228.40,437.06 1228.43,438.21 1228.47,439.87 1228.51,441.44 1228.56,442.86 1228.60,444.10 1228.66,445.55 1228.71,446.88 1228.77,448.11 1228.83,449.24 1228.89,450.29 1228.90,450.54 1228.94,451.27 1229.00,452.20 1229.07,453.30 1229.14,454.33 1229.21,455.30 1229.29,456.21 1229.36,457.06 1229.40,457.55 1229.43,457.86 1229.50,458.60 1229.57,459.29 1229.64,459.95 1229.71,460.57 1229.79,461.15 1229.86,461.70 1229.90,462.01 1229.93,462.21 1230.00,462.70 1230.11,463.43 1230.23,464.12 1230.34,464.77 1230.40,465.08 1230.46,465.38 1230.57,465.96 1230.69,466.50 1230.80,467.00 1230.90,467.42 1230.90,467.42 1231.00,467.81 1231.10,468.18 1231.20,468.53 1231.30,468.87 1231.40,469.19 1231.50,469.50 1231.64,469.93 1231.79,470.33 1231.90,470.65 1231.93,470.73 1232.07,471.10 1232.21,471.45 1232.36,471.79 1232.40,471.88 1232.50,472.10 1232.64,472.40 1232.79,472.68 1232.90,472.89 1232.93,472.94 1233.07,473.20 1233.21,473.44 1233.36,473.67 1233.40,473.74 1233.50,473.90 1233.66,474.14 1233.81,474.37 1233.90,474.50 1233.97,474.60 1234.13,474.81 1234.29,475.02 1234.40,475.16 1234.44,475.21 1234.60,475.40 1234.80,475.63 1234.90,475.74 1235.00,475.84 1235.20,476.05 1235.40,476.25 1235.40,476.25 1235.60,476.44 1235.80,476.62 1235.90,476.71 1236.00,476.80 1236.40,477.13 1236.90,477.52 1237.40,477.89 1237.90,478.23 1238.00,478.30 1238.40,478.57 1238.90,478.88 1239.40,479.19 1239.90,479.48 1240.30,479.70 1240.40,479.75 1240.90,480.01 1241.40,480.26 1241.90,480.50 1242.40,480.73 1242.90,480.96 1243.00,481.00 1243.40,481.17 1243.90,481.37 1244.40,481.57 1244.90,481.76 1245.00,481.80 1245.40,481.95 1245.90,482.14 1246.40,482.33 1246.90,482.51 1247.40,482.69 1247.90,482.87 1248.40,483.05 1248.90,483.22 1249.40,483.38 1249.90,483.54 1250.40,483.70 1250.90,483.85 1251.40,484.00 1251.90,484.15 1252.40,484.30 1252.90,484.45 1253.40,484.60 1253.90,484.74 1254.40,484.88 1254.90,485.03 1255.40,485.17 1255.90,485.30 1256.40,485.44 1256.90,485.57 1257.40,485.70 1257.90,485.83 1258.40,485.96 1258.90,486.08 1259.40,486.20 1259.90,486.32 1260.40,486.44 1260.90,486.55 1261.40,486.66 1261.90,486.76 1262.40,486.86 1262.90,486.96 1263.10,487.00 1263.40,487.06 1263.90,487.15 1264.40,487.24 1264.90,487.33 1265.40,487.42 1265.90,487.50 1266.40,487.58 1266.90,487.67 1267.40,487.75 1267.90,487.82 1268.40,487.90 1268.90,487.98 1269.40,488.05 1269.90,488.12 1270.40,488.20 1270.90,488.27 1271.40,488.33 1271.90,488.40 1272.40,488.47 1272.90,488.54 1273.40,488.60 1273.90,488.66 1274.40,488.73 1274.90,488.79 1275.40,488.85 1275.80,488.90 1275.90,488.91 1276.40,488.97 1276.90,489.03 1277.40,489.09 1277.90,489.15 1278.40,489.20 1278.90,489.26 1279.40,489.31 1279.90,489.37 1280.40,489.42 1280.90,489.47 1281.40,489.53 1281.90,489.58 1282.40,489.63 1282.90,489.68 1283.40,489.73 1283.90,489.77 1284.40,489.82 1284.90,489.87 1285.40,489.92 1285.90,489.96 1286.40,490.01 1286.90,490.06 1287.40,490.10 1287.90,490.15 1288.40,490.19 1288.50,490.20 1288.90,490.24 1289.40,490.28 1289.90,490.32 1290.40,490.36 1290.90,490.41 1291.40,490.45 1291.90,490.49 1292.40,490.53 1292.90,490.57 1293.40,490.61 1293.90,490.65 1294.40,490.69 1294.90,490.73 1295.40,490.77 1295.90,490.80 1296.40,490.84 1296.90,490.88 1297.40,490.92 1297.90,490.95 1298.40,490.99 1298.90,491.03 1299.40,491.07 1299.90,491.10 1300.40,491.14 1300.90,491.18 1301.20,491.20 1301.40,491.21 1301.90,491.25 1302.40,491.29 1302.90,491.33 1303.40,491.37 1303.90,491.40 1304.40,491.44 1304.90,491.48 1305.40,491.52 1305.90,491.56 1306.40,491.59 1306.90,491.63 1307.40,491.67 1307.90,491.70 1308.40,491.74 1308.90,491.78 1309.40,491.81 1309.90,491.85 1310.40,491.88 1310.90,491.91 1311.40,491.95 1311.90,491.98 1312.40,492.01 1312.90,492.04 1313.40,492.07 1313.90,492.10 1314.40,492.13 1314.90,492.16 1315.40,492.18 1315.90,492.21 1316.40,492.24 1316.90,492.26 1317.40,492.29 1317.90,492.31 1318.40,492.34 1318.90,492.36 1319.40,492.39 1319.90,492.41 1320.40,492.44 1320.90,492.46 1321.40,492.48 1321.90,492.51 1322.40,492.53 1322.90,492.55 1323.40,492.57 1323.90,492.59 1324.40,492.61 1324.90,492.63 1325.40,492.65 1325.90,492.67 1326.40,492.69 1326.60,492.70 1326.90,492.71 1327.40,492.73 1327.90,492.75 1328.40,492.77 1328.90,492.79 1329.40,492.81 1329.90,492.84 1330.40,492.86 1330.90,492.88 1331.40,492.90 1331.90,492.92 1332.40,492.94 1332.90,492.96 1333.40,492.98 1333.90,492.99 1334.40,493.01 1334.90,493.03 1335.40,493.04 1335.90,493.05 1336.40,493.07 1336.90,493.08 1337.40,493.08 1337.90,493.09 1338.40,493.10 1338.90,493.10 1339.30,493.10 1339.40,493.10 1339.90,493.10 1340.40,493.10 1340.90,493.10 1341.40,493.10 1341.90,493.10 1342.40,493.10 1342.90,493.10 1343.40,493.10 1343.90,493.10 1344.40,493.10 1344.90,493.10 1345.40,493.10 1345.90,493.10 1346.40,493.10 1346.90,493.10 1347.40,493.10 1347.90,493.10 1348.40,493.10 1348.90,493.10 1349.40,493.10 1349.90,493.10 1350.40,493.10 1350.90,493.10 1351.40,493.10 1351.90,493.10 1352.00,493.10 1352.40,493.10 1352.90,493.10 1353.40,493.09 1353.90,493.08 1354.40,493.07 1354.90,493.06 1355.40,493.04 1355.90,493.02 1356.40,493.00 1356.90,492.98 1357.40,492.96 1357.90,492.93 1358.40,492.91 1358.90,492.88 1359.40,492.85 1359.90,492.82 1360.40,492.79 1360.90,492.76 1361.40,492.73 1361.90,492.69 1362.40,492.66 1362.90,492.63 1363.40,492.59 1363.90,492.56 1364.40,492.52 1364.70,492.50 1364.90,492.49 1365.40,492.45 1365.90,492.41 1366.40,492.37 1366.90,492.32 1367.40,492.27 1367.90,492.22 1368.40,492.17 1368.90,492.12 1369.40,492.06 1369.90,492.00 1370.40,491.94 1370.90,491.87 1371.40,491.80 1371.90,491.73 1372.40,491.66 1372.90,491.59 1373.40,491.51 1373.90,491.43 1374.40,491.35 1374.90,491.26 1375.40,491.17 1375.90,491.08 1376.40,490.99 1376.90,490.90 1377.40,490.80 1377.90,490.70 1378.40,490.59 1378.90,490.48 1379.40,490.36 1379.90,490.23 1380.40,490.10 1380.90,489.95 1381.40,489.80 1381.90,489.63 1382.40,489.46 1382.90,489.27 1383.40,489.07 1383.90,488.86 1384.40,488.64 1384.90,488.40 1385.10,488.30 1385.40,488.14 1385.90,487.85 1386.40,487.51 1386.90,487.13 1387.40,486.71 1387.90,486.25 1388.40,485.75 1388.90,485.21 1389.40,484.63 1389.90,484.01 1390.40,483.35 1390.90,482.64 1391.40,481.90 1391.90,481.07 1392.40,480.12 1392.90,479.01 1393.40,477.76 1393.90,476.34 1394.40,474.74 1394.90,472.96 1395.20,471.80 1395.40,470.97 1395.47,470.65 1395.74,469.34 1395.90,468.50 1396.01,467.84 1396.29,466.10 1396.40,465.29 1396.56,464.09 1396.83,461.77 1396.90,461.10 1397.10,459.10 1397.20,457.94 1397.30,456.57 1397.40,454.99 1397.40,454.99 1397.50,453.18 1397.60,451.15 1397.70,448.89 1397.80,446.40 1397.86,444.58 1397.90,442.86 1397.91,442.23 1397.97,439.57 1398.03,436.81 1398.09,434.15 1398.14,431.81 1398.20,430.00 1398.24,428.89 1398.29,427.79 1398.33,426.75 1398.37,425.83 1398.40,425.30 1398.41,425.06 1398.46,424.51 1398.50,424.20 1398.60,423.85 1398.70,423.55 1398.80,423.32 1398.90,423.13 1399.00,423.00 1399.10,422.93 1399.20,422.90 1399.31,422.92 1399.40,422.97 1399.43,422.99 1399.54,423.09 1399.66,423.25 1399.77,423.45 1399.89,423.70 1399.90,423.73 1400.00,424.00 1400.06,424.44 1400.11,425.34 1400.17,426.56 1400.23,427.97 1400.29,429.44 1400.34,430.83 1400.40,432.00 1400.47,433.24 1400.54,434.40 1400.61,435.53 1400.69,436.63 1400.76,437.73 1400.83,438.84 1400.90,440.00 1401.06,442.66 1401.21,445.42 1401.37,448.22 1401.40,448.73 1401.53,451.03 1401.69,453.81 1401.84,456.51 1401.90,457.47 1402.00,459.10 1402.14,461.37 1402.29,463.59 1402.40,465.33 1402.43,465.77 1402.57,467.90 1402.71,469.98 1402.86,472.01 1402.90,472.62 1403.00,474.00" fill="none" stroke="#f00" stroke-width="2.6" stroke-linejoin="round" stroke-linecap="round"/>
<polyline points="796.90,551.00 797.00,550.34 797.10,549.70 797.20,549.08 797.30,548.50 797.40,547.99 797.50,547.55 797.60,547.20 797.81,546.62 797.90,546.42 798.03,546.14 798.24,545.74 798.40,545.47 798.46,545.38 798.67,545.06 798.89,544.74 798.90,544.72 799.10,544.40 799.40,543.91 799.90,543.14 800.40,542.40 800.90,541.69 801.40,541.00 801.90,540.32 802.40,539.65 802.90,538.97 803.40,538.28 803.60,538.00 803.90,537.57 804.40,536.85 804.90,536.11 805.40,535.37 805.90,534.64 806.40,533.92 806.90,533.23 807.40,532.56 807.90,531.94 808.10,531.70 808.40,531.36 808.90,530.81 809.40,530.30 809.90,529.80 810.40,529.32 810.90,528.85 811.40,528.38 811.90,527.90 812.40,527.40 812.60,527.20 812.90,526.89 813.40,526.35 813.90,525.81 814.40,525.28 814.90,524.79 815.00,524.70 815.40,524.34 815.90,523.91 816.40,523.50 816.90,523.10 817.40,522.71 817.90,522.34 818.40,521.96 818.90,521.60 819.40,521.24 819.90,520.87 820.00,520.80 820.40,520.51 820.90,520.16 821.40,519.81 821.90,519.46 822.40,519.12 822.90,518.78 823.40,518.45 823.90,518.12 824.40,517.79 824.90,517.46 825.00,517.40 825.40,517.14 825.90,516.82 826.40,516.51 826.90,516.20 827.40,515.89 827.90,515.58 828.40,515.27 828.90,514.97 829.40,514.67 829.90,514.36 830.00,514.30 830.40,514.06 830.90,513.75 831.40,513.45 831.90,513.15 832.40,512.85 832.90,512.55 833.40,512.25 833.90,511.95 834.40,511.65 834.90,511.36 835.00,511.30 835.40,511.07 835.90,510.78 836.40,510.50 836.90,510.22 837.40,509.94 837.90,509.65 838.40,509.37 838.90,509.07 839.40,508.77 839.90,508.46 840.00,508.40 840.40,508.14 840.90,507.80 841.40,507.46 841.90,507.10 842.40,506.74 842.90,506.37 843.40,506.00 843.90,505.63 844.40,505.26 844.90,504.90 845.40,504.55 845.90,504.20 846.20,504.00 846.40,503.87 846.90,503.55 847.40,503.24 847.90,502.93 848.40,502.63 848.90,502.33 849.40,502.03 849.90,501.72 850.40,501.40 850.90,501.07 851.00,501.00 851.40,500.72 851.90,500.37 852.40,500.01 852.90,499.64 853.40,499.27 853.90,498.89 854.40,498.50 854.90,498.12 855.40,497.73 855.90,497.34 856.40,496.95 856.90,496.56 857.10,496.40 857.40,496.17 857.90,495.78 858.40,495.39 858.90,494.99 859.40,494.60 859.90,494.20 860.40,493.80 860.90,493.40 861.40,492.99 861.90,492.59 862.40,492.18 862.90,491.77 863.10,491.60 863.40,491.35 863.90,490.95 864.40,490.54 864.90,490.14 865.40,489.73 865.90,489.32 866.40,488.89 866.90,488.45 867.40,487.99 867.90,487.50 868.00,487.40 868.40,486.99 868.90,486.45 869.40,485.89 869.90,485.30 870.40,484.68 870.90,484.04 871.40,483.37 871.60,483.10 871.90,482.69 872.40,481.99 872.90,481.26 873.40,480.48 873.90,479.63 874.40,478.70 874.60,478.30 874.86,477.74 874.90,477.64 875.11,477.12 875.37,476.45 875.40,476.38 875.63,475.75 875.89,475.01 875.90,474.97 876.14,474.26 876.40,473.50 876.61,472.86 876.83,472.20 876.90,471.98 877.04,471.52 877.26,470.82 877.40,470.35 877.47,470.10 877.69,469.36 877.90,468.60 878.07,467.98 878.24,467.35 878.40,466.75 878.41,466.70 878.59,466.02 878.76,465.32 878.90,464.71 878.93,464.58 879.10,463.80 879.27,462.98 879.40,462.33 879.44,462.11 879.61,461.20 879.79,460.24 879.90,459.57 879.96,459.23 880.13,458.15 880.30,457.00 880.40,456.33 880.41,456.23 880.53,455.48 880.64,454.69 880.76,453.81 880.87,452.80 880.90,452.52 880.99,451.61 881.10,450.20 881.16,449.35 881.21,448.33 881.27,447.12 881.33,445.70 881.39,444.05 881.40,443.61 881.44,442.16 881.50,440.00 881.53,438.49 881.56,436.40 881.59,433.96 881.61,431.38 881.64,428.89 881.67,426.68 881.70,425.00 881.74,422.98 881.79,421.05 881.83,419.25 881.87,417.68 881.90,416.79 881.91,416.40 881.96,415.48 882.00,415.00 882.10,414.48 882.20,414.05 882.30,413.70 882.40,413.43 882.50,413.25 882.60,413.14 882.70,413.10 882.80,413.14 882.90,413.25 883.00,413.43 883.10,413.70 883.20,414.05 883.30,414.48 883.40,415.00 883.44,415.55 883.49,416.61 883.53,418.07 883.57,419.76 883.61,421.58 883.66,423.37 883.70,425.00 883.76,427.17 883.81,429.56 883.87,432.03 883.90,433.25 883.93,434.45 883.99,436.67 884.04,438.57 884.10,440.00 884.21,442.12 884.33,443.92 884.40,444.90 884.44,445.45 884.56,446.79 884.67,447.98 884.79,449.10 884.90,450.20 885.03,451.40 885.16,452.52 885.29,453.56 885.40,454.44 885.41,454.54 885.54,455.47 885.67,456.35 885.80,457.20 885.90,457.84 885.97,458.30 886.14,459.35 886.31,460.36 886.40,460.84 886.49,461.31 886.66,462.21 886.83,463.04 886.90,463.37 887.00,463.80 887.40,465.42 887.90,467.26 888.40,468.92 888.90,470.41 889.40,471.76 889.70,472.50 889.90,472.97 890.40,474.11 890.90,475.18 891.40,476.19 891.90,477.13 892.40,478.02 892.90,478.85 893.40,479.64 893.90,480.38 894.20,480.80 894.40,481.07 894.90,481.73 895.40,482.36 895.90,482.95 896.40,483.52 896.90,484.06 897.40,484.58 897.90,485.08 898.40,485.57 898.90,486.05 899.40,486.51 899.60,486.70 899.90,486.97 900.40,487.42 900.90,487.85 901.40,488.26 901.90,488.67 902.40,489.06 902.90,489.45 903.40,489.83 903.90,490.20 904.30,490.50 904.40,490.57 904.90,490.95 905.40,491.31 905.90,491.67 906.40,492.02 906.90,492.35 907.40,492.68 907.60,492.80 907.90,492.98 908.40,493.29 908.90,493.58 909.40,493.88 909.90,494.17 910.40,494.46 910.90,494.74 911.40,495.01 911.90,495.28 912.40,495.55 912.90,495.81 913.40,496.07 913.90,496.32 914.40,496.56 914.90,496.80 915.40,497.03 915.90,497.25 916.40,497.47 916.70,497.60 916.90,497.68 917.40,497.89 917.90,498.09 918.40,498.29 918.90,498.49 919.40,498.68 919.90,498.87 920.40,499.05 920.90,499.23 921.40,499.40 921.90,499.58 922.40,499.74 922.90,499.91 923.40,500.07 923.90,500.23 924.40,500.38 924.90,500.54 925.40,500.68 925.80,500.80 925.90,500.83 926.40,500.97 926.90,501.11 927.40,501.24 927.90,501.37 928.40,501.50 928.90,501.62 929.40,501.74 929.90,501.86 930.40,501.98 930.90,502.10 931.40,502.21 931.90,502.33 932.40,502.44 932.90,502.56 933.40,502.67 933.90,502.79 934.40,502.91 934.80,503.00 934.90,503.02 935.40,503.14 935.90,503.26 936.40,503.38 936.90,503.50 937.40,503.62 937.90,503.74 938.40,503.85 938.90,503.97 939.40,504.09 939.90,504.20 940.40,504.32 940.90,504.43 941.40,504.55 941.90,504.66 942.40,504.77 942.90,504.88 943.40,504.99 943.90,505.10 944.40,505.21 944.90,505.31 945.40,505.42 945.90,505.52 946.40,505.63 946.90,505.73 947.40,505.83 947.90,505.94 948.40,506.04 948.90,506.14 949.40,506.24 949.90,506.33 950.40,506.43 950.90,506.53 951.40,506.62 951.90,506.72 952.40,506.81 952.90,506.90 953.40,506.99 953.90,507.08 954.40,507.17 954.90,507.26 955.40,507.36 955.90,507.45 956.40,507.54 956.90,507.63 957.40,507.71 957.90,507.80 958.40,507.89 958.90,507.98 959.40,508.06 959.90,508.14 960.40,508.23 960.90,508.31 961.40,508.39 961.90,508.46 962.40,508.54 962.90,508.61 963.40,508.69 963.90,508.76 964.40,508.82 964.90,508.89 965.00,508.90 965.40,508.95 965.90,509.01 966.40,509.07 966.90,509.12 967.40,509.18 967.90,509.23 968.40,509.28 968.90,509.33 969.40,509.38 969.90,509.42 970.40,509.47 970.90,509.52 971.40,509.57 971.90,509.61 972.40,509.66 972.90,509.71 973.40,509.76 973.90,509.81 974.40,509.86 974.90,509.91 975.40,509.97 975.70,510.00 975.90,510.02 976.40,510.08 976.90,510.14 977.40,510.20 977.90,510.26 978.40,510.32 978.90,510.38 979.40,510.45 979.90,510.51 980.40,510.58 980.90,510.64 981.40,510.71 981.90,510.78 982.40,510.84 982.90,510.91 983.40,510.98 983.90,511.05 984.40,511.12 984.90,511.19 985.40,511.26 985.90,511.33 986.40,511.40 986.90,511.47 987.40,511.54 987.90,511.61 988.40,511.68 988.90,511.75 989.40,511.83 989.90,511.90 990.40,511.97 990.90,512.04 991.40,512.11 991.90,512.18 992.40,512.25 992.90,512.32 993.40,512.39 993.90,512.45 994.40,512.52 994.90,512.59 995.40,512.66 995.90,512.72 996.40,512.79 996.90,512.85 997.40,512.92 997.90,512.98 998.40,513.04 998.90,513.11 999.40,513.17 999.90,513.23 1000.40,513.29 1000.90,513.34 1001.40,513.40 1001.90,513.46 1002.40,513.51 1002.90,513.57 1003.40,513.62 1003.90,513.68 1004.40,513.74 1004.90,513.79 1005.40,513.85 1005.90,513.91 1006.40,513.96 1006.90,514.02 1007.40,514.07 1007.90,514.13 1008.40,514.18 1008.90,514.24 1009.40,514.29 1009.90,514.35 1010.40,514.40 1010.90,514.46 1011.40,514.51 1011.90,514.56 1012.40,514.62 1012.90,514.67 1013.40,514.72 1013.90,514.77 1014.40,514.82 1014.90,514.87 1015.40,514.92 1015.90,514.97 1016.40,515.02 1016.90,515.07 1017.40,515.12 1017.90,515.17 1018.40,515.21 1018.90,515.26 1019.40,515.30 1019.90,515.35 1020.40,515.39 1020.90,515.44 1021.40,515.48 1021.90,515.52 1022.40,515.56 1022.90,515.60 1023.40,515.64 1023.90,515.68 1024.40,515.72 1024.90,515.75 1025.40,515.79 1025.90,515.82 1026.40,515.85 1026.90,515.89 1027.10,515.90 1027.40,515.92 1027.90,515.95 1028.40,515.98 1028.90,516.00 1029.40,516.03 1029.90,516.05 1030.40,516.07 1030.90,516.09 1031.40,516.12 1031.90,516.14 1032.40,516.16 1032.90,516.19 1033.40,516.21 1033.90,516.24 1034.40,516.26 1034.90,516.29 1035.00,516.30 1035.40,516.32 1035.90,516.36 1036.40,516.39 1036.90,516.42 1037.40,516.45 1037.90,516.48 1038.40,516.51 1038.90,516.54 1039.40,516.58 1039.90,516.61 1040.40,516.65 1040.90,516.68 1041.40,516.72 1041.90,516.76 1042.40,516.79 1042.90,516.83 1043.40,516.88 1043.90,516.92 1044.40,516.96 1044.90,517.01 1045.40,517.06 1045.90,517.11 1046.40,517.16 1046.90,517.21 1047.40,517.27 1047.90,517.33 1048.40,517.39 1048.90,517.45 1049.40,517.52 1049.90,517.59 1050.00,517.60 1050.40,517.68 1050.90,517.83 1051.40,517.98 1051.90,518.08 1052.20,518.10 1052.34,517.56 1052.40,517.08 1052.49,516.15 1052.63,514.20 1052.77,512.03 1052.90,510.17 1052.91,509.97 1053.06,508.36 1053.20,507.50 1053.31,507.22 1053.40,507.02 1053.43,506.96 1053.54,506.74 1053.66,506.56 1053.77,506.42 1053.89,506.33 1053.90,506.32 1054.00,506.30 1054.23,506.30 1054.40,506.30 1054.46,506.30 1054.69,506.30 1054.90,506.30 1054.91,506.30 1055.14,506.30 1055.37,506.30 1055.40,506.30 1055.60,506.30 1055.71,506.33 1055.83,506.42 1055.90,506.51 1055.94,506.56 1056.06,506.75 1056.17,506.97 1056.29,507.23 1056.40,507.50 1056.56,508.34 1056.71,509.87 1056.87,511.81 1056.90,512.18 1057.03,513.84 1057.19,515.66 1057.34,516.98 1057.40,517.28 1057.50,517.50 1057.90,517.53 1058.40,517.55 1058.90,517.57 1059.40,517.58 1059.90,517.60 1060.00,517.60 1060.40,517.62 1060.90,517.65 1061.40,517.69 1061.90,517.72 1062.40,517.76 1062.90,517.80 1063.40,517.84 1063.90,517.89 1064.40,517.94 1064.90,517.99 1065.40,518.03 1065.90,518.09 1066.40,518.14 1066.90,518.19 1067.40,518.24 1067.90,518.29 1068.40,518.34 1068.90,518.39 1069.40,518.44 1069.90,518.49 1070.00,518.50 1070.40,518.54 1070.90,518.59 1071.40,518.64 1071.90,518.69 1072.40,518.74 1072.90,518.79 1073.40,518.84 1073.90,518.89 1074.40,518.94 1074.90,518.99 1075.00,519.00 1075.40,519.04 1075.90,519.08 1076.40,519.13 1076.90,519.18 1077.40,519.22 1077.90,519.27 1078.40,519.32 1078.90,519.36 1079.40,519.41 1079.90,519.46 1080.40,519.50 1080.90,519.55 1081.40,519.60 1081.90,519.64 1082.40,519.69 1082.90,519.74 1083.40,519.78 1083.90,519.83 1084.40,519.87 1084.90,519.92 1085.40,519.96 1085.90,520.01 1086.40,520.05 1086.90,520.10 1087.40,520.14 1087.90,520.19 1088.40,520.23 1088.90,520.27 1089.40,520.32 1089.90,520.36 1090.40,520.40 1090.90,520.44 1091.40,520.49 1091.90,520.53 1092.40,520.57 1092.90,520.61 1093.40,520.65 1093.90,520.69 1094.40,520.73 1094.90,520.77 1095.40,520.81 1095.90,520.85 1096.40,520.89 1096.90,520.92 1097.40,520.96 1097.90,521.00 1098.40,521.03 1098.90,521.07 1099.40,521.11 1099.90,521.14 1100.40,521.18 1100.90,521.21 1101.40,521.24 1101.90,521.27 1102.30,521.30 1102.40,521.31 1102.90,521.34 1103.40,521.37 1103.90,521.40 1104.40,521.43 1104.90,521.46 1105.40,521.49 1105.90,521.52 1106.40,521.55 1106.90,521.58 1107.40,521.61 1107.90,521.64 1108.40,521.66 1108.90,521.69 1109.40,521.72 1109.90,521.75 1110.40,521.77 1110.90,521.80 1111.40,521.83 1111.90,521.85 1112.40,521.88 1112.90,521.90 1113.40,521.93 1113.90,521.96 1114.40,521.98 1114.90,522.01 1115.40,522.03 1115.90,522.06 1116.40,522.08 1116.90,522.10 1117.40,522.13 1117.90,522.15 1118.40,522.18 1118.90,522.20 1119.40,522.22 1119.90,522.25 1120.40,522.27 1120.90,522.29 1121.40,522.32 1121.90,522.34 1122.40,522.36 1122.90,522.39 1123.40,522.41 1123.90,522.43 1124.40,522.45 1124.90,522.48 1125.40,522.50 1125.90,522.52 1126.40,522.54 1126.90,522.57 1127.40,522.59 1127.90,522.61 1128.40,522.63 1128.90,522.66 1129.40,522.68 1129.90,522.70 1130.40,522.72 1130.90,522.75 1131.40,522.77 1131.90,522.79 1132.40,522.81 1132.90,522.84 1133.40,522.86 1133.90,522.88 1134.40,522.90 1134.90,522.93 1135.40,522.95 1135.90,522.97 1136.40,523.00 1136.90,523.02 1137.40,523.04 1137.90,523.07 1138.40,523.09 1138.90,523.11 1139.40,523.14 1139.90,523.16 1140.40,523.19 1140.90,523.21 1141.40,523.23 1141.90,523.26 1142.40,523.28 1142.90,523.31 1143.40,523.33 1143.90,523.36 1144.40,523.38 1144.70,523.40 1144.90,523.41 1145.40,523.44 1145.90,523.46 1146.40,523.49 1146.90,523.52 1147.40,523.55 1147.90,523.57 1148.40,523.60 1148.90,523.63 1149.40,523.66 1149.90,523.69 1150.40,523.72 1150.90,523.75 1151.40,523.78 1151.90,523.81 1152.40,523.84 1152.90,523.87 1153.40,523.90 1153.90,523.93 1154.40,523.96 1154.90,523.99 1155.40,524.02 1155.90,524.06 1156.40,524.09 1156.90,524.12 1157.40,524.15 1157.90,524.18 1158.40,524.21 1158.90,524.24 1159.40,524.27 1159.90,524.31 1160.40,524.34 1160.90,524.37 1161.40,524.40 1161.90,524.43 1162.40,524.46 1162.90,524.49 1163.40,524.52 1163.90,524.55 1164.40,524.58 1164.90,524.61 1165.40,524.64 1165.90,524.67 1166.40,524.70 1166.90,524.72 1167.40,524.75 1167.90,524.78 1168.40,524.81 1168.90,524.83 1169.40,524.86 1169.90,524.89 1170.40,524.91 1170.90,524.94 1171.40,524.96 1171.90,524.99 1172.40,525.01 1172.90,525.03 1173.40,525.06 1173.90,525.08 1174.40,525.10 1174.90,525.12 1175.40,525.14 1175.90,525.16 1176.40,525.18 1176.90,525.20 1177.40,525.22 1177.90,525.24 1178.40,525.25 1178.90,525.27 1179.40,525.28 1179.90,525.30 1180.00,525.30 1180.40,525.31 1180.90,525.32 1181.40,525.34 1181.90,525.35 1182.40,525.36 1182.90,525.37 1183.40,525.38 1183.90,525.39 1184.40,525.39 1184.90,525.40 1185.40,525.41 1185.90,525.42 1186.40,525.43 1186.90,525.43 1187.40,525.44 1187.90,525.45 1188.40,525.46 1188.90,525.47 1189.40,525.47 1189.90,525.48 1190.40,525.49 1190.90,525.50 1191.40,525.51 1191.90,525.52 1192.40,525.53 1192.90,525.54 1193.40,525.56 1193.90,525.57 1194.40,525.58 1194.90,525.60 1195.00,525.60 1195.40,525.61 1195.90,525.63 1196.40,525.65 1196.90,525.68 1197.40,525.70 1197.90,525.73 1198.40,525.76 1198.90,525.79 1199.40,525.83 1199.90,525.86 1200.40,525.90 1200.90,525.94 1201.40,525.97 1201.90,526.01 1202.40,526.05 1202.90,526.09 1203.40,526.13 1203.90,526.17 1204.40,526.21 1204.90,526.25 1205.40,526.29 1205.90,526.33 1206.40,526.36 1206.90,526.40 1207.40,526.44 1207.90,526.47 1208.40,526.50 1208.90,526.53 1209.40,526.56 1209.90,526.59 1210.20,526.60 1210.40,526.61 1210.90,526.63 1211.40,526.66 1211.90,526.68 1212.40,526.70 1212.90,526.72 1213.40,526.74 1213.90,526.77 1214.40,526.79 1214.90,526.81 1215.40,526.83 1215.90,526.85 1216.40,526.87 1216.90,526.89 1217.40,526.91 1217.90,526.93 1218.40,526.95 1218.90,526.97 1219.40,526.99 1219.90,527.01 1220.40,527.03 1220.90,527.04 1221.40,527.06 1221.90,527.08 1222.40,527.10 1222.90,527.12 1223.40,527.13 1223.90,527.15 1224.40,527.17 1224.90,527.18 1225.40,527.20 1225.90,527.22 1226.40,527.23 1226.90,527.25 1227.40,527.27 1227.90,527.28 1228.40,527.30 1228.90,527.32 1229.40,527.33 1229.90,527.35 1230.40,527.36 1230.90,527.38 1231.40,527.39 1231.90,527.41 1232.40,527.42 1232.90,527.44 1233.40,527.45 1233.90,527.47 1234.40,527.48 1234.90,527.50 1235.40,527.51 1235.90,527.53 1236.40,527.54 1236.90,527.56 1237.40,527.57 1237.90,527.59 1238.40,527.60 1238.90,527.62 1239.40,527.63 1239.90,527.65 1240.40,527.66 1240.90,527.68 1241.40,527.69 1241.90,527.71 1242.40,527.72 1242.90,527.74 1243.40,527.75 1243.90,527.77 1244.40,527.78 1244.90,527.80 1245.00,527.80 1245.40,527.81 1245.90,527.83 1246.40,527.84 1246.90,527.86 1247.40,527.87 1247.90,527.89 1248.40,527.90 1248.90,527.92 1249.40,527.93 1249.90,527.94 1250.40,527.96 1250.90,527.97 1251.40,527.99 1251.90,528.00 1252.40,528.02 1252.90,528.03 1253.40,528.04 1253.90,528.06 1254.40,528.07 1254.90,528.09 1255.40,528.10 1255.90,528.11 1256.40,528.13 1256.90,528.14 1257.40,528.15 1257.90,528.17 1258.40,528.18 1258.90,528.19 1259.40,528.21 1259.90,528.22 1260.40,528.23 1260.90,528.25 1261.40,528.26 1261.90,528.27 1262.40,528.29 1262.90,528.30 1263.40,528.31 1263.90,528.33 1264.40,528.34 1264.90,528.35 1265.40,528.37 1265.90,528.38 1266.40,528.39 1266.90,528.40 1267.40,528.42 1267.90,528.43 1268.40,528.44 1268.90,528.46 1269.40,528.47 1269.90,528.48 1270.40,528.49 1270.90,528.51 1271.40,528.52 1271.90,528.53 1272.40,528.55 1272.90,528.56 1273.40,528.57 1273.90,528.58 1274.40,528.60 1274.90,528.61 1275.40,528.62 1275.90,528.63 1276.40,528.65 1276.90,528.66 1277.40,528.67 1277.90,528.69 1278.40,528.70 1278.90,528.71 1279.40,528.72 1279.90,528.74 1280.40,528.75 1280.90,528.76 1281.40,528.78 1281.90,528.79 1282.40,528.80 1282.90,528.81 1283.40,528.83 1283.90,528.84 1284.40,528.85 1284.90,528.87 1285.40,528.88 1285.90,528.89 1286.40,528.90 1286.90,528.92 1287.40,528.93 1287.90,528.94 1288.40,528.96 1288.90,528.97 1289.40,528.98 1289.90,529.00 1290.00,529.00 1290.40,529.01 1290.90,529.02 1291.40,529.04 1291.90,529.05 1292.40,529.06 1292.90,529.08 1293.40,529.09 1293.90,529.10 1294.40,529.12 1294.90,529.13 1295.40,529.14 1295.90,529.16 1296.40,529.17 1296.90,529.18 1297.40,529.20 1297.90,529.21 1298.40,529.22 1298.90,529.23 1299.40,529.25 1299.90,529.26 1300.40,529.27 1300.90,529.29 1301.40,529.30 1301.90,529.31 1302.40,529.33 1302.90,529.34 1303.40,529.35 1303.90,529.36 1304.40,529.38 1304.90,529.39 1305.40,529.40 1305.90,529.42 1306.40,529.43 1306.90,529.44 1307.40,529.45 1307.90,529.47 1308.40,529.48 1308.90,529.49 1309.40,529.51 1309.90,529.52 1310.40,529.53 1310.90,529.54 1311.40,529.56 1311.90,529.57 1312.40,529.58 1312.90,529.60 1313.40,529.61 1313.90,529.62 1314.40,529.64 1314.90,529.65 1315.40,529.66 1315.90,529.67 1316.40,529.69 1316.90,529.70 1317.40,529.71 1317.90,529.73 1318.40,529.74 1318.90,529.75 1319.40,529.76 1319.90,529.78 1320.40,529.79 1320.90,529.80 1321.40,529.82 1321.90,529.83 1322.40,529.84 1322.90,529.86 1323.40,529.87 1323.90,529.88 1324.40,529.90 1324.90,529.91 1325.40,529.92 1325.90,529.93 1326.40,529.95 1326.90,529.96 1327.40,529.97 1327.90,529.99 1328.40,530.00 1328.90,530.01 1329.40,530.03 1329.90,530.04 1330.40,530.05 1330.90,530.07 1331.40,530.08 1331.90,530.09 1332.40,530.11 1332.90,530.12 1333.40,530.13 1333.90,530.15 1334.40,530.16 1334.90,530.18 1335.40,530.19 1335.90,530.20 1336.40,530.22 1336.90,530.23 1337.40,530.24 1337.90,530.26 1338.40,530.27 1338.90,530.28 1339.40,530.30 1339.90,530.31 1340.40,530.33 1340.90,530.34 1341.40,530.35 1341.90,530.37 1342.40,530.38 1342.90,530.40 1343.40,530.41 1343.90,530.42 1344.40,530.44 1344.90,530.45 1345.40,530.47 1345.90,530.48 1346.40,530.50 1346.90,530.51 1347.40,530.52 1347.90,530.54 1348.40,530.55 1348.90,530.57 1349.40,530.58 1349.90,530.60 1350.00,530.60 1350.40,530.61 1350.90,530.63 1351.40,530.64 1351.90,530.66 1352.40,530.67 1352.90,530.69 1353.40,530.70 1353.90,530.72 1354.40,530.73 1354.90,530.75 1355.40,530.76 1355.90,530.78 1356.40,530.79 1356.90,530.81 1357.40,530.82 1357.90,530.84 1358.40,530.85 1358.90,530.87 1359.40,530.88 1359.90,530.90 1360.40,530.91 1360.90,530.93 1361.40,530.94 1361.90,530.96 1362.40,530.97 1362.90,530.99 1363.40,531.00 1363.90,531.02 1364.40,531.03 1364.90,531.05 1365.40,531.07 1365.90,531.08 1366.40,531.10 1366.90,531.11 1367.40,531.13 1367.90,531.14 1368.40,531.16 1368.90,531.18 1369.40,531.19 1369.90,531.21 1370.40,531.22 1370.90,531.24 1371.40,531.26 1371.90,531.27 1372.40,531.29 1372.90,531.30 1373.40,531.32 1373.90,531.34 1374.40,531.35 1374.90,531.37 1375.40,531.38 1375.90,531.40 1376.40,531.42 1376.90,531.43 1377.40,531.45 1377.90,531.46 1378.40,531.48 1378.90,531.50 1379.40,531.51 1379.90,531.53 1380.40,531.55 1380.90,531.56 1381.40,531.58 1381.90,531.60 1382.40,531.61 1382.90,531.63 1383.40,531.65 1383.90,531.66 1384.40,531.68 1384.90,531.70 1385.40,531.71 1385.90,531.73 1386.40,531.75 1386.90,531.76 1387.40,531.78 1387.90,531.80 1388.40,531.81 1388.90,531.83 1389.40,531.85 1389.90,531.86 1390.40,531.88 1390.90,531.90 1391.40,531.91 1391.90,531.93 1392.40,531.95 1392.90,531.97 1393.40,531.98 1393.90,532.00 1394.40,532.02 1394.90,532.03 1395.40,532.05 1395.90,532.07 1396.40,532.08 1396.90,532.10 1397.40,532.12 1397.90,532.14 1398.40,532.15 1398.90,532.17 1399.40,532.19 1399.90,532.21 1400.40,532.22 1400.90,532.24 1401.40,532.26 1401.90,532.28 1402.40,532.29 1402.60,532.30" fill="none" stroke="#000" stroke-width="2.6" stroke-linejoin="round" stroke-linecap="round"/>
<rect x="1171.8" y="347.3" width="212.1" height="54.5" fill="#fff" stroke="#1a1a1a" stroke-width="1.7"/>
<path d="M1179.2 362.3H1248.8" stroke="#000" stroke-width="2.6" stroke-linecap="round"/>
<path d="M1179.2 386.9H1248.8" stroke="#f00" stroke-width="2.6" stroke-linecap="round"/>
<text x="1255" y="369.8" class="g">Structure</text>
<text x="1256.5" y="393.5" class="g">Wake oscillator</text>
<text x="0.6" y="23.75" class="p">A</text>
<text x="1.3" y="339.35" class="p">B</text>
<text x="735.4" y="24.15" class="p">C</text>
<text x="736.8" y="323.6" class="p">D</text>
</svg></body></html>
